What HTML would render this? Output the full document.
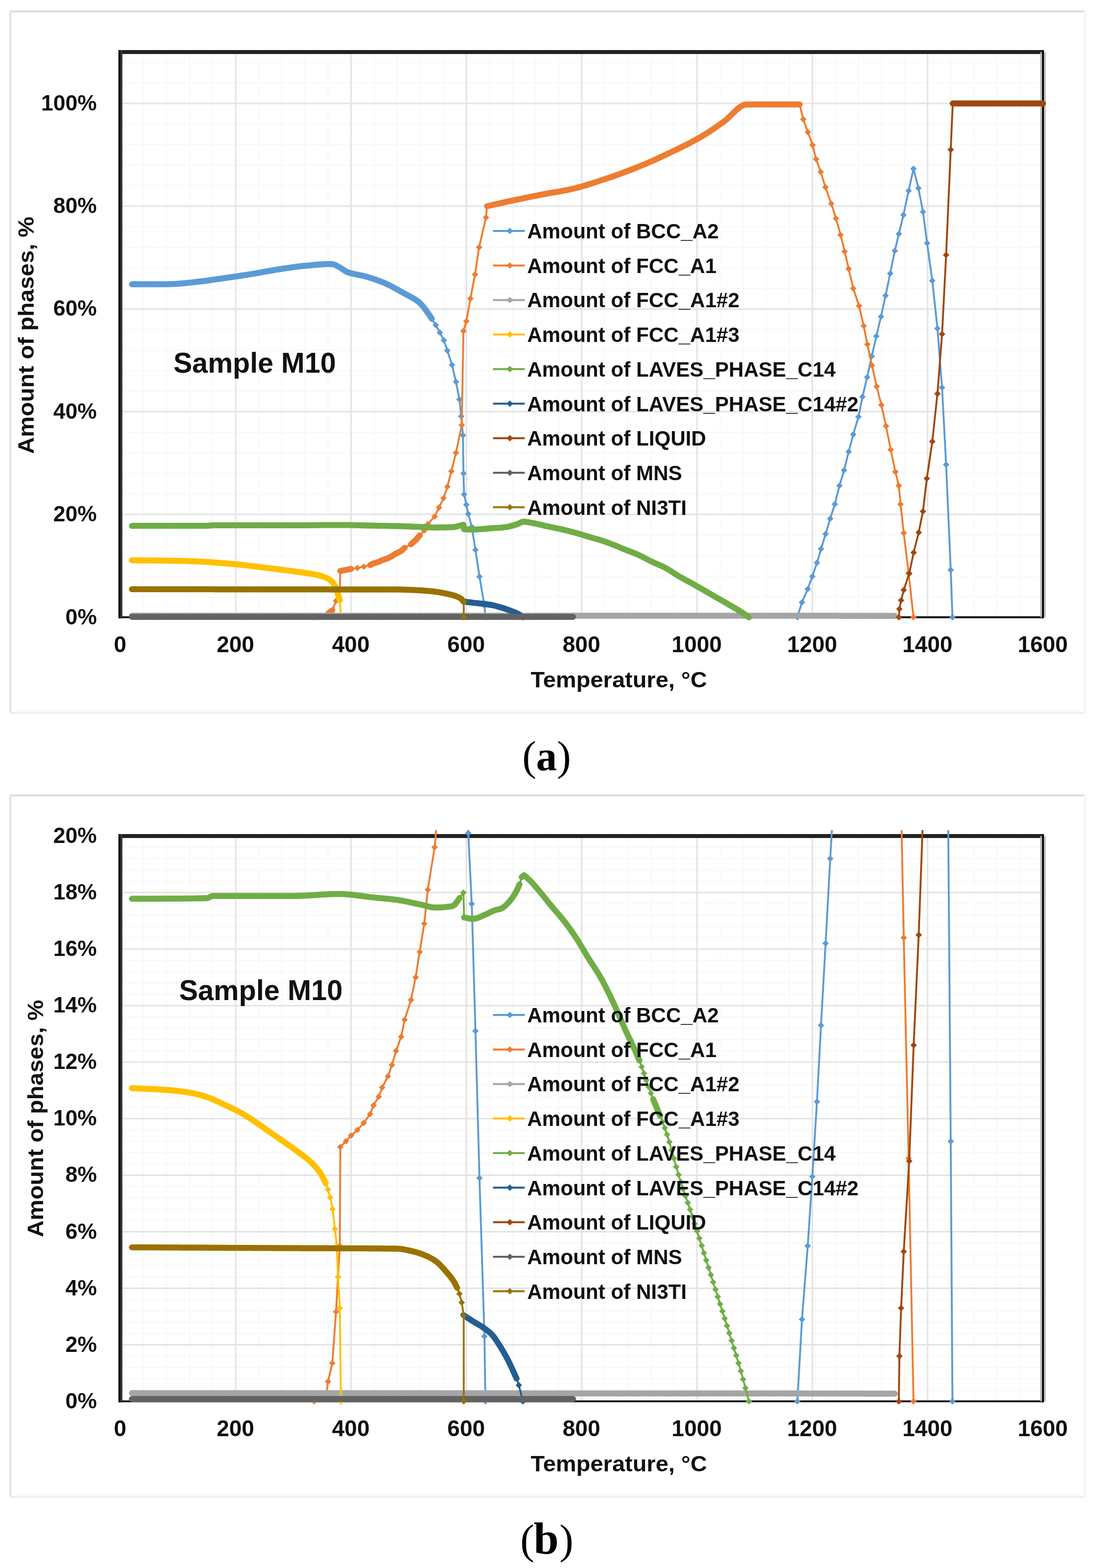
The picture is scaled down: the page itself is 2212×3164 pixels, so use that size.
<!DOCTYPE html>
<html><head><meta charset="utf-8"><title>Phase amounts vs temperature, Sample M10</title>
<style>html,body{margin:0;padding:0;background:#fff;}body{width:2212px;height:3164px;overflow:hidden;}svg{display:block;}</style>
</head><body>
<svg width="2212" height="3164" viewBox="0 0 2212 3164">
<rect width="2212" height="3164" fill="#ffffff"/>
<rect x="21" y="23" width="2169" height="1415" fill="#ffffff"/>
<line x1="19" y1="23" x2="2192" y2="23" stroke="#dcdcdc" stroke-width="4"/>
<line x1="21" y1="21" x2="21" y2="1440" stroke="#e3e3e3" stroke-width="4"/>
<line x1="19" y1="1438" x2="2192" y2="1438" stroke="#efefef" stroke-width="4"/>
<line x1="2190" y1="21" x2="2190" y2="1440" stroke="#f5f5f5" stroke-width="4"/>
<path d="M243 1204H2105M243 1162.6H2105M243 1121.1H2105M243 1079.6H2105M243 996.7H2105M243 955.2H2105M243 913.7H2105M243 872.2H2105M243 789.3H2105M243 747.8H2105M243 706.4H2105M243 664.9H2105M243 581.9H2105M243 540.5H2105M243 499H2105M243 457.5H2105M243 374.6H2105M243 333.1H2105M243 291.6H2105M243 250.2H2105M243 167.2H2105M243 125.7H2105M289.6 105V1245.5M336.1 105V1245.5M382.6 105V1245.5M429.2 105V1245.5M522.3 105V1245.5M568.9 105V1245.5M615.4 105V1245.5M662 105V1245.5M755 105V1245.5M801.6 105V1245.5M848.1 105V1245.5M894.7 105V1245.5M987.8 105V1245.5M1034.3 105V1245.5M1080.9 105V1245.5M1127.5 105V1245.5M1220.5 105V1245.5M1267.1 105V1245.5M1313.7 105V1245.5M1360.2 105V1245.5M1453.3 105V1245.5M1499.8 105V1245.5M1546.4 105V1245.5M1593 105V1245.5M1686 105V1245.5M1732.6 105V1245.5M1779.2 105V1245.5M1825.7 105V1245.5M1918.8 105V1245.5M1965.3 105V1245.5M2011.9 105V1245.5M2058.4 105V1245.5" stroke="#f8f8f8" stroke-width="2" fill="none"/>
<path d="M243 1245.5H2105M243 1038.1H2105M243 830.8H2105M243 623.4H2105M243 416H2105M243 208.7H2105M475.8 105V1245.5M708.5 105V1245.5M941.2 105V1245.5M1174 105V1245.5M1406.8 105V1245.5M1639.5 105V1245.5M1872.2 105V1245.5" stroke="#e3e3e3" stroke-width="3" fill="none"/>
<path d="M239.0 105H2107.0" stroke="#222" stroke-width="8" fill="none"/>
<path d="M239.0 1245.5H2107.0" stroke="#111" stroke-width="3.8" fill="none"/>
<path d="M241 101V1247.5" stroke="#0a0a0a" stroke-width="4" fill="none"/>
<path d="M245 101V1247.5" stroke="#333" stroke-width="4" fill="none"/>
<path d="M2105 101V1247.5" stroke="#0a0a0a" stroke-width="4" fill="none"/>
<path d="M2101 105V1245.5 M2109 105V1245.5" stroke="#b4b4b4" stroke-width="3" fill="none"/>
<clipPath id="clipa"><rect x="223.0" y="93.0" width="1902.0" height="1164.5"/></clipPath>
<g clip-path="url(#clipa)">
<path d="M266.3 573.6 L270.9 573.6 L275.6 573.6 L280.2 573.6 L284.9 573.6 L289.6 573.6 L294.2 573.6 L298.9 573.6 L303.5 573.6 L308.2 573.6 L312.8 573.6 L317.5 573.6 L322.1 573.6 L326.8 573.5 L331.4 573.5 L336.1 573.4 L340.8 573.3 L345.4 573.2 L350.1 573.1 L354.7 572.9 L359.4 572.6 L364 572.2 L368.7 571.8 L373.3 571.4 L378 570.9 L382.6 570.4 L387.3 569.9 L392 569.4 L396.6 568.8 L401.3 568.3 L405.9 567.8 L410.6 567.2 L415.2 566.6 L419.9 566 L424.5 565.3 L429.2 564.6 L433.9 563.9 L438.5 563.3 L443.2 562.6 L447.8 561.9 L452.5 561.2 L457.1 560.5 L461.8 559.9 L466.4 559.2 L471.1 558.5 L475.8 557.9 L480.4 557.2 L485.1 556.5 L489.7 555.8 L494.4 555.1 L499 554.4 L503.7 553.6 L508.3 552.9 L513 552.1 L517.6 551.3 L522.3 550.5 L527 549.7 L531.6 548.8 L536.3 548 L540.9 547.1 L545.6 546.3 L550.2 545.5 L554.9 544.7 L559.5 543.9 L564.2 543.2 L568.9 542.5 L573.5 541.8 L578.2 541.1 L582.8 540.4 L587.5 539.7 L592.1 539 L596.8 538.4 L601.4 537.8 L606.1 537.3 L610.7 536.8 L615.4 536.3 L620.1 535.9 L624.7 535.5 L629.4 535 L634 534.6 L638.7 534.2 L643.3 533.8 L648 533.5 L652.6 533.2 L657.3 532.9 L662 532.8 L666.6 532.7 L671.3 532.9 L675.9 534.4 L680.6 536.8 L685.2 539.3 L689.9 542.1 L694.5 545.4 L699.2 548.3 L703.8 550 L708.5 551.4 L713.2 552.5 L717.8 553.5 L722.5 554.4 L727.1 555.3 L731.8 556.3 L736.4 557.5 L741.1 558.8 L745.7 560.2 L750.4 561.6 L755 563.2 L759.7 564.8 L764.4 566.5 L769 568.3 L773.7 570.1 L778.3 572.1 L783 574.2 L787.6 576.5 L792.3 578.9 L796.9 581.4 L801.6 584 L806.3 586.7 L810.9 589.3 L815.6 591.9 L820.2 594.4 L824.9 596.8 L829.5 599.2 L834.2 601.9 L838.8 604.8 L843.5 608.1 L848.1 612 L852.8 617.2 L857.5 623.1 L862.1 629.5 L866.8 636 L871.4 643.2 L879.6 656.1 L887.7 671.1 L895.9 686.7 L902.8 707.4 L912.2 736.4 L920.3 770.6 L927.3 805.9 L930.8 840.1 L934.3 878.5 L935.4 955.2 L936.6 997.7 L941.2 1018.4 L945 1037.1 L952.1 1063 L959.6 1109.7 L967.7 1163.6 L977.7 1221.7 L979.7 1245.5" stroke="#5B9BD5" stroke-width="3.8" fill="none" stroke-linejoin="round"/>
<path d="M266.3 573.6 L270.9 573.6 L275.6 573.6 L280.2 573.6 L284.9 573.6 L289.6 573.6 L294.2 573.6 L298.9 573.6 L303.5 573.6 L308.2 573.6 L312.8 573.6 L317.5 573.6 L322.1 573.6 L326.8 573.5 L331.4 573.5 L336.1 573.4 L340.8 573.3 L345.4 573.2 L350.1 573.1 L354.7 572.9 L359.4 572.6 L364 572.2 L368.7 571.8 L373.3 571.4 L378 570.9 L382.6 570.4 L387.3 569.9 L392 569.4 L396.6 568.8 L401.3 568.3 L405.9 567.8 L410.6 567.2 L415.2 566.6 L419.9 566 L424.5 565.3 L429.2 564.6 L433.9 563.9 L438.5 563.3 L443.2 562.6 L447.8 561.9 L452.5 561.2 L457.1 560.5 L461.8 559.9 L466.4 559.2 L471.1 558.5 L475.8 557.9 L480.4 557.2 L485.1 556.5 L489.7 555.8 L494.4 555.1 L499 554.4 L503.7 553.6 L508.3 552.9 L513 552.1 L517.6 551.3 L522.3 550.5 L527 549.7 L531.6 548.8 L536.3 548 L540.9 547.1 L545.6 546.3 L550.2 545.5 L554.9 544.7 L559.5 543.9 L564.2 543.2 L568.9 542.5 L573.5 541.8 L578.2 541.1 L582.8 540.4 L587.5 539.7 L592.1 539 L596.8 538.4 L601.4 537.8 L606.1 537.3 L610.7 536.8 L615.4 536.3 L620.1 535.9 L624.7 535.5 L629.4 535 L634 534.6 L638.7 534.2 L643.3 533.8 L648 533.5 L652.6 533.2 L657.3 532.9 L662 532.8 L666.6 532.7 L671.3 532.9 L675.9 534.4 L680.6 536.8 L685.2 539.3 L689.9 542.1 L694.5 545.4 L699.2 548.3 L703.8 550 L708.5 551.4 L713.2 552.5 L717.8 553.5 L722.5 554.4 L727.1 555.3 L731.8 556.3 L736.4 557.5 L741.1 558.8 L745.7 560.2 L750.4 561.6 L755 563.2 L759.7 564.8 L764.4 566.5 L769 568.3 L773.7 570.1 L778.3 572.1 L783 574.2 L787.6 576.5 L792.3 578.9 L796.9 581.4 L801.6 584 L806.3 586.7 L810.9 589.3 L815.6 591.9 L820.2 594.4 L824.9 596.8 L829.5 599.2 L834.2 601.9 L838.8 604.8 L843.5 608.1 L848.1 612 L852.8 617.2 L857.5 623.1 L862.1 629.5 L866.8 636 L871.4 643.2" stroke="#5B9BD5" stroke-width="12" fill="none" stroke-linejoin="round" stroke-linecap="round"/>
<path d="M266.3 567.6l6 6l-6 6l-6 -6zM270.9 567.6l6 6l-6 6l-6 -6zM275.6 567.6l6 6l-6 6l-6 -6zM280.2 567.6l6 6l-6 6l-6 -6zM284.9 567.6l6 6l-6 6l-6 -6zM289.6 567.6l6 6l-6 6l-6 -6zM294.2 567.6l6 6l-6 6l-6 -6zM298.9 567.6l6 6l-6 6l-6 -6zM303.5 567.6l6 6l-6 6l-6 -6zM308.2 567.6l6 6l-6 6l-6 -6zM312.8 567.6l6 6l-6 6l-6 -6zM317.5 567.6l6 6l-6 6l-6 -6zM322.1 567.6l6 6l-6 6l-6 -6zM326.8 567.5l6 6l-6 6l-6 -6zM331.4 567.5l6 6l-6 6l-6 -6zM336.1 567.4l6 6l-6 6l-6 -6zM340.8 567.3l6 6l-6 6l-6 -6zM345.4 567.2l6 6l-6 6l-6 -6zM350.1 567.1l6 6l-6 6l-6 -6zM354.7 566.9l6 6l-6 6l-6 -6zM359.4 566.6l6 6l-6 6l-6 -6zM364 566.2l6 6l-6 6l-6 -6zM368.7 565.8l6 6l-6 6l-6 -6zM373.3 565.4l6 6l-6 6l-6 -6zM378 564.9l6 6l-6 6l-6 -6zM382.6 564.4l6 6l-6 6l-6 -6zM387.3 563.9l6 6l-6 6l-6 -6zM392 563.4l6 6l-6 6l-6 -6zM396.6 562.8l6 6l-6 6l-6 -6zM401.3 562.3l6 6l-6 6l-6 -6zM405.9 561.8l6 6l-6 6l-6 -6zM410.6 561.2l6 6l-6 6l-6 -6zM415.2 560.6l6 6l-6 6l-6 -6zM419.9 560l6 6l-6 6l-6 -6zM424.5 559.3l6 6l-6 6l-6 -6zM429.2 558.6l6 6l-6 6l-6 -6zM433.9 557.9l6 6l-6 6l-6 -6zM438.5 557.3l6 6l-6 6l-6 -6zM443.2 556.6l6 6l-6 6l-6 -6zM447.8 555.9l6 6l-6 6l-6 -6zM452.5 555.2l6 6l-6 6l-6 -6zM457.1 554.5l6 6l-6 6l-6 -6zM461.8 553.9l6 6l-6 6l-6 -6zM466.4 553.2l6 6l-6 6l-6 -6zM471.1 552.5l6 6l-6 6l-6 -6zM475.8 551.9l6 6l-6 6l-6 -6zM480.4 551.2l6 6l-6 6l-6 -6zM485.1 550.5l6 6l-6 6l-6 -6zM489.7 549.8l6 6l-6 6l-6 -6zM494.4 549.1l6 6l-6 6l-6 -6zM499 548.4l6 6l-6 6l-6 -6zM503.7 547.6l6 6l-6 6l-6 -6zM508.3 546.9l6 6l-6 6l-6 -6zM513 546.1l6 6l-6 6l-6 -6zM517.6 545.3l6 6l-6 6l-6 -6zM522.3 544.5l6 6l-6 6l-6 -6zM527 543.7l6 6l-6 6l-6 -6zM531.6 542.8l6 6l-6 6l-6 -6zM536.3 542l6 6l-6 6l-6 -6zM540.9 541.1l6 6l-6 6l-6 -6zM545.6 540.3l6 6l-6 6l-6 -6zM550.2 539.5l6 6l-6 6l-6 -6zM554.9 538.7l6 6l-6 6l-6 -6zM559.5 537.9l6 6l-6 6l-6 -6zM564.2 537.2l6 6l-6 6l-6 -6zM568.9 536.5l6 6l-6 6l-6 -6zM573.5 535.8l6 6l-6 6l-6 -6zM578.2 535.1l6 6l-6 6l-6 -6zM582.8 534.4l6 6l-6 6l-6 -6zM587.5 533.7l6 6l-6 6l-6 -6zM592.1 533l6 6l-6 6l-6 -6zM596.8 532.4l6 6l-6 6l-6 -6zM601.4 531.8l6 6l-6 6l-6 -6zM606.1 531.3l6 6l-6 6l-6 -6zM610.7 530.8l6 6l-6 6l-6 -6zM615.4 530.3l6 6l-6 6l-6 -6zM620.1 529.9l6 6l-6 6l-6 -6zM624.7 529.5l6 6l-6 6l-6 -6zM629.4 529l6 6l-6 6l-6 -6zM634 528.6l6 6l-6 6l-6 -6zM638.7 528.2l6 6l-6 6l-6 -6zM643.3 527.8l6 6l-6 6l-6 -6zM648 527.5l6 6l-6 6l-6 -6zM652.6 527.2l6 6l-6 6l-6 -6zM657.3 526.9l6 6l-6 6l-6 -6zM662 526.8l6 6l-6 6l-6 -6zM666.6 526.7l6 6l-6 6l-6 -6zM671.3 526.9l6 6l-6 6l-6 -6zM675.9 528.4l6 6l-6 6l-6 -6zM680.6 530.8l6 6l-6 6l-6 -6zM685.2 533.3l6 6l-6 6l-6 -6zM689.9 536.1l6 6l-6 6l-6 -6zM694.5 539.4l6 6l-6 6l-6 -6zM699.2 542.3l6 6l-6 6l-6 -6zM703.8 544l6 6l-6 6l-6 -6zM708.5 545.4l6 6l-6 6l-6 -6zM713.2 546.5l6 6l-6 6l-6 -6zM717.8 547.5l6 6l-6 6l-6 -6zM722.5 548.4l6 6l-6 6l-6 -6zM727.1 549.3l6 6l-6 6l-6 -6zM731.8 550.3l6 6l-6 6l-6 -6zM736.4 551.5l6 6l-6 6l-6 -6zM741.1 552.8l6 6l-6 6l-6 -6zM745.7 554.2l6 6l-6 6l-6 -6zM750.4 555.6l6 6l-6 6l-6 -6zM755 557.2l6 6l-6 6l-6 -6zM759.7 558.8l6 6l-6 6l-6 -6zM764.4 560.5l6 6l-6 6l-6 -6zM769 562.3l6 6l-6 6l-6 -6zM773.7 564.1l6 6l-6 6l-6 -6zM778.3 566.1l6 6l-6 6l-6 -6zM783 568.2l6 6l-6 6l-6 -6zM787.6 570.5l6 6l-6 6l-6 -6zM792.3 572.9l6 6l-6 6l-6 -6zM796.9 575.4l6 6l-6 6l-6 -6zM801.6 578l6 6l-6 6l-6 -6zM806.3 580.7l6 6l-6 6l-6 -6zM810.9 583.3l6 6l-6 6l-6 -6zM815.6 585.9l6 6l-6 6l-6 -6zM820.2 588.4l6 6l-6 6l-6 -6zM824.9 590.8l6 6l-6 6l-6 -6zM829.5 593.2l6 6l-6 6l-6 -6zM834.2 595.9l6 6l-6 6l-6 -6zM838.8 598.8l6 6l-6 6l-6 -6zM843.5 602.1l6 6l-6 6l-6 -6zM848.1 606l6 6l-6 6l-6 -6zM852.8 611.2l6 6l-6 6l-6 -6zM857.5 617.1l6 6l-6 6l-6 -6zM862.1 623.5l6 6l-6 6l-6 -6zM866.8 630l6 6l-6 6l-6 -6zM871.4 637.2l6 6l-6 6l-6 -6zM879.6 650.1l6 6l-6 6l-6 -6zM887.7 665.1l6 6l-6 6l-6 -6zM895.9 680.7l6 6l-6 6l-6 -6zM902.8 701.4l6 6l-6 6l-6 -6zM912.2 730.4l6 6l-6 6l-6 -6zM920.3 764.6l6 6l-6 6l-6 -6zM927.3 799.9l6 6l-6 6l-6 -6zM930.8 834.1l6 6l-6 6l-6 -6zM934.3 872.5l6 6l-6 6l-6 -6zM935.4 949.2l6 6l-6 6l-6 -6zM936.6 991.7l6 6l-6 6l-6 -6zM941.2 1012.4l6 6l-6 6l-6 -6zM945 1031.1l6 6l-6 6l-6 -6zM952.1 1057l6 6l-6 6l-6 -6zM959.6 1103.7l6 6l-6 6l-6 -6zM967.7 1157.6l6 6l-6 6l-6 -6zM977.7 1215.7l6 6l-6 6l-6 -6zM979.7 1239.5l6 6l-6 6l-6 -6z" fill="#5B9BD5" stroke="#5B9BD5" stroke-width="1"/>
<path d="M1609.2 1245.5 L1618.6 1215.4 L1630.2 1188.5 L1639.5 1163.1 L1648.8 1135.6 L1657 1107.6 L1666.3 1077.5 L1675.6 1046.4 L1684.9 1017.4 L1694.2 980.1 L1703.5 949 L1712.8 911.6 L1722.1 876.4 L1732.6 841.1 L1740.7 800.7 L1750.1 761.3 L1759.4 718.8 L1768.7 678.4 L1778 639 L1787.3 596.5 L1796.6 551.9 L1805.9 506.2 L1814.1 472 L1823.4 433.7 L1833.8 384.9 L1843.7 340.4 L1853.6 379.8 L1862.9 427.5 L1871.1 490.7 L1881.6 566.4 L1892 662.8 L1901.3 782 L1909.5 937.6 L1918.8 1150.1 L1922.3 1245.5" stroke="#5B9BD5" stroke-width="3.8" fill="none" stroke-linejoin="round"/>
<path d="M1609.2 1239.5l6 6l-6 6l-6 -6zM1618.6 1209.4l6 6l-6 6l-6 -6zM1630.2 1182.5l6 6l-6 6l-6 -6zM1639.5 1157.1l6 6l-6 6l-6 -6zM1648.8 1129.6l6 6l-6 6l-6 -6zM1657 1101.6l6 6l-6 6l-6 -6zM1666.3 1071.5l6 6l-6 6l-6 -6zM1675.6 1040.4l6 6l-6 6l-6 -6zM1684.9 1011.4l6 6l-6 6l-6 -6zM1694.2 974.1l6 6l-6 6l-6 -6zM1703.5 943l6 6l-6 6l-6 -6zM1712.8 905.6l6 6l-6 6l-6 -6zM1722.1 870.4l6 6l-6 6l-6 -6zM1732.6 835.1l6 6l-6 6l-6 -6zM1740.7 794.7l6 6l-6 6l-6 -6zM1750.1 755.3l6 6l-6 6l-6 -6zM1759.4 712.8l6 6l-6 6l-6 -6zM1768.7 672.4l6 6l-6 6l-6 -6zM1778 633l6 6l-6 6l-6 -6zM1787.3 590.5l6 6l-6 6l-6 -6zM1796.6 545.9l6 6l-6 6l-6 -6zM1805.9 500.2l6 6l-6 6l-6 -6zM1814.1 466l6 6l-6 6l-6 -6zM1823.4 427.7l6 6l-6 6l-6 -6zM1833.8 378.9l6 6l-6 6l-6 -6zM1843.7 334.4l6 6l-6 6l-6 -6zM1853.6 373.8l6 6l-6 6l-6 -6zM1862.9 421.5l6 6l-6 6l-6 -6zM1871.1 484.7l6 6l-6 6l-6 -6zM1881.6 560.4l6 6l-6 6l-6 -6zM1892 656.8l6 6l-6 6l-6 -6zM1901.3 776l6 6l-6 6l-6 -6zM1909.5 931.6l6 6l-6 6l-6 -6zM1918.8 1144.1l6 6l-6 6l-6 -6zM1922.3 1239.5l6 6l-6 6l-6 -6z" fill="#5B9BD5" stroke="#5B9BD5" stroke-width="1"/>
<path d="M634 1245.5 L658.5 1243 L662 1238.2 L670.7 1231.5 L678.2 1212.6 L685.8 1188.5 L686.9 1152.2 L698 1150.1 L708.5 1148 L721.3 1146 L734.1 1143.4 L746.9 1140.2 L753.9 1136.9 L764.4 1133.7 L771.3 1130.4 L783 1126.3 L791.1 1122.1 L799.3 1116.9 L809.7 1111.8 L816.7 1105.5 L829.5 1098.3 L838.8 1090 L847 1080.6 L856.3 1070.3 L863.3 1057.8 L877.2 1042.3 L886 1024.1 L895.3 1005 L902.8 982.1 L911 951 L920.3 913.7 L931.9 857.7 L935.4 668 L941.2 648.3 L949.4 602.7 L958.7 553.9 L966.9 499 L980.8 438.9 L983.1 416 L987.8 415 L992.5 414 L997.1 412.9 L1001.8 411.9 L1006.4 410.8 L1011.1 409.8 L1015.7 408.7 L1020.4 407.7 L1025 406.7 L1029.7 405.7 L1034.3 404.7 L1039 403.7 L1043.7 402.7 L1048.3 401.8 L1053 400.8 L1057.6 399.8 L1062.3 398.9 L1066.9 397.9 L1071.6 397 L1076.2 396 L1080.9 395.1 L1085.6 394.2 L1090.2 393.2 L1094.9 392.3 L1099.5 391.5 L1104.2 390.6 L1108.8 389.8 L1113.5 389 L1118.1 388.2 L1122.8 387.4 L1127.5 386.6 L1132.1 385.8 L1136.8 384.9 L1141.4 384 L1146.1 383.1 L1150.7 382.1 L1155.4 381.1 L1160 380 L1164.7 378.8 L1169.3 377.6 L1174 376.3 L1178.7 374.9 L1183.3 373.5 L1188 372.1 L1192.6 370.7 L1197.3 369.2 L1201.9 367.6 L1206.6 366.1 L1211.2 364.6 L1215.9 363 L1220.5 361.5 L1225.2 359.9 L1229.9 358.4 L1234.5 356.8 L1239.2 355.2 L1243.8 353.5 L1248.5 351.9 L1253.1 350.2 L1257.8 348.5 L1262.4 346.7 L1267.1 345 L1271.8 343.2 L1276.4 341.4 L1281.1 339.6 L1285.7 337.7 L1290.4 335.8 L1295 333.9 L1299.7 332 L1304.3 330 L1309 328 L1313.7 325.9 L1318.3 323.9 L1323 321.8 L1327.6 319.7 L1332.3 317.5 L1336.9 315.4 L1341.6 313.2 L1346.2 311 L1350.9 308.8 L1355.5 306.5 L1360.2 304.3 L1364.9 302.1 L1369.5 299.8 L1374.2 297.5 L1378.8 295.2 L1383.5 292.9 L1388.1 290.6 L1392.8 288.2 L1397.4 285.7 L1402.1 283.2 L1406.8 280.7 L1411.4 278 L1416.1 275.4 L1420.7 272.6 L1425.4 269.7 L1430 266.8 L1434.7 263.7 L1439.3 260.5 L1444 257.3 L1448.6 254.1 L1453.3 250.8 L1458 247.5 L1462.6 244.1 L1467.3 240.3 L1471.9 235.9 L1476.6 231.3 L1481.2 226.7 L1485.9 222.2 L1490.5 218.1 L1495.2 214.8 L1499.8 212.3 L1504.5 210.9 L1509.2 210.8 L1513.8 210.8 L1518.5 210.8 L1523.1 210.8 L1527.8 210.8 L1532.4 210.8 L1537.1 210.8 L1541.7 210.8 L1546.4 210.8 L1551.1 210.8 L1555.7 210.8 L1560.4 210.8 L1565 210.8 L1569.7 210.8 L1574.3 210.8 L1579 210.8 L1583.6 210.8 L1588.3 210.8 L1593 210.8 L1597.6 210.8 L1602.3 210.8 L1606.9 210.8 L1613.9 210.8 L1621.2 240.8 L1630.5 266.7 L1640 292.7 L1647.1 321.2 L1656.5 347 L1665.9 377.7 L1677.7 410.9 L1687.2 440.9 L1696.5 474.1 L1704.7 507.3 L1712.8 542.5 L1722.1 581.9 L1733.8 617.2 L1743.1 657.6 L1750.6 694.9 L1759.9 737.5 L1769.4 780 L1778.8 817.3 L1788.2 859.8 L1797.7 907.5 L1807.1 952.1 L1814.1 980.1 L1817.6 1017.4 L1824 1075.5 L1833.8 1156.3 L1843.7 1245.5" stroke="#ED7D31" stroke-width="3.8" fill="none" stroke-linejoin="round"/>
<path d="M658.5 1243 L662 1238.2 L670.7 1231.5M686.9 1152.2 L698 1150.1 L708.5 1148M746.9 1140.2 L753.9 1136.9 L764.4 1133.7 L771.3 1130.4 L783 1126.3 L791.1 1122.1 L799.3 1116.9 L809.7 1111.8 L816.7 1105.5M829.5 1098.3 L838.8 1090 L847 1080.6M983.1 416 L987.8 415 L992.5 414 L997.1 412.9 L1001.8 411.9 L1006.4 410.8 L1011.1 409.8 L1015.7 408.7 L1020.4 407.7 L1025 406.7 L1029.7 405.7 L1034.3 404.7 L1039 403.7 L1043.7 402.7 L1048.3 401.8 L1053 400.8 L1057.6 399.8 L1062.3 398.9 L1066.9 397.9 L1071.6 397 L1076.2 396 L1080.9 395.1 L1085.6 394.2 L1090.2 393.2 L1094.9 392.3 L1099.5 391.5 L1104.2 390.6 L1108.8 389.8 L1113.5 389 L1118.1 388.2 L1122.8 387.4 L1127.5 386.6 L1132.1 385.8 L1136.8 384.9 L1141.4 384 L1146.1 383.1 L1150.7 382.1 L1155.4 381.1 L1160 380 L1164.7 378.8 L1169.3 377.6 L1174 376.3 L1178.7 374.9 L1183.3 373.5 L1188 372.1 L1192.6 370.7 L1197.3 369.2 L1201.9 367.6 L1206.6 366.1 L1211.2 364.6 L1215.9 363 L1220.5 361.5 L1225.2 359.9 L1229.9 358.4 L1234.5 356.8 L1239.2 355.2 L1243.8 353.5 L1248.5 351.9 L1253.1 350.2 L1257.8 348.5 L1262.4 346.7 L1267.1 345 L1271.8 343.2 L1276.4 341.4 L1281.1 339.6 L1285.7 337.7 L1290.4 335.8 L1295 333.9 L1299.7 332 L1304.3 330 L1309 328 L1313.7 325.9 L1318.3 323.9 L1323 321.8 L1327.6 319.7 L1332.3 317.5 L1336.9 315.4 L1341.6 313.2 L1346.2 311 L1350.9 308.8 L1355.5 306.5 L1360.2 304.3 L1364.9 302.1 L1369.5 299.8 L1374.2 297.5 L1378.8 295.2 L1383.5 292.9 L1388.1 290.6 L1392.8 288.2 L1397.4 285.7 L1402.1 283.2 L1406.8 280.7 L1411.4 278 L1416.1 275.4 L1420.7 272.6 L1425.4 269.7 L1430 266.8 L1434.7 263.7 L1439.3 260.5 L1444 257.3 L1448.6 254.1 L1453.3 250.8 L1458 247.5 L1462.6 244.1 L1467.3 240.3 L1471.9 235.9 L1476.6 231.3 L1481.2 226.7 L1485.9 222.2 L1490.5 218.1 L1495.2 214.8 L1499.8 212.3 L1504.5 210.9 L1509.2 210.8 L1513.8 210.8 L1518.5 210.8 L1523.1 210.8 L1527.8 210.8 L1532.4 210.8 L1537.1 210.8 L1541.7 210.8 L1546.4 210.8 L1551.1 210.8 L1555.7 210.8 L1560.4 210.8 L1565 210.8 L1569.7 210.8 L1574.3 210.8 L1579 210.8 L1583.6 210.8 L1588.3 210.8 L1593 210.8 L1597.6 210.8 L1602.3 210.8 L1606.9 210.8 L1613.9 210.8" stroke="#ED7D31" stroke-width="12" fill="none" stroke-linejoin="round" stroke-linecap="round"/>
<path d="M634 1239.5l6 6l-6 6l-6 -6zM658.5 1237l6 6l-6 6l-6 -6zM662 1232.2l6 6l-6 6l-6 -6zM670.7 1225.5l6 6l-6 6l-6 -6zM678.2 1206.6l6 6l-6 6l-6 -6zM685.8 1182.5l6 6l-6 6l-6 -6zM686.9 1146.2l6 6l-6 6l-6 -6zM698 1144.1l6 6l-6 6l-6 -6zM708.5 1142l6 6l-6 6l-6 -6zM721.3 1140l6 6l-6 6l-6 -6zM734.1 1137.4l6 6l-6 6l-6 -6zM746.9 1134.2l6 6l-6 6l-6 -6zM753.9 1130.9l6 6l-6 6l-6 -6zM764.4 1127.7l6 6l-6 6l-6 -6zM771.3 1124.4l6 6l-6 6l-6 -6zM783 1120.3l6 6l-6 6l-6 -6zM791.1 1116.1l6 6l-6 6l-6 -6zM799.3 1110.9l6 6l-6 6l-6 -6zM809.7 1105.8l6 6l-6 6l-6 -6zM816.7 1099.5l6 6l-6 6l-6 -6zM829.5 1092.3l6 6l-6 6l-6 -6zM838.8 1084l6 6l-6 6l-6 -6zM847 1074.6l6 6l-6 6l-6 -6zM856.3 1064.3l6 6l-6 6l-6 -6zM863.3 1051.8l6 6l-6 6l-6 -6zM877.2 1036.3l6 6l-6 6l-6 -6zM886 1018.1l6 6l-6 6l-6 -6zM895.3 999l6 6l-6 6l-6 -6zM902.8 976.1l6 6l-6 6l-6 -6zM911 945l6 6l-6 6l-6 -6zM920.3 907.7l6 6l-6 6l-6 -6zM931.9 851.7l6 6l-6 6l-6 -6zM935.4 662l6 6l-6 6l-6 -6zM941.2 642.3l6 6l-6 6l-6 -6zM949.4 596.7l6 6l-6 6l-6 -6zM958.7 547.9l6 6l-6 6l-6 -6zM966.9 493l6 6l-6 6l-6 -6zM980.8 432.9l6 6l-6 6l-6 -6zM983.1 410l6 6l-6 6l-6 -6zM987.8 409l6 6l-6 6l-6 -6zM992.5 408l6 6l-6 6l-6 -6zM997.1 406.9l6 6l-6 6l-6 -6zM1001.8 405.9l6 6l-6 6l-6 -6zM1006.4 404.8l6 6l-6 6l-6 -6zM1011.1 403.8l6 6l-6 6l-6 -6zM1015.7 402.7l6 6l-6 6l-6 -6zM1020.4 401.7l6 6l-6 6l-6 -6zM1025 400.7l6 6l-6 6l-6 -6zM1029.7 399.7l6 6l-6 6l-6 -6zM1034.3 398.7l6 6l-6 6l-6 -6zM1039 397.7l6 6l-6 6l-6 -6zM1043.7 396.7l6 6l-6 6l-6 -6zM1048.3 395.8l6 6l-6 6l-6 -6zM1053 394.8l6 6l-6 6l-6 -6zM1057.6 393.8l6 6l-6 6l-6 -6zM1062.3 392.9l6 6l-6 6l-6 -6zM1066.9 391.9l6 6l-6 6l-6 -6zM1071.6 391l6 6l-6 6l-6 -6zM1076.2 390l6 6l-6 6l-6 -6zM1080.9 389.1l6 6l-6 6l-6 -6zM1085.6 388.2l6 6l-6 6l-6 -6zM1090.2 387.2l6 6l-6 6l-6 -6zM1094.9 386.3l6 6l-6 6l-6 -6zM1099.5 385.5l6 6l-6 6l-6 -6zM1104.2 384.6l6 6l-6 6l-6 -6zM1108.8 383.8l6 6l-6 6l-6 -6zM1113.5 383l6 6l-6 6l-6 -6zM1118.1 382.2l6 6l-6 6l-6 -6zM1122.8 381.4l6 6l-6 6l-6 -6zM1127.5 380.6l6 6l-6 6l-6 -6zM1132.1 379.8l6 6l-6 6l-6 -6zM1136.8 378.9l6 6l-6 6l-6 -6zM1141.4 378l6 6l-6 6l-6 -6zM1146.1 377.1l6 6l-6 6l-6 -6zM1150.7 376.1l6 6l-6 6l-6 -6zM1155.4 375.1l6 6l-6 6l-6 -6zM1160 374l6 6l-6 6l-6 -6zM1164.7 372.8l6 6l-6 6l-6 -6zM1169.3 371.6l6 6l-6 6l-6 -6zM1174 370.3l6 6l-6 6l-6 -6zM1178.7 368.9l6 6l-6 6l-6 -6zM1183.3 367.5l6 6l-6 6l-6 -6zM1188 366.1l6 6l-6 6l-6 -6zM1192.6 364.7l6 6l-6 6l-6 -6zM1197.3 363.2l6 6l-6 6l-6 -6zM1201.9 361.6l6 6l-6 6l-6 -6zM1206.6 360.1l6 6l-6 6l-6 -6zM1211.2 358.6l6 6l-6 6l-6 -6zM1215.9 357l6 6l-6 6l-6 -6zM1220.5 355.5l6 6l-6 6l-6 -6zM1225.2 353.9l6 6l-6 6l-6 -6zM1229.9 352.4l6 6l-6 6l-6 -6zM1234.5 350.8l6 6l-6 6l-6 -6zM1239.2 349.2l6 6l-6 6l-6 -6zM1243.8 347.5l6 6l-6 6l-6 -6zM1248.5 345.9l6 6l-6 6l-6 -6zM1253.1 344.2l6 6l-6 6l-6 -6zM1257.8 342.5l6 6l-6 6l-6 -6zM1262.4 340.7l6 6l-6 6l-6 -6zM1267.1 339l6 6l-6 6l-6 -6zM1271.8 337.2l6 6l-6 6l-6 -6zM1276.4 335.4l6 6l-6 6l-6 -6zM1281.1 333.6l6 6l-6 6l-6 -6zM1285.7 331.7l6 6l-6 6l-6 -6zM1290.4 329.8l6 6l-6 6l-6 -6zM1295 327.9l6 6l-6 6l-6 -6zM1299.7 326l6 6l-6 6l-6 -6zM1304.3 324l6 6l-6 6l-6 -6zM1309 322l6 6l-6 6l-6 -6zM1313.7 319.9l6 6l-6 6l-6 -6zM1318.3 317.9l6 6l-6 6l-6 -6zM1323 315.8l6 6l-6 6l-6 -6zM1327.6 313.7l6 6l-6 6l-6 -6zM1332.3 311.5l6 6l-6 6l-6 -6zM1336.9 309.4l6 6l-6 6l-6 -6zM1341.6 307.2l6 6l-6 6l-6 -6zM1346.2 305l6 6l-6 6l-6 -6zM1350.9 302.8l6 6l-6 6l-6 -6zM1355.5 300.5l6 6l-6 6l-6 -6zM1360.2 298.3l6 6l-6 6l-6 -6zM1364.9 296.1l6 6l-6 6l-6 -6zM1369.5 293.8l6 6l-6 6l-6 -6zM1374.2 291.5l6 6l-6 6l-6 -6zM1378.8 289.2l6 6l-6 6l-6 -6zM1383.5 286.9l6 6l-6 6l-6 -6zM1388.1 284.6l6 6l-6 6l-6 -6zM1392.8 282.2l6 6l-6 6l-6 -6zM1397.4 279.7l6 6l-6 6l-6 -6zM1402.1 277.2l6 6l-6 6l-6 -6zM1406.8 274.7l6 6l-6 6l-6 -6zM1411.4 272l6 6l-6 6l-6 -6zM1416.1 269.4l6 6l-6 6l-6 -6zM1420.7 266.6l6 6l-6 6l-6 -6zM1425.4 263.7l6 6l-6 6l-6 -6zM1430 260.8l6 6l-6 6l-6 -6zM1434.7 257.7l6 6l-6 6l-6 -6zM1439.3 254.5l6 6l-6 6l-6 -6zM1444 251.3l6 6l-6 6l-6 -6zM1448.6 248.1l6 6l-6 6l-6 -6zM1453.3 244.8l6 6l-6 6l-6 -6zM1458 241.5l6 6l-6 6l-6 -6zM1462.6 238.1l6 6l-6 6l-6 -6zM1467.3 234.3l6 6l-6 6l-6 -6zM1471.9 229.9l6 6l-6 6l-6 -6zM1476.6 225.3l6 6l-6 6l-6 -6zM1481.2 220.7l6 6l-6 6l-6 -6zM1485.9 216.2l6 6l-6 6l-6 -6zM1490.5 212.1l6 6l-6 6l-6 -6zM1495.2 208.8l6 6l-6 6l-6 -6zM1499.8 206.3l6 6l-6 6l-6 -6zM1504.5 204.9l6 6l-6 6l-6 -6zM1509.2 204.8l6 6l-6 6l-6 -6zM1513.8 204.8l6 6l-6 6l-6 -6zM1518.5 204.8l6 6l-6 6l-6 -6zM1523.1 204.8l6 6l-6 6l-6 -6zM1527.8 204.8l6 6l-6 6l-6 -6zM1532.4 204.8l6 6l-6 6l-6 -6zM1537.1 204.8l6 6l-6 6l-6 -6zM1541.7 204.8l6 6l-6 6l-6 -6zM1546.4 204.8l6 6l-6 6l-6 -6zM1551.1 204.8l6 6l-6 6l-6 -6zM1555.7 204.8l6 6l-6 6l-6 -6zM1560.4 204.8l6 6l-6 6l-6 -6zM1565 204.8l6 6l-6 6l-6 -6zM1569.7 204.8l6 6l-6 6l-6 -6zM1574.3 204.8l6 6l-6 6l-6 -6zM1579 204.8l6 6l-6 6l-6 -6zM1583.6 204.8l6 6l-6 6l-6 -6zM1588.3 204.8l6 6l-6 6l-6 -6zM1593 204.8l6 6l-6 6l-6 -6zM1597.6 204.8l6 6l-6 6l-6 -6zM1602.3 204.8l6 6l-6 6l-6 -6zM1606.9 204.8l6 6l-6 6l-6 -6zM1613.9 204.8l6 6l-6 6l-6 -6zM1621.2 234.8l6 6l-6 6l-6 -6zM1630.5 260.7l6 6l-6 6l-6 -6zM1640 286.7l6 6l-6 6l-6 -6zM1647.1 315.2l6 6l-6 6l-6 -6zM1656.5 341l6 6l-6 6l-6 -6zM1665.9 371.7l6 6l-6 6l-6 -6zM1677.7 404.9l6 6l-6 6l-6 -6zM1687.2 434.9l6 6l-6 6l-6 -6zM1696.5 468.1l6 6l-6 6l-6 -6zM1704.7 501.3l6 6l-6 6l-6 -6zM1712.8 536.5l6 6l-6 6l-6 -6zM1722.1 575.9l6 6l-6 6l-6 -6zM1733.8 611.2l6 6l-6 6l-6 -6zM1743.1 651.6l6 6l-6 6l-6 -6zM1750.6 688.9l6 6l-6 6l-6 -6zM1759.9 731.5l6 6l-6 6l-6 -6zM1769.4 774l6 6l-6 6l-6 -6zM1778.8 811.3l6 6l-6 6l-6 -6zM1788.2 853.8l6 6l-6 6l-6 -6zM1797.7 901.5l6 6l-6 6l-6 -6zM1807.1 946.1l6 6l-6 6l-6 -6zM1814.1 974.1l6 6l-6 6l-6 -6zM1817.6 1011.4l6 6l-6 6l-6 -6zM1824 1069.5l6 6l-6 6l-6 -6zM1833.8 1150.3l6 6l-6 6l-6 -6zM1843.7 1239.5l6 6l-6 6l-6 -6z" fill="#ED7D31" stroke="#ED7D31" stroke-width="1"/>
<path d="M266.3 1242.5 L270.9 1242.5 L275.6 1242.5 L280.2 1242.5 L284.9 1242.5 L289.6 1242.5 L294.2 1242.5 L298.9 1242.5 L303.5 1242.5 L308.2 1242.5 L312.8 1242.5 L317.5 1242.5 L322.1 1242.5 L326.8 1242.5 L331.4 1242.5 L336.1 1242.5 L340.8 1242.5 L345.4 1242.5 L350.1 1242.5 L354.7 1242.5 L359.4 1242.5 L364 1242.5 L368.7 1242.5 L373.3 1242.5 L378 1242.5 L382.6 1242.5 L387.3 1242.5 L392 1242.5 L396.6 1242.5 L401.3 1242.5 L405.9 1242.5 L410.6 1242.5 L415.2 1242.5 L419.9 1242.5 L424.5 1242.5 L429.2 1242.5 L433.9 1242.5 L438.5 1242.5 L443.2 1242.5 L447.8 1242.5 L452.5 1242.5 L457.1 1242.5 L461.8 1242.5 L466.4 1242.5 L471.1 1242.5 L475.8 1242.5 L480.4 1242.5 L485.1 1242.5 L489.7 1242.5 L494.4 1242.5 L499 1242.5 L503.7 1242.5 L508.3 1242.5 L513 1242.5 L517.6 1242.5 L522.3 1242.5 L527 1242.5 L531.6 1242.5 L536.3 1242.5 L540.9 1242.5 L545.6 1242.5 L550.2 1242.5 L554.9 1242.5 L559.5 1242.5 L564.2 1242.5 L568.9 1242.5 L573.5 1242.5 L578.2 1242.5 L582.8 1242.5 L587.5 1242.5 L592.1 1242.5 L596.8 1242.5 L601.4 1242.5 L606.1 1242.5 L610.7 1242.5 L615.4 1242.5 L620.1 1242.5 L624.7 1242.5 L629.4 1242.5 L634 1242.5 L638.7 1242.5 L643.3 1242.5 L648 1242.5 L652.6 1242.5 L657.3 1242.5 L662 1242.5 L666.6 1242.5 L671.3 1242.5 L675.9 1242.5 L680.6 1242.5 L685.2 1242.5 L689.9 1242.5 L694.5 1242.5 L699.2 1242.5 L703.8 1242.5 L708.5 1242.5 L713.2 1242.5 L717.8 1242.5 L722.5 1242.5 L727.1 1242.5 L731.8 1242.5 L736.4 1242.5 L741.1 1242.5 L745.7 1242.5 L750.4 1242.5 L755 1242.5 L759.7 1242.5 L764.4 1242.5 L769 1242.5 L773.7 1242.5 L778.3 1242.5 L783 1242.5 L787.6 1242.5 L792.3 1242.5 L796.9 1242.5 L801.6 1242.5 L806.3 1242.5 L810.9 1242.5 L815.6 1242.5 L820.2 1242.5 L824.9 1242.5 L829.5 1242.5 L834.2 1242.5 L838.8 1242.5 L843.5 1242.5 L848.1 1242.5 L852.8 1242.5 L857.5 1242.5 L862.1 1242.5 L866.8 1242.5 L871.4 1242.5 L876.1 1242.5 L880.7 1242.5 L885.4 1242.5 L890 1242.5 L894.7 1242.5 L899.4 1242.5 L904 1242.5 L908.7 1242.5 L913.3 1242.5 L918 1242.5 L922.6 1242.5 L927.3 1242.5 L931.9 1242.5 L936.6 1242.5 L941.2 1242.5 L945.9 1242.5 L950.6 1242.5 L955.2 1242.5 L959.9 1242.6 L964.5 1242.6 L969.2 1242.6 L973.8 1242.6 L978.5 1242.6 L983.1 1242.6 L987.8 1242.6 L992.5 1242.6 L997.1 1242.6 L1001.8 1242.6 L1006.4 1242.6 L1011.1 1242.6 L1015.7 1242.6 L1020.4 1242.6 L1025 1242.6 L1029.7 1242.6 L1034.3 1242.6 L1039 1242.6 L1043.7 1242.6 L1048.3 1242.6 L1053 1242.6 L1057.6 1242.6 L1062.3 1242.6 L1066.9 1242.6 L1071.6 1242.6 L1076.2 1242.6 L1080.9 1242.6 L1085.6 1242.6 L1090.2 1242.6 L1094.9 1242.6 L1099.5 1242.6 L1104.2 1242.6 L1108.8 1242.6 L1113.5 1242.6 L1118.1 1242.6 L1122.8 1242.6 L1127.5 1242.6 L1132.1 1242.6 L1136.8 1242.6 L1141.4 1242.6 L1146.1 1242.6 L1150.7 1242.6 L1155.4 1242.6 L1160 1242.6 L1164.7 1242.6 L1169.3 1242.6 L1174 1242.6 L1178.7 1242.6 L1183.3 1242.6 L1188 1242.6 L1192.6 1242.6 L1197.3 1242.6 L1201.9 1242.6 L1206.6 1242.6 L1211.2 1242.6 L1215.9 1242.6 L1220.5 1242.6 L1225.2 1242.6 L1229.9 1242.6 L1234.5 1242.6 L1239.2 1242.6 L1243.8 1242.6 L1248.5 1242.6 L1253.1 1242.6 L1257.8 1242.6 L1262.4 1242.6 L1267.1 1242.6 L1271.8 1242.6 L1276.4 1242.6 L1281.1 1242.6 L1285.7 1242.6 L1290.4 1242.6 L1295 1242.6 L1299.7 1242.6 L1304.3 1242.6 L1309 1242.6 L1313.7 1242.6 L1318.3 1242.6 L1323 1242.6 L1327.6 1242.6 L1332.3 1242.6 L1336.9 1242.6 L1341.6 1242.6 L1346.2 1242.6 L1350.9 1242.6 L1355.5 1242.6 L1360.2 1242.6 L1364.9 1242.6 L1369.5 1242.6 L1374.2 1242.6 L1378.8 1242.6 L1383.5 1242.6 L1388.1 1242.6 L1392.8 1242.6 L1397.4 1242.6 L1402.1 1242.6 L1406.8 1242.6 L1411.4 1242.6 L1416.1 1242.6 L1420.7 1242.6 L1425.4 1242.6 L1430 1242.6 L1434.7 1242.6 L1439.3 1242.6 L1444 1242.6 L1448.6 1242.6 L1453.3 1242.6 L1458 1242.6 L1462.6 1242.6 L1467.3 1242.6 L1471.9 1242.6 L1476.6 1242.6 L1481.2 1242.6 L1485.9 1242.6 L1490.5 1242.6 L1495.2 1242.6 L1499.8 1242.6 L1504.5 1242.6 L1509.2 1242.6 L1513.8 1242.6 L1518.5 1242.6 L1523.1 1242.6 L1527.8 1242.6 L1532.4 1242.6 L1537.1 1242.6 L1541.7 1242.6 L1546.4 1242.6 L1551.1 1242.6 L1555.7 1242.6 L1560.4 1242.6 L1565 1242.6 L1569.7 1242.6 L1574.3 1242.6 L1579 1242.6 L1583.6 1242.6 L1588.3 1242.6 L1593 1242.6 L1597.6 1242.6 L1602.3 1242.6 L1606.9 1242.6 L1611.6 1242.6 L1616.2 1242.6 L1620.9 1242.6 L1625.5 1242.6 L1630.2 1242.6 L1634.8 1242.6 L1639.5 1242.6 L1644.2 1242.6 L1648.8 1242.6 L1653.5 1242.6 L1658.1 1242.6 L1662.8 1242.6 L1667.4 1242.6 L1672.1 1242.6 L1676.7 1242.6 L1681.4 1242.6 L1686 1242.6 L1690.7 1242.6 L1695.4 1242.7 L1700 1242.7 L1704.7 1242.7 L1709.3 1242.7 L1714 1242.7 L1718.6 1242.7 L1723.3 1242.7 L1727.9 1242.7 L1732.6 1242.7 L1737.3 1242.7 L1741.9 1242.7 L1746.6 1242.7 L1751.2 1242.7 L1755.9 1242.7 L1760.5 1242.7 L1765.2 1242.7 L1769.8 1242.7 L1774.5 1242.7 L1779.2 1242.7 L1783.8 1242.7 L1788.5 1242.7 L1793.1 1242.7 L1797.8 1242.7 L1805.9 1242.7" stroke="#A5A5A5" stroke-width="3.8" fill="none" stroke-linejoin="round"/>
<path d="M266.3 1242.5 L270.9 1242.5 L275.6 1242.5 L280.2 1242.5 L284.9 1242.5 L289.6 1242.5 L294.2 1242.5 L298.9 1242.5 L303.5 1242.5 L308.2 1242.5 L312.8 1242.5 L317.5 1242.5 L322.1 1242.5 L326.8 1242.5 L331.4 1242.5 L336.1 1242.5 L340.8 1242.5 L345.4 1242.5 L350.1 1242.5 L354.7 1242.5 L359.4 1242.5 L364 1242.5 L368.7 1242.5 L373.3 1242.5 L378 1242.5 L382.6 1242.5 L387.3 1242.5 L392 1242.5 L396.6 1242.5 L401.3 1242.5 L405.9 1242.5 L410.6 1242.5 L415.2 1242.5 L419.9 1242.5 L424.5 1242.5 L429.2 1242.5 L433.9 1242.5 L438.5 1242.5 L443.2 1242.5 L447.8 1242.5 L452.5 1242.5 L457.1 1242.5 L461.8 1242.5 L466.4 1242.5 L471.1 1242.5 L475.8 1242.5 L480.4 1242.5 L485.1 1242.5 L489.7 1242.5 L494.4 1242.5 L499 1242.5 L503.7 1242.5 L508.3 1242.5 L513 1242.5 L517.6 1242.5 L522.3 1242.5 L527 1242.5 L531.6 1242.5 L536.3 1242.5 L540.9 1242.5 L545.6 1242.5 L550.2 1242.5 L554.9 1242.5 L559.5 1242.5 L564.2 1242.5 L568.9 1242.5 L573.5 1242.5 L578.2 1242.5 L582.8 1242.5 L587.5 1242.5 L592.1 1242.5 L596.8 1242.5 L601.4 1242.5 L606.1 1242.5 L610.7 1242.5 L615.4 1242.5 L620.1 1242.5 L624.7 1242.5 L629.4 1242.5 L634 1242.5 L638.7 1242.5 L643.3 1242.5 L648 1242.5 L652.6 1242.5 L657.3 1242.5 L662 1242.5 L666.6 1242.5 L671.3 1242.5 L675.9 1242.5 L680.6 1242.5 L685.2 1242.5 L689.9 1242.5 L694.5 1242.5 L699.2 1242.5 L703.8 1242.5 L708.5 1242.5 L713.2 1242.5 L717.8 1242.5 L722.5 1242.5 L727.1 1242.5 L731.8 1242.5 L736.4 1242.5 L741.1 1242.5 L745.7 1242.5 L750.4 1242.5 L755 1242.5 L759.7 1242.5 L764.4 1242.5 L769 1242.5 L773.7 1242.5 L778.3 1242.5 L783 1242.5 L787.6 1242.5 L792.3 1242.5 L796.9 1242.5 L801.6 1242.5 L806.3 1242.5 L810.9 1242.5 L815.6 1242.5 L820.2 1242.5 L824.9 1242.5 L829.5 1242.5 L834.2 1242.5 L838.8 1242.5 L843.5 1242.5 L848.1 1242.5 L852.8 1242.5 L857.5 1242.5 L862.1 1242.5 L866.8 1242.5 L871.4 1242.5 L876.1 1242.5 L880.7 1242.5 L885.4 1242.5 L890 1242.5 L894.7 1242.5 L899.4 1242.5 L904 1242.5 L908.7 1242.5 L913.3 1242.5 L918 1242.5 L922.6 1242.5 L927.3 1242.5 L931.9 1242.5 L936.6 1242.5 L941.2 1242.5 L945.9 1242.5 L950.6 1242.5 L955.2 1242.5 L959.9 1242.6 L964.5 1242.6 L969.2 1242.6 L973.8 1242.6 L978.5 1242.6 L983.1 1242.6 L987.8 1242.6 L992.5 1242.6 L997.1 1242.6 L1001.8 1242.6 L1006.4 1242.6 L1011.1 1242.6 L1015.7 1242.6 L1020.4 1242.6 L1025 1242.6 L1029.7 1242.6 L1034.3 1242.6 L1039 1242.6 L1043.7 1242.6 L1048.3 1242.6 L1053 1242.6 L1057.6 1242.6 L1062.3 1242.6 L1066.9 1242.6 L1071.6 1242.6 L1076.2 1242.6 L1080.9 1242.6 L1085.6 1242.6 L1090.2 1242.6 L1094.9 1242.6 L1099.5 1242.6 L1104.2 1242.6 L1108.8 1242.6 L1113.5 1242.6 L1118.1 1242.6 L1122.8 1242.6 L1127.5 1242.6 L1132.1 1242.6 L1136.8 1242.6 L1141.4 1242.6 L1146.1 1242.6 L1150.7 1242.6 L1155.4 1242.6 L1160 1242.6 L1164.7 1242.6 L1169.3 1242.6 L1174 1242.6 L1178.7 1242.6 L1183.3 1242.6 L1188 1242.6 L1192.6 1242.6 L1197.3 1242.6 L1201.9 1242.6 L1206.6 1242.6 L1211.2 1242.6 L1215.9 1242.6 L1220.5 1242.6 L1225.2 1242.6 L1229.9 1242.6 L1234.5 1242.6 L1239.2 1242.6 L1243.8 1242.6 L1248.5 1242.6 L1253.1 1242.6 L1257.8 1242.6 L1262.4 1242.6 L1267.1 1242.6 L1271.8 1242.6 L1276.4 1242.6 L1281.1 1242.6 L1285.7 1242.6 L1290.4 1242.6 L1295 1242.6 L1299.7 1242.6 L1304.3 1242.6 L1309 1242.6 L1313.7 1242.6 L1318.3 1242.6 L1323 1242.6 L1327.6 1242.6 L1332.3 1242.6 L1336.9 1242.6 L1341.6 1242.6 L1346.2 1242.6 L1350.9 1242.6 L1355.5 1242.6 L1360.2 1242.6 L1364.9 1242.6 L1369.5 1242.6 L1374.2 1242.6 L1378.8 1242.6 L1383.5 1242.6 L1388.1 1242.6 L1392.8 1242.6 L1397.4 1242.6 L1402.1 1242.6 L1406.8 1242.6 L1411.4 1242.6 L1416.1 1242.6 L1420.7 1242.6 L1425.4 1242.6 L1430 1242.6 L1434.7 1242.6 L1439.3 1242.6 L1444 1242.6 L1448.6 1242.6 L1453.3 1242.6 L1458 1242.6 L1462.6 1242.6 L1467.3 1242.6 L1471.9 1242.6 L1476.6 1242.6 L1481.2 1242.6 L1485.9 1242.6 L1490.5 1242.6 L1495.2 1242.6 L1499.8 1242.6 L1504.5 1242.6 L1509.2 1242.6 L1513.8 1242.6 L1518.5 1242.6 L1523.1 1242.6 L1527.8 1242.6 L1532.4 1242.6 L1537.1 1242.6 L1541.7 1242.6 L1546.4 1242.6 L1551.1 1242.6 L1555.7 1242.6 L1560.4 1242.6 L1565 1242.6 L1569.7 1242.6 L1574.3 1242.6 L1579 1242.6 L1583.6 1242.6 L1588.3 1242.6 L1593 1242.6 L1597.6 1242.6 L1602.3 1242.6 L1606.9 1242.6 L1611.6 1242.6 L1616.2 1242.6 L1620.9 1242.6 L1625.5 1242.6 L1630.2 1242.6 L1634.8 1242.6 L1639.5 1242.6 L1644.2 1242.6 L1648.8 1242.6 L1653.5 1242.6 L1658.1 1242.6 L1662.8 1242.6 L1667.4 1242.6 L1672.1 1242.6 L1676.7 1242.6 L1681.4 1242.6 L1686 1242.6 L1690.7 1242.6 L1695.4 1242.7 L1700 1242.7 L1704.7 1242.7 L1709.3 1242.7 L1714 1242.7 L1718.6 1242.7 L1723.3 1242.7 L1727.9 1242.7 L1732.6 1242.7 L1737.3 1242.7 L1741.9 1242.7 L1746.6 1242.7 L1751.2 1242.7 L1755.9 1242.7 L1760.5 1242.7 L1765.2 1242.7 L1769.8 1242.7 L1774.5 1242.7 L1779.2 1242.7 L1783.8 1242.7 L1788.5 1242.7 L1793.1 1242.7 L1797.8 1242.7 L1805.9 1242.7" stroke="#A5A5A5" stroke-width="12" fill="none" stroke-linejoin="round" stroke-linecap="round"/>
<path d="M266.3 1236.5l6 6l-6 6l-6 -6zM270.9 1236.5l6 6l-6 6l-6 -6zM275.6 1236.5l6 6l-6 6l-6 -6zM280.2 1236.5l6 6l-6 6l-6 -6zM284.9 1236.5l6 6l-6 6l-6 -6zM289.6 1236.5l6 6l-6 6l-6 -6zM294.2 1236.5l6 6l-6 6l-6 -6zM298.9 1236.5l6 6l-6 6l-6 -6zM303.5 1236.5l6 6l-6 6l-6 -6zM308.2 1236.5l6 6l-6 6l-6 -6zM312.8 1236.5l6 6l-6 6l-6 -6zM317.5 1236.5l6 6l-6 6l-6 -6zM322.1 1236.5l6 6l-6 6l-6 -6zM326.8 1236.5l6 6l-6 6l-6 -6zM331.4 1236.5l6 6l-6 6l-6 -6zM336.1 1236.5l6 6l-6 6l-6 -6zM340.8 1236.5l6 6l-6 6l-6 -6zM345.4 1236.5l6 6l-6 6l-6 -6zM350.1 1236.5l6 6l-6 6l-6 -6zM354.7 1236.5l6 6l-6 6l-6 -6zM359.4 1236.5l6 6l-6 6l-6 -6zM364 1236.5l6 6l-6 6l-6 -6zM368.7 1236.5l6 6l-6 6l-6 -6zM373.3 1236.5l6 6l-6 6l-6 -6zM378 1236.5l6 6l-6 6l-6 -6zM382.6 1236.5l6 6l-6 6l-6 -6zM387.3 1236.5l6 6l-6 6l-6 -6zM392 1236.5l6 6l-6 6l-6 -6zM396.6 1236.5l6 6l-6 6l-6 -6zM401.3 1236.5l6 6l-6 6l-6 -6zM405.9 1236.5l6 6l-6 6l-6 -6zM410.6 1236.5l6 6l-6 6l-6 -6zM415.2 1236.5l6 6l-6 6l-6 -6zM419.9 1236.5l6 6l-6 6l-6 -6zM424.5 1236.5l6 6l-6 6l-6 -6zM429.2 1236.5l6 6l-6 6l-6 -6zM433.9 1236.5l6 6l-6 6l-6 -6zM438.5 1236.5l6 6l-6 6l-6 -6zM443.2 1236.5l6 6l-6 6l-6 -6zM447.8 1236.5l6 6l-6 6l-6 -6zM452.5 1236.5l6 6l-6 6l-6 -6zM457.1 1236.5l6 6l-6 6l-6 -6zM461.8 1236.5l6 6l-6 6l-6 -6zM466.4 1236.5l6 6l-6 6l-6 -6zM471.1 1236.5l6 6l-6 6l-6 -6zM475.8 1236.5l6 6l-6 6l-6 -6zM480.4 1236.5l6 6l-6 6l-6 -6zM485.1 1236.5l6 6l-6 6l-6 -6zM489.7 1236.5l6 6l-6 6l-6 -6zM494.4 1236.5l6 6l-6 6l-6 -6zM499 1236.5l6 6l-6 6l-6 -6zM503.7 1236.5l6 6l-6 6l-6 -6zM508.3 1236.5l6 6l-6 6l-6 -6zM513 1236.5l6 6l-6 6l-6 -6zM517.6 1236.5l6 6l-6 6l-6 -6zM522.3 1236.5l6 6l-6 6l-6 -6zM527 1236.5l6 6l-6 6l-6 -6zM531.6 1236.5l6 6l-6 6l-6 -6zM536.3 1236.5l6 6l-6 6l-6 -6zM540.9 1236.5l6 6l-6 6l-6 -6zM545.6 1236.5l6 6l-6 6l-6 -6zM550.2 1236.5l6 6l-6 6l-6 -6zM554.9 1236.5l6 6l-6 6l-6 -6zM559.5 1236.5l6 6l-6 6l-6 -6zM564.2 1236.5l6 6l-6 6l-6 -6zM568.9 1236.5l6 6l-6 6l-6 -6zM573.5 1236.5l6 6l-6 6l-6 -6zM578.2 1236.5l6 6l-6 6l-6 -6zM582.8 1236.5l6 6l-6 6l-6 -6zM587.5 1236.5l6 6l-6 6l-6 -6zM592.1 1236.5l6 6l-6 6l-6 -6zM596.8 1236.5l6 6l-6 6l-6 -6zM601.4 1236.5l6 6l-6 6l-6 -6zM606.1 1236.5l6 6l-6 6l-6 -6zM610.7 1236.5l6 6l-6 6l-6 -6zM615.4 1236.5l6 6l-6 6l-6 -6zM620.1 1236.5l6 6l-6 6l-6 -6zM624.7 1236.5l6 6l-6 6l-6 -6zM629.4 1236.5l6 6l-6 6l-6 -6zM634 1236.5l6 6l-6 6l-6 -6zM638.7 1236.5l6 6l-6 6l-6 -6zM643.3 1236.5l6 6l-6 6l-6 -6zM648 1236.5l6 6l-6 6l-6 -6zM652.6 1236.5l6 6l-6 6l-6 -6zM657.3 1236.5l6 6l-6 6l-6 -6zM662 1236.5l6 6l-6 6l-6 -6zM666.6 1236.5l6 6l-6 6l-6 -6zM671.3 1236.5l6 6l-6 6l-6 -6zM675.9 1236.5l6 6l-6 6l-6 -6zM680.6 1236.5l6 6l-6 6l-6 -6zM685.2 1236.5l6 6l-6 6l-6 -6zM689.9 1236.5l6 6l-6 6l-6 -6zM694.5 1236.5l6 6l-6 6l-6 -6zM699.2 1236.5l6 6l-6 6l-6 -6zM703.8 1236.5l6 6l-6 6l-6 -6zM708.5 1236.5l6 6l-6 6l-6 -6zM713.2 1236.5l6 6l-6 6l-6 -6zM717.8 1236.5l6 6l-6 6l-6 -6zM722.5 1236.5l6 6l-6 6l-6 -6zM727.1 1236.5l6 6l-6 6l-6 -6zM731.8 1236.5l6 6l-6 6l-6 -6zM736.4 1236.5l6 6l-6 6l-6 -6zM741.1 1236.5l6 6l-6 6l-6 -6zM745.7 1236.5l6 6l-6 6l-6 -6zM750.4 1236.5l6 6l-6 6l-6 -6zM755 1236.5l6 6l-6 6l-6 -6zM759.7 1236.5l6 6l-6 6l-6 -6zM764.4 1236.5l6 6l-6 6l-6 -6zM769 1236.5l6 6l-6 6l-6 -6zM773.7 1236.5l6 6l-6 6l-6 -6zM778.3 1236.5l6 6l-6 6l-6 -6zM783 1236.5l6 6l-6 6l-6 -6zM787.6 1236.5l6 6l-6 6l-6 -6zM792.3 1236.5l6 6l-6 6l-6 -6zM796.9 1236.5l6 6l-6 6l-6 -6zM801.6 1236.5l6 6l-6 6l-6 -6zM806.3 1236.5l6 6l-6 6l-6 -6zM810.9 1236.5l6 6l-6 6l-6 -6zM815.6 1236.5l6 6l-6 6l-6 -6zM820.2 1236.5l6 6l-6 6l-6 -6zM824.9 1236.5l6 6l-6 6l-6 -6zM829.5 1236.5l6 6l-6 6l-6 -6zM834.2 1236.5l6 6l-6 6l-6 -6zM838.8 1236.5l6 6l-6 6l-6 -6zM843.5 1236.5l6 6l-6 6l-6 -6zM848.1 1236.5l6 6l-6 6l-6 -6zM852.8 1236.5l6 6l-6 6l-6 -6zM857.5 1236.5l6 6l-6 6l-6 -6zM862.1 1236.5l6 6l-6 6l-6 -6zM866.8 1236.5l6 6l-6 6l-6 -6zM871.4 1236.5l6 6l-6 6l-6 -6zM876.1 1236.5l6 6l-6 6l-6 -6zM880.7 1236.5l6 6l-6 6l-6 -6zM885.4 1236.5l6 6l-6 6l-6 -6zM890 1236.5l6 6l-6 6l-6 -6zM894.7 1236.5l6 6l-6 6l-6 -6zM899.4 1236.5l6 6l-6 6l-6 -6zM904 1236.5l6 6l-6 6l-6 -6zM908.7 1236.5l6 6l-6 6l-6 -6zM913.3 1236.5l6 6l-6 6l-6 -6zM918 1236.5l6 6l-6 6l-6 -6zM922.6 1236.5l6 6l-6 6l-6 -6zM927.3 1236.5l6 6l-6 6l-6 -6zM931.9 1236.5l6 6l-6 6l-6 -6zM936.6 1236.5l6 6l-6 6l-6 -6zM941.2 1236.5l6 6l-6 6l-6 -6zM945.9 1236.5l6 6l-6 6l-6 -6zM950.6 1236.5l6 6l-6 6l-6 -6zM955.2 1236.5l6 6l-6 6l-6 -6zM959.9 1236.6l6 6l-6 6l-6 -6zM964.5 1236.6l6 6l-6 6l-6 -6zM969.2 1236.6l6 6l-6 6l-6 -6zM973.8 1236.6l6 6l-6 6l-6 -6zM978.5 1236.6l6 6l-6 6l-6 -6zM983.1 1236.6l6 6l-6 6l-6 -6zM987.8 1236.6l6 6l-6 6l-6 -6zM992.5 1236.6l6 6l-6 6l-6 -6zM997.1 1236.6l6 6l-6 6l-6 -6zM1001.8 1236.6l6 6l-6 6l-6 -6zM1006.4 1236.6l6 6l-6 6l-6 -6zM1011.1 1236.6l6 6l-6 6l-6 -6zM1015.7 1236.6l6 6l-6 6l-6 -6zM1020.4 1236.6l6 6l-6 6l-6 -6zM1025 1236.6l6 6l-6 6l-6 -6zM1029.7 1236.6l6 6l-6 6l-6 -6zM1034.3 1236.6l6 6l-6 6l-6 -6zM1039 1236.6l6 6l-6 6l-6 -6zM1043.7 1236.6l6 6l-6 6l-6 -6zM1048.3 1236.6l6 6l-6 6l-6 -6zM1053 1236.6l6 6l-6 6l-6 -6zM1057.6 1236.6l6 6l-6 6l-6 -6zM1062.3 1236.6l6 6l-6 6l-6 -6zM1066.9 1236.6l6 6l-6 6l-6 -6zM1071.6 1236.6l6 6l-6 6l-6 -6zM1076.2 1236.6l6 6l-6 6l-6 -6zM1080.9 1236.6l6 6l-6 6l-6 -6zM1085.6 1236.6l6 6l-6 6l-6 -6zM1090.2 1236.6l6 6l-6 6l-6 -6zM1094.9 1236.6l6 6l-6 6l-6 -6zM1099.5 1236.6l6 6l-6 6l-6 -6zM1104.2 1236.6l6 6l-6 6l-6 -6zM1108.8 1236.6l6 6l-6 6l-6 -6zM1113.5 1236.6l6 6l-6 6l-6 -6zM1118.1 1236.6l6 6l-6 6l-6 -6zM1122.8 1236.6l6 6l-6 6l-6 -6zM1127.5 1236.6l6 6l-6 6l-6 -6zM1132.1 1236.6l6 6l-6 6l-6 -6zM1136.8 1236.6l6 6l-6 6l-6 -6zM1141.4 1236.6l6 6l-6 6l-6 -6zM1146.1 1236.6l6 6l-6 6l-6 -6zM1150.7 1236.6l6 6l-6 6l-6 -6zM1155.4 1236.6l6 6l-6 6l-6 -6zM1160 1236.6l6 6l-6 6l-6 -6zM1164.7 1236.6l6 6l-6 6l-6 -6zM1169.3 1236.6l6 6l-6 6l-6 -6zM1174 1236.6l6 6l-6 6l-6 -6zM1178.7 1236.6l6 6l-6 6l-6 -6zM1183.3 1236.6l6 6l-6 6l-6 -6zM1188 1236.6l6 6l-6 6l-6 -6zM1192.6 1236.6l6 6l-6 6l-6 -6zM1197.3 1236.6l6 6l-6 6l-6 -6zM1201.9 1236.6l6 6l-6 6l-6 -6zM1206.6 1236.6l6 6l-6 6l-6 -6zM1211.2 1236.6l6 6l-6 6l-6 -6zM1215.9 1236.6l6 6l-6 6l-6 -6zM1220.5 1236.6l6 6l-6 6l-6 -6zM1225.2 1236.6l6 6l-6 6l-6 -6zM1229.9 1236.6l6 6l-6 6l-6 -6zM1234.5 1236.6l6 6l-6 6l-6 -6zM1239.2 1236.6l6 6l-6 6l-6 -6zM1243.8 1236.6l6 6l-6 6l-6 -6zM1248.5 1236.6l6 6l-6 6l-6 -6zM1253.1 1236.6l6 6l-6 6l-6 -6zM1257.8 1236.6l6 6l-6 6l-6 -6zM1262.4 1236.6l6 6l-6 6l-6 -6zM1267.1 1236.6l6 6l-6 6l-6 -6zM1271.8 1236.6l6 6l-6 6l-6 -6zM1276.4 1236.6l6 6l-6 6l-6 -6zM1281.1 1236.6l6 6l-6 6l-6 -6zM1285.7 1236.6l6 6l-6 6l-6 -6zM1290.4 1236.6l6 6l-6 6l-6 -6zM1295 1236.6l6 6l-6 6l-6 -6zM1299.7 1236.6l6 6l-6 6l-6 -6zM1304.3 1236.6l6 6l-6 6l-6 -6zM1309 1236.6l6 6l-6 6l-6 -6zM1313.7 1236.6l6 6l-6 6l-6 -6zM1318.3 1236.6l6 6l-6 6l-6 -6zM1323 1236.6l6 6l-6 6l-6 -6zM1327.6 1236.6l6 6l-6 6l-6 -6zM1332.3 1236.6l6 6l-6 6l-6 -6zM1336.9 1236.6l6 6l-6 6l-6 -6zM1341.6 1236.6l6 6l-6 6l-6 -6zM1346.2 1236.6l6 6l-6 6l-6 -6zM1350.9 1236.6l6 6l-6 6l-6 -6zM1355.5 1236.6l6 6l-6 6l-6 -6zM1360.2 1236.6l6 6l-6 6l-6 -6zM1364.9 1236.6l6 6l-6 6l-6 -6zM1369.5 1236.6l6 6l-6 6l-6 -6zM1374.2 1236.6l6 6l-6 6l-6 -6zM1378.8 1236.6l6 6l-6 6l-6 -6zM1383.5 1236.6l6 6l-6 6l-6 -6zM1388.1 1236.6l6 6l-6 6l-6 -6zM1392.8 1236.6l6 6l-6 6l-6 -6zM1397.4 1236.6l6 6l-6 6l-6 -6zM1402.1 1236.6l6 6l-6 6l-6 -6zM1406.8 1236.6l6 6l-6 6l-6 -6zM1411.4 1236.6l6 6l-6 6l-6 -6zM1416.1 1236.6l6 6l-6 6l-6 -6zM1420.7 1236.6l6 6l-6 6l-6 -6zM1425.4 1236.6l6 6l-6 6l-6 -6zM1430 1236.6l6 6l-6 6l-6 -6zM1434.7 1236.6l6 6l-6 6l-6 -6zM1439.3 1236.6l6 6l-6 6l-6 -6zM1444 1236.6l6 6l-6 6l-6 -6zM1448.6 1236.6l6 6l-6 6l-6 -6zM1453.3 1236.6l6 6l-6 6l-6 -6zM1458 1236.6l6 6l-6 6l-6 -6zM1462.6 1236.6l6 6l-6 6l-6 -6zM1467.3 1236.6l6 6l-6 6l-6 -6zM1471.9 1236.6l6 6l-6 6l-6 -6zM1476.6 1236.6l6 6l-6 6l-6 -6zM1481.2 1236.6l6 6l-6 6l-6 -6zM1485.9 1236.6l6 6l-6 6l-6 -6zM1490.5 1236.6l6 6l-6 6l-6 -6zM1495.2 1236.6l6 6l-6 6l-6 -6zM1499.8 1236.6l6 6l-6 6l-6 -6zM1504.5 1236.6l6 6l-6 6l-6 -6zM1509.2 1236.6l6 6l-6 6l-6 -6zM1513.8 1236.6l6 6l-6 6l-6 -6zM1518.5 1236.6l6 6l-6 6l-6 -6zM1523.1 1236.6l6 6l-6 6l-6 -6zM1527.8 1236.6l6 6l-6 6l-6 -6zM1532.4 1236.6l6 6l-6 6l-6 -6zM1537.1 1236.6l6 6l-6 6l-6 -6zM1541.7 1236.6l6 6l-6 6l-6 -6zM1546.4 1236.6l6 6l-6 6l-6 -6zM1551.1 1236.6l6 6l-6 6l-6 -6zM1555.7 1236.6l6 6l-6 6l-6 -6zM1560.4 1236.6l6 6l-6 6l-6 -6zM1565 1236.6l6 6l-6 6l-6 -6zM1569.7 1236.6l6 6l-6 6l-6 -6zM1574.3 1236.6l6 6l-6 6l-6 -6zM1579 1236.6l6 6l-6 6l-6 -6zM1583.6 1236.6l6 6l-6 6l-6 -6zM1588.3 1236.6l6 6l-6 6l-6 -6zM1593 1236.6l6 6l-6 6l-6 -6zM1597.6 1236.6l6 6l-6 6l-6 -6zM1602.3 1236.6l6 6l-6 6l-6 -6zM1606.9 1236.6l6 6l-6 6l-6 -6zM1611.6 1236.6l6 6l-6 6l-6 -6zM1616.2 1236.6l6 6l-6 6l-6 -6zM1620.9 1236.6l6 6l-6 6l-6 -6zM1625.5 1236.6l6 6l-6 6l-6 -6zM1630.2 1236.6l6 6l-6 6l-6 -6zM1634.8 1236.6l6 6l-6 6l-6 -6zM1639.5 1236.6l6 6l-6 6l-6 -6zM1644.2 1236.6l6 6l-6 6l-6 -6zM1648.8 1236.6l6 6l-6 6l-6 -6zM1653.5 1236.6l6 6l-6 6l-6 -6zM1658.1 1236.6l6 6l-6 6l-6 -6zM1662.8 1236.6l6 6l-6 6l-6 -6zM1667.4 1236.6l6 6l-6 6l-6 -6zM1672.1 1236.6l6 6l-6 6l-6 -6zM1676.7 1236.6l6 6l-6 6l-6 -6zM1681.4 1236.6l6 6l-6 6l-6 -6zM1686 1236.6l6 6l-6 6l-6 -6zM1690.7 1236.6l6 6l-6 6l-6 -6zM1695.4 1236.7l6 6l-6 6l-6 -6zM1700 1236.7l6 6l-6 6l-6 -6zM1704.7 1236.7l6 6l-6 6l-6 -6zM1709.3 1236.7l6 6l-6 6l-6 -6zM1714 1236.7l6 6l-6 6l-6 -6zM1718.6 1236.7l6 6l-6 6l-6 -6zM1723.3 1236.7l6 6l-6 6l-6 -6zM1727.9 1236.7l6 6l-6 6l-6 -6zM1732.6 1236.7l6 6l-6 6l-6 -6zM1737.3 1236.7l6 6l-6 6l-6 -6zM1741.9 1236.7l6 6l-6 6l-6 -6zM1746.6 1236.7l6 6l-6 6l-6 -6zM1751.2 1236.7l6 6l-6 6l-6 -6zM1755.9 1236.7l6 6l-6 6l-6 -6zM1760.5 1236.7l6 6l-6 6l-6 -6zM1765.2 1236.7l6 6l-6 6l-6 -6zM1769.8 1236.7l6 6l-6 6l-6 -6zM1774.5 1236.7l6 6l-6 6l-6 -6zM1779.2 1236.7l6 6l-6 6l-6 -6zM1783.8 1236.7l6 6l-6 6l-6 -6zM1788.5 1236.7l6 6l-6 6l-6 -6zM1793.1 1236.7l6 6l-6 6l-6 -6zM1797.8 1236.7l6 6l-6 6l-6 -6zM1805.9 1236.7l6 6l-6 6l-6 -6z" fill="#A5A5A5" stroke="#A5A5A5" stroke-width="1"/>
<path d="M266.3 1130.6 L270.9 1130.7 L275.6 1130.7 L280.2 1130.7 L284.9 1130.8 L289.6 1130.8 L294.2 1130.8 L298.9 1130.9 L303.5 1130.9 L308.2 1131 L312.8 1131 L317.5 1131 L322.1 1131.1 L326.8 1131.2 L331.4 1131.2 L336.1 1131.3 L340.8 1131.3 L345.4 1131.4 L350.1 1131.5 L354.7 1131.6 L359.4 1131.7 L364 1131.8 L368.7 1131.9 L373.3 1132 L378 1132.1 L382.6 1132.3 L387.3 1132.4 L392 1132.6 L396.6 1132.8 L401.3 1133 L405.9 1133.2 L410.6 1133.5 L415.2 1133.7 L419.9 1134 L424.5 1134.3 L429.2 1134.7 L433.9 1135.1 L438.5 1135.5 L443.2 1135.8 L447.8 1136.2 L452.5 1136.6 L457.1 1137 L461.8 1137.4 L466.4 1137.8 L471.1 1138.2 L475.8 1138.7 L480.4 1139.1 L485.1 1139.5 L489.7 1140 L494.4 1140.5 L499 1141 L503.7 1141.6 L508.3 1142.1 L513 1142.7 L517.6 1143.3 L522.3 1143.9 L527 1144.5 L531.6 1145.1 L536.3 1145.7 L540.9 1146.3 L545.6 1146.9 L550.2 1147.4 L554.9 1148 L559.5 1148.6 L564.2 1149.2 L568.9 1149.8 L573.5 1150.3 L578.2 1150.9 L582.8 1151.5 L587.5 1152.1 L592.1 1152.8 L596.8 1153.4 L601.4 1154 L606.1 1154.6 L610.7 1155.2 L615.4 1155.9 L620.1 1156.6 L624.7 1157.3 L629.4 1158.1 L634 1158.9 L638.7 1159.9 L643.3 1160.9 L648 1162.2 L652.6 1163.7 L657.3 1165.6 L662 1167.8 L666.6 1170.7 L671.3 1175 L675.9 1182.3 L679.8 1188.5 L682.3 1199.9 L685.8 1211.3 L688.1 1245.5" stroke="#FFC000" stroke-width="3.8" fill="none" stroke-linejoin="round"/>
<path d="M266.3 1130.6 L270.9 1130.7 L275.6 1130.7 L280.2 1130.7 L284.9 1130.8 L289.6 1130.8 L294.2 1130.8 L298.9 1130.9 L303.5 1130.9 L308.2 1131 L312.8 1131 L317.5 1131 L322.1 1131.1 L326.8 1131.2 L331.4 1131.2 L336.1 1131.3 L340.8 1131.3 L345.4 1131.4 L350.1 1131.5 L354.7 1131.6 L359.4 1131.7 L364 1131.8 L368.7 1131.9 L373.3 1132 L378 1132.1 L382.6 1132.3 L387.3 1132.4 L392 1132.6 L396.6 1132.8 L401.3 1133 L405.9 1133.2 L410.6 1133.5 L415.2 1133.7 L419.9 1134 L424.5 1134.3 L429.2 1134.7 L433.9 1135.1 L438.5 1135.5 L443.2 1135.8 L447.8 1136.2 L452.5 1136.6 L457.1 1137 L461.8 1137.4 L466.4 1137.8 L471.1 1138.2 L475.8 1138.7 L480.4 1139.1 L485.1 1139.5 L489.7 1140 L494.4 1140.5 L499 1141 L503.7 1141.6 L508.3 1142.1 L513 1142.7 L517.6 1143.3 L522.3 1143.9 L527 1144.5 L531.6 1145.1 L536.3 1145.7 L540.9 1146.3 L545.6 1146.9 L550.2 1147.4 L554.9 1148 L559.5 1148.6 L564.2 1149.2 L568.9 1149.8 L573.5 1150.3 L578.2 1150.9 L582.8 1151.5 L587.5 1152.1 L592.1 1152.8 L596.8 1153.4 L601.4 1154 L606.1 1154.6 L610.7 1155.2 L615.4 1155.9 L620.1 1156.6 L624.7 1157.3 L629.4 1158.1 L634 1158.9 L638.7 1159.9 L643.3 1160.9 L648 1162.2 L652.6 1163.7 L657.3 1165.6 L662 1167.8 L666.6 1170.7 L671.3 1175 L675.9 1182.3 L679.8 1188.5 L682.3 1199.9 L685.8 1211.3" stroke="#FFC000" stroke-width="12" fill="none" stroke-linejoin="round" stroke-linecap="round"/>
<path d="M266.3 1124.6l6 6l-6 6l-6 -6zM270.9 1124.7l6 6l-6 6l-6 -6zM275.6 1124.7l6 6l-6 6l-6 -6zM280.2 1124.7l6 6l-6 6l-6 -6zM284.9 1124.8l6 6l-6 6l-6 -6zM289.6 1124.8l6 6l-6 6l-6 -6zM294.2 1124.8l6 6l-6 6l-6 -6zM298.9 1124.9l6 6l-6 6l-6 -6zM303.5 1124.9l6 6l-6 6l-6 -6zM308.2 1125l6 6l-6 6l-6 -6zM312.8 1125l6 6l-6 6l-6 -6zM317.5 1125l6 6l-6 6l-6 -6zM322.1 1125.1l6 6l-6 6l-6 -6zM326.8 1125.2l6 6l-6 6l-6 -6zM331.4 1125.2l6 6l-6 6l-6 -6zM336.1 1125.3l6 6l-6 6l-6 -6zM340.8 1125.3l6 6l-6 6l-6 -6zM345.4 1125.4l6 6l-6 6l-6 -6zM350.1 1125.5l6 6l-6 6l-6 -6zM354.7 1125.6l6 6l-6 6l-6 -6zM359.4 1125.7l6 6l-6 6l-6 -6zM364 1125.8l6 6l-6 6l-6 -6zM368.7 1125.9l6 6l-6 6l-6 -6zM373.3 1126l6 6l-6 6l-6 -6zM378 1126.1l6 6l-6 6l-6 -6zM382.6 1126.3l6 6l-6 6l-6 -6zM387.3 1126.4l6 6l-6 6l-6 -6zM392 1126.6l6 6l-6 6l-6 -6zM396.6 1126.8l6 6l-6 6l-6 -6zM401.3 1127l6 6l-6 6l-6 -6zM405.9 1127.2l6 6l-6 6l-6 -6zM410.6 1127.5l6 6l-6 6l-6 -6zM415.2 1127.7l6 6l-6 6l-6 -6zM419.9 1128l6 6l-6 6l-6 -6zM424.5 1128.3l6 6l-6 6l-6 -6zM429.2 1128.7l6 6l-6 6l-6 -6zM433.9 1129.1l6 6l-6 6l-6 -6zM438.5 1129.5l6 6l-6 6l-6 -6zM443.2 1129.8l6 6l-6 6l-6 -6zM447.8 1130.2l6 6l-6 6l-6 -6zM452.5 1130.6l6 6l-6 6l-6 -6zM457.1 1131l6 6l-6 6l-6 -6zM461.8 1131.4l6 6l-6 6l-6 -6zM466.4 1131.8l6 6l-6 6l-6 -6zM471.1 1132.2l6 6l-6 6l-6 -6zM475.8 1132.7l6 6l-6 6l-6 -6zM480.4 1133.1l6 6l-6 6l-6 -6zM485.1 1133.5l6 6l-6 6l-6 -6zM489.7 1134l6 6l-6 6l-6 -6zM494.4 1134.5l6 6l-6 6l-6 -6zM499 1135l6 6l-6 6l-6 -6zM503.7 1135.6l6 6l-6 6l-6 -6zM508.3 1136.1l6 6l-6 6l-6 -6zM513 1136.7l6 6l-6 6l-6 -6zM517.6 1137.3l6 6l-6 6l-6 -6zM522.3 1137.9l6 6l-6 6l-6 -6zM527 1138.5l6 6l-6 6l-6 -6zM531.6 1139.1l6 6l-6 6l-6 -6zM536.3 1139.7l6 6l-6 6l-6 -6zM540.9 1140.3l6 6l-6 6l-6 -6zM545.6 1140.9l6 6l-6 6l-6 -6zM550.2 1141.4l6 6l-6 6l-6 -6zM554.9 1142l6 6l-6 6l-6 -6zM559.5 1142.6l6 6l-6 6l-6 -6zM564.2 1143.2l6 6l-6 6l-6 -6zM568.9 1143.8l6 6l-6 6l-6 -6zM573.5 1144.3l6 6l-6 6l-6 -6zM578.2 1144.9l6 6l-6 6l-6 -6zM582.8 1145.5l6 6l-6 6l-6 -6zM587.5 1146.1l6 6l-6 6l-6 -6zM592.1 1146.8l6 6l-6 6l-6 -6zM596.8 1147.4l6 6l-6 6l-6 -6zM601.4 1148l6 6l-6 6l-6 -6zM606.1 1148.6l6 6l-6 6l-6 -6zM610.7 1149.2l6 6l-6 6l-6 -6zM615.4 1149.9l6 6l-6 6l-6 -6zM620.1 1150.6l6 6l-6 6l-6 -6zM624.7 1151.3l6 6l-6 6l-6 -6zM629.4 1152.1l6 6l-6 6l-6 -6zM634 1152.9l6 6l-6 6l-6 -6zM638.7 1153.9l6 6l-6 6l-6 -6zM643.3 1154.9l6 6l-6 6l-6 -6zM648 1156.2l6 6l-6 6l-6 -6zM652.6 1157.7l6 6l-6 6l-6 -6zM657.3 1159.6l6 6l-6 6l-6 -6zM662 1161.8l6 6l-6 6l-6 -6zM666.6 1164.7l6 6l-6 6l-6 -6zM671.3 1169l6 6l-6 6l-6 -6zM675.9 1176.3l6 6l-6 6l-6 -6zM679.8 1182.5l6 6l-6 6l-6 -6zM682.3 1193.9l6 6l-6 6l-6 -6zM685.8 1205.3l6 6l-6 6l-6 -6zM688.1 1239.5l6 6l-6 6l-6 -6z" fill="#FFC000" stroke="#FFC000" stroke-width="1"/>
<path d="M266.3 1061.2 L270.9 1061.1 L275.6 1061.1 L280.2 1061.1 L284.9 1061.1 L289.6 1061.1 L294.2 1061.1 L298.9 1061.1 L303.5 1061.1 L308.2 1061.1 L312.8 1061.1 L317.5 1061.1 L322.1 1061.1 L326.8 1061.1 L331.4 1061.1 L336.1 1061.1 L340.8 1061.1 L345.4 1061.1 L350.1 1061.1 L354.7 1061.1 L359.4 1061.1 L364 1061.1 L368.7 1061.1 L373.3 1061.1 L378 1061.1 L382.6 1061 L387.3 1061 L392 1061 L396.6 1061 L401.3 1061 L405.9 1061 L410.6 1061 L415.2 1061 L419.9 1060.9 L424.5 1060.4 L429.2 1060.1 L433.9 1060.1 L438.5 1060.1 L443.2 1060.1 L447.8 1060.1 L452.5 1060.1 L457.1 1060.1 L461.8 1060.1 L466.4 1060.1 L471.1 1060.1 L475.8 1060.1 L480.4 1060.1 L485.1 1060.1 L489.7 1060.1 L494.4 1060.1 L499 1060.1 L503.7 1060.1 L508.3 1060.1 L513 1060.1 L517.6 1060.1 L522.3 1060.1 L527 1060.1 L531.6 1060.1 L536.3 1060.1 L540.9 1060.1 L545.6 1060.1 L550.2 1060.1 L554.9 1060.1 L559.5 1060.1 L564.2 1060.1 L568.9 1060.1 L573.5 1060.1 L578.2 1060.1 L582.8 1060.1 L587.5 1060.1 L592.1 1060.1 L596.8 1060.1 L601.4 1060.1 L606.1 1060.1 L610.7 1060 L615.4 1060 L620.1 1060 L624.7 1059.9 L629.4 1059.9 L634 1059.8 L638.7 1059.8 L643.3 1059.7 L648 1059.6 L652.6 1059.6 L657.3 1059.5 L662 1059.5 L666.6 1059.5 L671.3 1059.4 L675.9 1059.4 L680.6 1059.4 L685.2 1059.4 L689.9 1059.4 L694.5 1059.4 L699.2 1059.5 L703.8 1059.6 L708.5 1059.6 L713.2 1059.7 L717.8 1059.8 L722.5 1060 L727.1 1060.1 L731.8 1060.2 L736.4 1060.3 L741.1 1060.4 L745.7 1060.5 L750.4 1060.6 L755 1060.7 L759.7 1060.8 L764.4 1060.9 L769 1060.9 L773.7 1061 L778.3 1061.1 L783 1061.2 L787.6 1061.3 L792.3 1061.4 L796.9 1061.5 L801.6 1061.6 L806.3 1061.7 L810.9 1061.8 L815.6 1062 L820.2 1062.2 L824.9 1062.3 L829.5 1062.5 L834.2 1062.7 L838.8 1062.9 L843.5 1063.1 L848.1 1063.3 L852.8 1063.4 L857.5 1063.6 L862.1 1063.9 L866.8 1064.1 L871.4 1064.3 L876.1 1064.4 L880.7 1064.4 L885.4 1064.3 L890 1064.3 L894.7 1064.3 L899.4 1064.2 L904 1064.1 L908.7 1064 L913.3 1063.8 L918 1063.3 L922.6 1062.2 L927.3 1060.9 L935.4 1058.9 L936.6 1068 L941.2 1068.2 L945.9 1068.3 L950.6 1068.5 L955.2 1068.5 L959.9 1068.4 L964.5 1068.1 L969.2 1067.8 L973.8 1067.4 L978.5 1067.1 L983.1 1066.7 L987.8 1066.3 L992.5 1065.8 L997.1 1065.4 L1001.8 1065.2 L1006.4 1065 L1011.1 1064.8 L1015.7 1064.3 L1020.4 1063.6 L1025 1062.8 L1029.7 1061.8 L1034.3 1060.7 L1039 1059.4 L1043.7 1057.8 L1048.3 1055.9 L1053 1053.2 L1057.6 1052.5 L1062.3 1053.2 L1066.9 1054 L1071.6 1054.8 L1076.2 1055.7 L1080.9 1056.7 L1085.6 1057.7 L1090.2 1058.7 L1094.9 1059.7 L1099.5 1060.8 L1104.2 1061.9 L1108.8 1062.9 L1113.5 1063.9 L1118.1 1064.9 L1122.8 1065.9 L1127.5 1066.9 L1132.1 1067.9 L1136.8 1068.9 L1141.4 1070 L1146.1 1071.1 L1150.7 1072.3 L1155.4 1073.5 L1160 1074.7 L1164.7 1076 L1169.3 1077.4 L1174 1078.8 L1178.7 1080.2 L1183.3 1081.7 L1188 1083.1 L1192.6 1084.4 L1197.3 1085.7 L1201.9 1087 L1206.6 1088.3 L1211.2 1089.7 L1215.9 1091.2 L1220.5 1092.8 L1225.2 1094.5 L1229.9 1096.2 L1234.5 1098 L1239.2 1099.8 L1243.8 1101.6 L1248.5 1103.6 L1253.1 1105.5 L1257.8 1107.5 L1262.4 1109.4 L1267.1 1111.2 L1271.8 1112.9 L1276.4 1114.7 L1281.1 1116.5 L1285.7 1118.4 L1290.4 1120.5 L1295 1122.8 L1299.7 1125.2 L1304.3 1127.7 L1309 1130.1 L1313.7 1132.5 L1318.3 1134.7 L1323 1136.8 L1327.6 1138.8 L1332.3 1140.8 L1336.9 1142.9 L1341.6 1145.2 L1346.2 1147.6 L1350.9 1150.4 L1355.5 1153.3 L1360.2 1156.4 L1364.9 1159.5 L1369.5 1162.4 L1374.2 1165.1 L1378.8 1167.6 L1383.5 1170.2 L1388.1 1172.6 L1392.8 1175.1 L1397.4 1177.7 L1402.1 1180.4 L1406.8 1183 L1411.4 1185.7 L1416.1 1188.4 L1420.7 1191.1 L1425.4 1193.7 L1430 1196.4 L1434.7 1199.1 L1439.3 1201.8 L1444 1204.5 L1448.6 1207.1 L1453.3 1209.8 L1458 1212.4 L1462.6 1215.1 L1467.3 1217.8 L1471.9 1220.5 L1476.6 1223.2 L1481.2 1225.9 L1485.9 1228.7 L1490.5 1231.5 L1495.2 1234.4 L1499.8 1237.4 L1504.5 1240.6 L1511.5 1245.5" stroke="#70AD47" stroke-width="3.8" fill="none" stroke-linejoin="round"/>
<path d="M266.3 1061.2 L270.9 1061.1 L275.6 1061.1 L280.2 1061.1 L284.9 1061.1 L289.6 1061.1 L294.2 1061.1 L298.9 1061.1 L303.5 1061.1 L308.2 1061.1 L312.8 1061.1 L317.5 1061.1 L322.1 1061.1 L326.8 1061.1 L331.4 1061.1 L336.1 1061.1 L340.8 1061.1 L345.4 1061.1 L350.1 1061.1 L354.7 1061.1 L359.4 1061.1 L364 1061.1 L368.7 1061.1 L373.3 1061.1 L378 1061.1 L382.6 1061 L387.3 1061 L392 1061 L396.6 1061 L401.3 1061 L405.9 1061 L410.6 1061 L415.2 1061 L419.9 1060.9 L424.5 1060.4 L429.2 1060.1 L433.9 1060.1 L438.5 1060.1 L443.2 1060.1 L447.8 1060.1 L452.5 1060.1 L457.1 1060.1 L461.8 1060.1 L466.4 1060.1 L471.1 1060.1 L475.8 1060.1 L480.4 1060.1 L485.1 1060.1 L489.7 1060.1 L494.4 1060.1 L499 1060.1 L503.7 1060.1 L508.3 1060.1 L513 1060.1 L517.6 1060.1 L522.3 1060.1 L527 1060.1 L531.6 1060.1 L536.3 1060.1 L540.9 1060.1 L545.6 1060.1 L550.2 1060.1 L554.9 1060.1 L559.5 1060.1 L564.2 1060.1 L568.9 1060.1 L573.5 1060.1 L578.2 1060.1 L582.8 1060.1 L587.5 1060.1 L592.1 1060.1 L596.8 1060.1 L601.4 1060.1 L606.1 1060.1 L610.7 1060 L615.4 1060 L620.1 1060 L624.7 1059.9 L629.4 1059.9 L634 1059.8 L638.7 1059.8 L643.3 1059.7 L648 1059.6 L652.6 1059.6 L657.3 1059.5 L662 1059.5 L666.6 1059.5 L671.3 1059.4 L675.9 1059.4 L680.6 1059.4 L685.2 1059.4 L689.9 1059.4 L694.5 1059.4 L699.2 1059.5 L703.8 1059.6 L708.5 1059.6 L713.2 1059.7 L717.8 1059.8 L722.5 1060 L727.1 1060.1 L731.8 1060.2 L736.4 1060.3 L741.1 1060.4 L745.7 1060.5 L750.4 1060.6 L755 1060.7 L759.7 1060.8 L764.4 1060.9 L769 1060.9 L773.7 1061 L778.3 1061.1 L783 1061.2 L787.6 1061.3 L792.3 1061.4 L796.9 1061.5 L801.6 1061.6 L806.3 1061.7 L810.9 1061.8 L815.6 1062 L820.2 1062.2 L824.9 1062.3 L829.5 1062.5 L834.2 1062.7 L838.8 1062.9 L843.5 1063.1 L848.1 1063.3 L852.8 1063.4 L857.5 1063.6 L862.1 1063.9 L866.8 1064.1 L871.4 1064.3 L876.1 1064.4 L880.7 1064.4 L885.4 1064.3 L890 1064.3 L894.7 1064.3 L899.4 1064.2 L904 1064.1 L908.7 1064 L913.3 1063.8 L918 1063.3 L922.6 1062.2 L927.3 1060.9 L935.4 1058.9 L936.6 1068 L941.2 1068.2 L945.9 1068.3 L950.6 1068.5 L955.2 1068.5 L959.9 1068.4 L964.5 1068.1 L969.2 1067.8 L973.8 1067.4 L978.5 1067.1 L983.1 1066.7 L987.8 1066.3 L992.5 1065.8 L997.1 1065.4 L1001.8 1065.2 L1006.4 1065 L1011.1 1064.8 L1015.7 1064.3 L1020.4 1063.6 L1025 1062.8 L1029.7 1061.8 L1034.3 1060.7 L1039 1059.4 L1043.7 1057.8 L1048.3 1055.9 L1053 1053.2 L1057.6 1052.5 L1062.3 1053.2 L1066.9 1054 L1071.6 1054.8 L1076.2 1055.7 L1080.9 1056.7 L1085.6 1057.7 L1090.2 1058.7 L1094.9 1059.7 L1099.5 1060.8 L1104.2 1061.9 L1108.8 1062.9 L1113.5 1063.9 L1118.1 1064.9 L1122.8 1065.9 L1127.5 1066.9 L1132.1 1067.9 L1136.8 1068.9 L1141.4 1070 L1146.1 1071.1 L1150.7 1072.3 L1155.4 1073.5 L1160 1074.7 L1164.7 1076 L1169.3 1077.4 L1174 1078.8 L1178.7 1080.2 L1183.3 1081.7 L1188 1083.1 L1192.6 1084.4 L1197.3 1085.7 L1201.9 1087 L1206.6 1088.3 L1211.2 1089.7 L1215.9 1091.2 L1220.5 1092.8 L1225.2 1094.5 L1229.9 1096.2 L1234.5 1098 L1239.2 1099.8 L1243.8 1101.6 L1248.5 1103.6 L1253.1 1105.5 L1257.8 1107.5 L1262.4 1109.4 L1267.1 1111.2 L1271.8 1112.9 L1276.4 1114.7 L1281.1 1116.5 L1285.7 1118.4 L1290.4 1120.5 L1295 1122.8 L1299.7 1125.2 L1304.3 1127.7 L1309 1130.1 L1313.7 1132.5 L1318.3 1134.7 L1323 1136.8 L1327.6 1138.8 L1332.3 1140.8 L1336.9 1142.9 L1341.6 1145.2 L1346.2 1147.6 L1350.9 1150.4 L1355.5 1153.3 L1360.2 1156.4 L1364.9 1159.5 L1369.5 1162.4 L1374.2 1165.1 L1378.8 1167.6 L1383.5 1170.2 L1388.1 1172.6 L1392.8 1175.1 L1397.4 1177.7 L1402.1 1180.4 L1406.8 1183 L1411.4 1185.7 L1416.1 1188.4 L1420.7 1191.1 L1425.4 1193.7 L1430 1196.4 L1434.7 1199.1 L1439.3 1201.8 L1444 1204.5 L1448.6 1207.1 L1453.3 1209.8 L1458 1212.4 L1462.6 1215.1 L1467.3 1217.8 L1471.9 1220.5 L1476.6 1223.2 L1481.2 1225.9 L1485.9 1228.7 L1490.5 1231.5 L1495.2 1234.4 L1499.8 1237.4 L1504.5 1240.6 L1511.5 1245.5" stroke="#70AD47" stroke-width="12" fill="none" stroke-linejoin="round" stroke-linecap="round"/>
<path d="M266.3 1055.2l6 6l-6 6l-6 -6zM270.9 1055.1l6 6l-6 6l-6 -6zM275.6 1055.1l6 6l-6 6l-6 -6zM280.2 1055.1l6 6l-6 6l-6 -6zM284.9 1055.1l6 6l-6 6l-6 -6zM289.6 1055.1l6 6l-6 6l-6 -6zM294.2 1055.1l6 6l-6 6l-6 -6zM298.9 1055.1l6 6l-6 6l-6 -6zM303.5 1055.1l6 6l-6 6l-6 -6zM308.2 1055.1l6 6l-6 6l-6 -6zM312.8 1055.1l6 6l-6 6l-6 -6zM317.5 1055.1l6 6l-6 6l-6 -6zM322.1 1055.1l6 6l-6 6l-6 -6zM326.8 1055.1l6 6l-6 6l-6 -6zM331.4 1055.1l6 6l-6 6l-6 -6zM336.1 1055.1l6 6l-6 6l-6 -6zM340.8 1055.1l6 6l-6 6l-6 -6zM345.4 1055.1l6 6l-6 6l-6 -6zM350.1 1055.1l6 6l-6 6l-6 -6zM354.7 1055.1l6 6l-6 6l-6 -6zM359.4 1055.1l6 6l-6 6l-6 -6zM364 1055.1l6 6l-6 6l-6 -6zM368.7 1055.1l6 6l-6 6l-6 -6zM373.3 1055.1l6 6l-6 6l-6 -6zM378 1055.1l6 6l-6 6l-6 -6zM382.6 1055l6 6l-6 6l-6 -6zM387.3 1055l6 6l-6 6l-6 -6zM392 1055l6 6l-6 6l-6 -6zM396.6 1055l6 6l-6 6l-6 -6zM401.3 1055l6 6l-6 6l-6 -6zM405.9 1055l6 6l-6 6l-6 -6zM410.6 1055l6 6l-6 6l-6 -6zM415.2 1055l6 6l-6 6l-6 -6zM419.9 1054.9l6 6l-6 6l-6 -6zM424.5 1054.4l6 6l-6 6l-6 -6zM429.2 1054.1l6 6l-6 6l-6 -6zM433.9 1054.1l6 6l-6 6l-6 -6zM438.5 1054.1l6 6l-6 6l-6 -6zM443.2 1054.1l6 6l-6 6l-6 -6zM447.8 1054.1l6 6l-6 6l-6 -6zM452.5 1054.1l6 6l-6 6l-6 -6zM457.1 1054.1l6 6l-6 6l-6 -6zM461.8 1054.1l6 6l-6 6l-6 -6zM466.4 1054.1l6 6l-6 6l-6 -6zM471.1 1054.1l6 6l-6 6l-6 -6zM475.8 1054.1l6 6l-6 6l-6 -6zM480.4 1054.1l6 6l-6 6l-6 -6zM485.1 1054.1l6 6l-6 6l-6 -6zM489.7 1054.1l6 6l-6 6l-6 -6zM494.4 1054.1l6 6l-6 6l-6 -6zM499 1054.1l6 6l-6 6l-6 -6zM503.7 1054.1l6 6l-6 6l-6 -6zM508.3 1054.1l6 6l-6 6l-6 -6zM513 1054.1l6 6l-6 6l-6 -6zM517.6 1054.1l6 6l-6 6l-6 -6zM522.3 1054.1l6 6l-6 6l-6 -6zM527 1054.1l6 6l-6 6l-6 -6zM531.6 1054.1l6 6l-6 6l-6 -6zM536.3 1054.1l6 6l-6 6l-6 -6zM540.9 1054.1l6 6l-6 6l-6 -6zM545.6 1054.1l6 6l-6 6l-6 -6zM550.2 1054.1l6 6l-6 6l-6 -6zM554.9 1054.1l6 6l-6 6l-6 -6zM559.5 1054.1l6 6l-6 6l-6 -6zM564.2 1054.1l6 6l-6 6l-6 -6zM568.9 1054.1l6 6l-6 6l-6 -6zM573.5 1054.1l6 6l-6 6l-6 -6zM578.2 1054.1l6 6l-6 6l-6 -6zM582.8 1054.1l6 6l-6 6l-6 -6zM587.5 1054.1l6 6l-6 6l-6 -6zM592.1 1054.1l6 6l-6 6l-6 -6zM596.8 1054.1l6 6l-6 6l-6 -6zM601.4 1054.1l6 6l-6 6l-6 -6zM606.1 1054.1l6 6l-6 6l-6 -6zM610.7 1054l6 6l-6 6l-6 -6zM615.4 1054l6 6l-6 6l-6 -6zM620.1 1054l6 6l-6 6l-6 -6zM624.7 1053.9l6 6l-6 6l-6 -6zM629.4 1053.9l6 6l-6 6l-6 -6zM634 1053.8l6 6l-6 6l-6 -6zM638.7 1053.8l6 6l-6 6l-6 -6zM643.3 1053.7l6 6l-6 6l-6 -6zM648 1053.6l6 6l-6 6l-6 -6zM652.6 1053.6l6 6l-6 6l-6 -6zM657.3 1053.5l6 6l-6 6l-6 -6zM662 1053.5l6 6l-6 6l-6 -6zM666.6 1053.5l6 6l-6 6l-6 -6zM671.3 1053.4l6 6l-6 6l-6 -6zM675.9 1053.4l6 6l-6 6l-6 -6zM680.6 1053.4l6 6l-6 6l-6 -6zM685.2 1053.4l6 6l-6 6l-6 -6zM689.9 1053.4l6 6l-6 6l-6 -6zM694.5 1053.4l6 6l-6 6l-6 -6zM699.2 1053.5l6 6l-6 6l-6 -6zM703.8 1053.6l6 6l-6 6l-6 -6zM708.5 1053.6l6 6l-6 6l-6 -6zM713.2 1053.7l6 6l-6 6l-6 -6zM717.8 1053.8l6 6l-6 6l-6 -6zM722.5 1054l6 6l-6 6l-6 -6zM727.1 1054.1l6 6l-6 6l-6 -6zM731.8 1054.2l6 6l-6 6l-6 -6zM736.4 1054.3l6 6l-6 6l-6 -6zM741.1 1054.4l6 6l-6 6l-6 -6zM745.7 1054.5l6 6l-6 6l-6 -6zM750.4 1054.6l6 6l-6 6l-6 -6zM755 1054.7l6 6l-6 6l-6 -6zM759.7 1054.8l6 6l-6 6l-6 -6zM764.4 1054.9l6 6l-6 6l-6 -6zM769 1054.9l6 6l-6 6l-6 -6zM773.7 1055l6 6l-6 6l-6 -6zM778.3 1055.1l6 6l-6 6l-6 -6zM783 1055.2l6 6l-6 6l-6 -6zM787.6 1055.3l6 6l-6 6l-6 -6zM792.3 1055.4l6 6l-6 6l-6 -6zM796.9 1055.5l6 6l-6 6l-6 -6zM801.6 1055.6l6 6l-6 6l-6 -6zM806.3 1055.7l6 6l-6 6l-6 -6zM810.9 1055.8l6 6l-6 6l-6 -6zM815.6 1056l6 6l-6 6l-6 -6zM820.2 1056.2l6 6l-6 6l-6 -6zM824.9 1056.3l6 6l-6 6l-6 -6zM829.5 1056.5l6 6l-6 6l-6 -6zM834.2 1056.7l6 6l-6 6l-6 -6zM838.8 1056.9l6 6l-6 6l-6 -6zM843.5 1057.1l6 6l-6 6l-6 -6zM848.1 1057.3l6 6l-6 6l-6 -6zM852.8 1057.4l6 6l-6 6l-6 -6zM857.5 1057.6l6 6l-6 6l-6 -6zM862.1 1057.9l6 6l-6 6l-6 -6zM866.8 1058.1l6 6l-6 6l-6 -6zM871.4 1058.3l6 6l-6 6l-6 -6zM876.1 1058.4l6 6l-6 6l-6 -6zM880.7 1058.4l6 6l-6 6l-6 -6zM885.4 1058.3l6 6l-6 6l-6 -6zM890 1058.3l6 6l-6 6l-6 -6zM894.7 1058.3l6 6l-6 6l-6 -6zM899.4 1058.2l6 6l-6 6l-6 -6zM904 1058.1l6 6l-6 6l-6 -6zM908.7 1058l6 6l-6 6l-6 -6zM913.3 1057.8l6 6l-6 6l-6 -6zM918 1057.3l6 6l-6 6l-6 -6zM922.6 1056.2l6 6l-6 6l-6 -6zM927.3 1054.9l6 6l-6 6l-6 -6zM935.4 1052.9l6 6l-6 6l-6 -6zM936.6 1062l6 6l-6 6l-6 -6zM941.2 1062.2l6 6l-6 6l-6 -6zM945.9 1062.3l6 6l-6 6l-6 -6zM950.6 1062.5l6 6l-6 6l-6 -6zM955.2 1062.5l6 6l-6 6l-6 -6zM959.9 1062.4l6 6l-6 6l-6 -6zM964.5 1062.1l6 6l-6 6l-6 -6zM969.2 1061.8l6 6l-6 6l-6 -6zM973.8 1061.4l6 6l-6 6l-6 -6zM978.5 1061.1l6 6l-6 6l-6 -6zM983.1 1060.7l6 6l-6 6l-6 -6zM987.8 1060.3l6 6l-6 6l-6 -6zM992.5 1059.8l6 6l-6 6l-6 -6zM997.1 1059.4l6 6l-6 6l-6 -6zM1001.8 1059.2l6 6l-6 6l-6 -6zM1006.4 1059l6 6l-6 6l-6 -6zM1011.1 1058.8l6 6l-6 6l-6 -6zM1015.7 1058.3l6 6l-6 6l-6 -6zM1020.4 1057.6l6 6l-6 6l-6 -6zM1025 1056.8l6 6l-6 6l-6 -6zM1029.7 1055.8l6 6l-6 6l-6 -6zM1034.3 1054.7l6 6l-6 6l-6 -6zM1039 1053.4l6 6l-6 6l-6 -6zM1043.7 1051.8l6 6l-6 6l-6 -6zM1048.3 1049.9l6 6l-6 6l-6 -6zM1053 1047.2l6 6l-6 6l-6 -6zM1057.6 1046.5l6 6l-6 6l-6 -6zM1062.3 1047.2l6 6l-6 6l-6 -6zM1066.9 1048l6 6l-6 6l-6 -6zM1071.6 1048.8l6 6l-6 6l-6 -6zM1076.2 1049.7l6 6l-6 6l-6 -6zM1080.9 1050.7l6 6l-6 6l-6 -6zM1085.6 1051.7l6 6l-6 6l-6 -6zM1090.2 1052.7l6 6l-6 6l-6 -6zM1094.9 1053.7l6 6l-6 6l-6 -6zM1099.5 1054.8l6 6l-6 6l-6 -6zM1104.2 1055.9l6 6l-6 6l-6 -6zM1108.8 1056.9l6 6l-6 6l-6 -6zM1113.5 1057.9l6 6l-6 6l-6 -6zM1118.1 1058.9l6 6l-6 6l-6 -6zM1122.8 1059.9l6 6l-6 6l-6 -6zM1127.5 1060.9l6 6l-6 6l-6 -6zM1132.1 1061.9l6 6l-6 6l-6 -6zM1136.8 1062.9l6 6l-6 6l-6 -6zM1141.4 1064l6 6l-6 6l-6 -6zM1146.1 1065.1l6 6l-6 6l-6 -6zM1150.7 1066.3l6 6l-6 6l-6 -6zM1155.4 1067.5l6 6l-6 6l-6 -6zM1160 1068.7l6 6l-6 6l-6 -6zM1164.7 1070l6 6l-6 6l-6 -6zM1169.3 1071.4l6 6l-6 6l-6 -6zM1174 1072.8l6 6l-6 6l-6 -6zM1178.7 1074.2l6 6l-6 6l-6 -6zM1183.3 1075.7l6 6l-6 6l-6 -6zM1188 1077.1l6 6l-6 6l-6 -6zM1192.6 1078.4l6 6l-6 6l-6 -6zM1197.3 1079.7l6 6l-6 6l-6 -6zM1201.9 1081l6 6l-6 6l-6 -6zM1206.6 1082.3l6 6l-6 6l-6 -6zM1211.2 1083.7l6 6l-6 6l-6 -6zM1215.9 1085.2l6 6l-6 6l-6 -6zM1220.5 1086.8l6 6l-6 6l-6 -6zM1225.2 1088.5l6 6l-6 6l-6 -6zM1229.9 1090.2l6 6l-6 6l-6 -6zM1234.5 1092l6 6l-6 6l-6 -6zM1239.2 1093.8l6 6l-6 6l-6 -6zM1243.8 1095.6l6 6l-6 6l-6 -6zM1248.5 1097.6l6 6l-6 6l-6 -6zM1253.1 1099.5l6 6l-6 6l-6 -6zM1257.8 1101.5l6 6l-6 6l-6 -6zM1262.4 1103.4l6 6l-6 6l-6 -6zM1267.1 1105.2l6 6l-6 6l-6 -6zM1271.8 1106.9l6 6l-6 6l-6 -6zM1276.4 1108.7l6 6l-6 6l-6 -6zM1281.1 1110.5l6 6l-6 6l-6 -6zM1285.7 1112.4l6 6l-6 6l-6 -6zM1290.4 1114.5l6 6l-6 6l-6 -6zM1295 1116.8l6 6l-6 6l-6 -6zM1299.7 1119.2l6 6l-6 6l-6 -6zM1304.3 1121.7l6 6l-6 6l-6 -6zM1309 1124.1l6 6l-6 6l-6 -6zM1313.7 1126.5l6 6l-6 6l-6 -6zM1318.3 1128.7l6 6l-6 6l-6 -6zM1323 1130.8l6 6l-6 6l-6 -6zM1327.6 1132.8l6 6l-6 6l-6 -6zM1332.3 1134.8l6 6l-6 6l-6 -6zM1336.9 1136.9l6 6l-6 6l-6 -6zM1341.6 1139.2l6 6l-6 6l-6 -6zM1346.2 1141.6l6 6l-6 6l-6 -6zM1350.9 1144.4l6 6l-6 6l-6 -6zM1355.5 1147.3l6 6l-6 6l-6 -6zM1360.2 1150.4l6 6l-6 6l-6 -6zM1364.9 1153.5l6 6l-6 6l-6 -6zM1369.5 1156.4l6 6l-6 6l-6 -6zM1374.2 1159.1l6 6l-6 6l-6 -6zM1378.8 1161.6l6 6l-6 6l-6 -6zM1383.5 1164.2l6 6l-6 6l-6 -6zM1388.1 1166.6l6 6l-6 6l-6 -6zM1392.8 1169.1l6 6l-6 6l-6 -6zM1397.4 1171.7l6 6l-6 6l-6 -6zM1402.1 1174.4l6 6l-6 6l-6 -6zM1406.8 1177l6 6l-6 6l-6 -6zM1411.4 1179.7l6 6l-6 6l-6 -6zM1416.1 1182.4l6 6l-6 6l-6 -6zM1420.7 1185.1l6 6l-6 6l-6 -6zM1425.4 1187.7l6 6l-6 6l-6 -6zM1430 1190.4l6 6l-6 6l-6 -6zM1434.7 1193.1l6 6l-6 6l-6 -6zM1439.3 1195.8l6 6l-6 6l-6 -6zM1444 1198.5l6 6l-6 6l-6 -6zM1448.6 1201.1l6 6l-6 6l-6 -6zM1453.3 1203.8l6 6l-6 6l-6 -6zM1458 1206.4l6 6l-6 6l-6 -6zM1462.6 1209.1l6 6l-6 6l-6 -6zM1467.3 1211.8l6 6l-6 6l-6 -6zM1471.9 1214.5l6 6l-6 6l-6 -6zM1476.6 1217.2l6 6l-6 6l-6 -6zM1481.2 1219.9l6 6l-6 6l-6 -6zM1485.9 1222.7l6 6l-6 6l-6 -6zM1490.5 1225.5l6 6l-6 6l-6 -6zM1495.2 1228.4l6 6l-6 6l-6 -6zM1499.8 1231.4l6 6l-6 6l-6 -6zM1504.5 1234.6l6 6l-6 6l-6 -6zM1511.5 1239.5l6 6l-6 6l-6 -6z" fill="#70AD47" stroke="#70AD47" stroke-width="1"/>
<path d="M935.4 1213.9 L940.1 1214.4 L944.7 1215 L949.4 1215.5 L954.1 1216.1 L958.7 1216.6 L963.4 1217.1 L968 1217.6 L972.7 1218.1 L977.3 1218.7 L982 1219.3 L986.6 1220 L991.3 1220.7 L995.9 1221.6 L1000.6 1222.8 L1005.3 1224.1 L1009.9 1225.5 L1014.6 1226.8 L1019.2 1228.3 L1023.9 1229.9 L1028.5 1231.6 L1033.2 1233.4 L1037.8 1235.2 L1042.5 1237.1 L1047.2 1239.6 L1055.3 1245.5" stroke="#255E91" stroke-width="3.8" fill="none" stroke-linejoin="round"/>
<path d="M935.4 1213.9 L940.1 1214.4 L944.7 1215 L949.4 1215.5 L954.1 1216.1 L958.7 1216.6 L963.4 1217.1 L968 1217.6 L972.7 1218.1 L977.3 1218.7 L982 1219.3 L986.6 1220 L991.3 1220.7 L995.9 1221.6 L1000.6 1222.8 L1005.3 1224.1 L1009.9 1225.5 L1014.6 1226.8 L1019.2 1228.3 L1023.9 1229.9 L1028.5 1231.6 L1033.2 1233.4 L1037.8 1235.2 L1042.5 1237.1 L1047.2 1239.6 L1055.3 1245.5" stroke="#255E91" stroke-width="12" fill="none" stroke-linejoin="round" stroke-linecap="round"/>
<path d="M935.4 1207.9l6 6l-6 6l-6 -6zM940.1 1208.4l6 6l-6 6l-6 -6zM944.7 1209l6 6l-6 6l-6 -6zM949.4 1209.5l6 6l-6 6l-6 -6zM954.1 1210.1l6 6l-6 6l-6 -6zM958.7 1210.6l6 6l-6 6l-6 -6zM963.4 1211.1l6 6l-6 6l-6 -6zM968 1211.6l6 6l-6 6l-6 -6zM972.7 1212.1l6 6l-6 6l-6 -6zM977.3 1212.7l6 6l-6 6l-6 -6zM982 1213.3l6 6l-6 6l-6 -6zM986.6 1214l6 6l-6 6l-6 -6zM991.3 1214.7l6 6l-6 6l-6 -6zM995.9 1215.6l6 6l-6 6l-6 -6zM1000.6 1216.8l6 6l-6 6l-6 -6zM1005.3 1218.1l6 6l-6 6l-6 -6zM1009.9 1219.5l6 6l-6 6l-6 -6zM1014.6 1220.8l6 6l-6 6l-6 -6zM1019.2 1222.3l6 6l-6 6l-6 -6zM1023.9 1223.9l6 6l-6 6l-6 -6zM1028.5 1225.6l6 6l-6 6l-6 -6zM1033.2 1227.4l6 6l-6 6l-6 -6zM1037.8 1229.2l6 6l-6 6l-6 -6zM1042.5 1231.1l6 6l-6 6l-6 -6zM1047.2 1233.6l6 6l-6 6l-6 -6zM1055.3 1239.5l6 6l-6 6l-6 -6z" fill="#255E91" stroke="#255E91" stroke-width="1"/>
<path d="M1814.1 1245.5 L1815.2 1228.9 L1818.7 1211.3 L1824 1190.5 L1835 1157.4 L1844 1114.9 L1854.2 1074.4 L1862.7 1031.9 L1870.6 965.6 L1881.6 890.9 L1892 794.5 L1901.3 674.2 L1909.5 514.5 L1918.8 302 L1922.9 208.7 L1927.5 208.7 L1932.2 208.7 L1936.8 208.7 L1941.5 208.7 L1946.1 208.7 L1950.8 208.7 L1955.5 208.7 L1960.1 208.7 L1964.8 208.7 L1969.4 208.7 L1974.1 208.7 L1978.7 208.7 L1983.4 208.7 L1988 208.7 L1992.7 208.7 L1997.4 208.7 L2002 208.7 L2006.7 208.7 L2011.3 208.7 L2016 208.7 L2020.6 208.7 L2025.3 208.7 L2029.9 208.7 L2034.6 208.7 L2039.2 208.7 L2043.9 208.7 L2048.6 208.7 L2053.2 208.7 L2057.9 208.7 L2062.5 208.7 L2067.2 208.7 L2071.8 208.7 L2076.5 208.7 L2081.1 208.7 L2085.8 208.7 L2090.5 208.7 L2095.1 208.7 L2099.8 208.7 L2105 208.7" stroke="#9E480E" stroke-width="3.8" fill="none" stroke-linejoin="round"/>
<path d="M1922.9 208.7 L1927.5 208.7 L1932.2 208.7 L1936.8 208.7 L1941.5 208.7 L1946.1 208.7 L1950.8 208.7 L1955.5 208.7 L1960.1 208.7 L1964.8 208.7 L1969.4 208.7 L1974.1 208.7 L1978.7 208.7 L1983.4 208.7 L1988 208.7 L1992.7 208.7 L1997.4 208.7 L2002 208.7 L2006.7 208.7 L2011.3 208.7 L2016 208.7 L2020.6 208.7 L2025.3 208.7 L2029.9 208.7 L2034.6 208.7 L2039.2 208.7 L2043.9 208.7 L2048.6 208.7 L2053.2 208.7 L2057.9 208.7 L2062.5 208.7 L2067.2 208.7 L2071.8 208.7 L2076.5 208.7 L2081.1 208.7 L2085.8 208.7 L2090.5 208.7 L2095.1 208.7 L2099.8 208.7 L2105 208.7" stroke="#9E480E" stroke-width="12" fill="none" stroke-linejoin="round" stroke-linecap="round"/>
<path d="M1814.1 1239.5l6 6l-6 6l-6 -6zM1815.2 1222.9l6 6l-6 6l-6 -6zM1818.7 1205.3l6 6l-6 6l-6 -6zM1824 1184.5l6 6l-6 6l-6 -6zM1835 1151.4l6 6l-6 6l-6 -6zM1844 1108.9l6 6l-6 6l-6 -6zM1854.2 1068.4l6 6l-6 6l-6 -6zM1862.7 1025.9l6 6l-6 6l-6 -6zM1870.6 959.6l6 6l-6 6l-6 -6zM1881.6 884.9l6 6l-6 6l-6 -6zM1892 788.5l6 6l-6 6l-6 -6zM1901.3 668.2l6 6l-6 6l-6 -6zM1909.5 508.5l6 6l-6 6l-6 -6zM1918.8 296l6 6l-6 6l-6 -6zM1922.9 202.7l6 6l-6 6l-6 -6zM1927.5 202.7l6 6l-6 6l-6 -6zM1932.2 202.7l6 6l-6 6l-6 -6zM1936.8 202.7l6 6l-6 6l-6 -6zM1941.5 202.7l6 6l-6 6l-6 -6zM1946.1 202.7l6 6l-6 6l-6 -6zM1950.8 202.7l6 6l-6 6l-6 -6zM1955.5 202.7l6 6l-6 6l-6 -6zM1960.1 202.7l6 6l-6 6l-6 -6zM1964.8 202.7l6 6l-6 6l-6 -6zM1969.4 202.7l6 6l-6 6l-6 -6zM1974.1 202.7l6 6l-6 6l-6 -6zM1978.7 202.7l6 6l-6 6l-6 -6zM1983.4 202.7l6 6l-6 6l-6 -6zM1988 202.7l6 6l-6 6l-6 -6zM1992.7 202.7l6 6l-6 6l-6 -6zM1997.4 202.7l6 6l-6 6l-6 -6zM2002 202.7l6 6l-6 6l-6 -6zM2006.7 202.7l6 6l-6 6l-6 -6zM2011.3 202.7l6 6l-6 6l-6 -6zM2016 202.7l6 6l-6 6l-6 -6zM2020.6 202.7l6 6l-6 6l-6 -6zM2025.3 202.7l6 6l-6 6l-6 -6zM2029.9 202.7l6 6l-6 6l-6 -6zM2034.6 202.7l6 6l-6 6l-6 -6zM2039.2 202.7l6 6l-6 6l-6 -6zM2043.9 202.7l6 6l-6 6l-6 -6zM2048.6 202.7l6 6l-6 6l-6 -6zM2053.2 202.7l6 6l-6 6l-6 -6zM2057.9 202.7l6 6l-6 6l-6 -6zM2062.5 202.7l6 6l-6 6l-6 -6zM2067.2 202.7l6 6l-6 6l-6 -6zM2071.8 202.7l6 6l-6 6l-6 -6zM2076.5 202.7l6 6l-6 6l-6 -6zM2081.1 202.7l6 6l-6 6l-6 -6zM2085.8 202.7l6 6l-6 6l-6 -6zM2090.5 202.7l6 6l-6 6l-6 -6zM2095.1 202.7l6 6l-6 6l-6 -6zM2099.8 202.7l6 6l-6 6l-6 -6zM2105 202.7l6 6l-6 6l-6 -6z" fill="#9E480E" stroke="#9E480E" stroke-width="1"/>
<path d="M266.3 1244.7 L270.9 1244.7 L275.6 1244.7 L280.2 1244.7 L284.9 1244.7 L289.6 1244.7 L294.2 1244.7 L298.9 1244.7 L303.5 1244.7 L308.2 1244.7 L312.8 1244.7 L317.5 1244.7 L322.1 1244.7 L326.8 1244.7 L331.4 1244.7 L336.1 1244.7 L340.8 1244.7 L345.4 1244.7 L350.1 1244.7 L354.7 1244.7 L359.4 1244.7 L364 1244.7 L368.7 1244.7 L373.3 1244.7 L378 1244.7 L382.6 1244.7 L387.3 1244.7 L392 1244.7 L396.6 1244.7 L401.3 1244.7 L405.9 1244.7 L410.6 1244.7 L415.2 1244.7 L419.9 1244.7 L424.5 1244.7 L429.2 1244.7 L433.9 1244.7 L438.5 1244.7 L443.2 1244.7 L447.8 1244.7 L452.5 1244.7 L457.1 1244.7 L461.8 1244.7 L466.4 1244.7 L471.1 1244.7 L475.8 1244.7 L480.4 1244.7 L485.1 1244.7 L489.7 1244.7 L494.4 1244.7 L499 1244.7 L503.7 1244.7 L508.3 1244.7 L513 1244.7 L517.6 1244.7 L522.3 1244.7 L527 1244.7 L531.6 1244.7 L536.3 1244.7 L540.9 1244.7 L545.6 1244.7 L550.2 1244.7 L554.9 1244.7 L559.5 1244.7 L564.2 1244.7 L568.9 1244.7 L573.5 1244.7 L578.2 1244.7 L582.8 1244.7 L587.5 1244.7 L592.1 1244.7 L596.8 1244.7 L601.4 1244.7 L606.1 1244.7 L610.7 1244.7 L615.4 1244.7 L620.1 1244.7 L624.7 1244.7 L629.4 1244.7 L634 1244.7 L638.7 1244.7 L643.3 1244.7 L648 1244.7 L652.6 1244.7 L657.3 1244.7 L662 1244.7 L666.6 1244.7 L671.3 1244.7 L675.9 1244.7 L680.6 1244.7 L685.2 1244.7 L689.9 1244.7 L694.5 1244.7 L699.2 1244.7 L703.8 1244.7 L708.5 1244.7 L713.2 1244.7 L717.8 1244.7 L722.5 1244.7 L727.1 1244.7 L731.8 1244.7 L736.4 1244.7 L741.1 1244.7 L745.7 1244.7 L750.4 1244.7 L755 1244.7 L759.7 1244.7 L764.4 1244.7 L769 1244.7 L773.7 1244.7 L778.3 1244.7 L783 1244.7 L787.6 1244.7 L792.3 1244.7 L796.9 1244.7 L801.6 1244.7 L806.3 1244.7 L810.9 1244.7 L815.6 1244.7 L820.2 1244.7 L824.9 1244.7 L829.5 1244.7 L834.2 1244.7 L838.8 1244.7 L843.5 1244.7 L848.1 1244.7 L852.8 1244.7 L857.5 1244.7 L862.1 1244.7 L866.8 1244.7 L871.4 1244.7 L876.1 1244.7 L880.7 1244.7 L885.4 1244.7 L890 1244.7 L894.7 1244.7 L899.4 1244.7 L904 1244.7 L908.7 1244.7 L913.3 1244.7 L918 1244.7 L922.6 1244.7 L927.3 1244.7 L931.9 1244.7 L936.6 1244.7 L941.2 1244.7 L945.9 1244.7 L950.6 1244.7 L955.2 1244.7 L959.9 1244.7 L964.5 1244.7 L969.2 1244.7 L973.8 1244.7 L978.5 1244.7 L983.1 1244.7 L987.8 1244.7 L992.5 1244.7 L997.1 1244.7 L1001.8 1244.7 L1006.4 1244.7 L1011.1 1244.7 L1015.7 1244.7 L1020.4 1244.7 L1025 1244.7 L1029.7 1244.7 L1034.3 1244.7 L1039 1244.7 L1043.7 1244.7 L1048.3 1244.7 L1053 1244.7 L1057.6 1244.7 L1062.3 1244.7 L1066.9 1244.7 L1071.6 1244.7 L1076.2 1244.7 L1080.9 1244.7 L1085.6 1244.7 L1090.2 1244.7 L1094.9 1244.7 L1099.5 1244.7 L1104.2 1244.7 L1108.8 1244.7 L1113.5 1244.7 L1118.1 1244.7 L1122.8 1244.7 L1127.5 1244.7 L1132.1 1244.7 L1136.8 1244.7 L1141.4 1244.7 L1146.1 1244.7 L1150.7 1244.7 L1156.5 1244.7" stroke="#636363" stroke-width="3.8" fill="none" stroke-linejoin="round"/>
<path d="M266.3 1244.7 L270.9 1244.7 L275.6 1244.7 L280.2 1244.7 L284.9 1244.7 L289.6 1244.7 L294.2 1244.7 L298.9 1244.7 L303.5 1244.7 L308.2 1244.7 L312.8 1244.7 L317.5 1244.7 L322.1 1244.7 L326.8 1244.7 L331.4 1244.7 L336.1 1244.7 L340.8 1244.7 L345.4 1244.7 L350.1 1244.7 L354.7 1244.7 L359.4 1244.7 L364 1244.7 L368.7 1244.7 L373.3 1244.7 L378 1244.7 L382.6 1244.7 L387.3 1244.7 L392 1244.7 L396.6 1244.7 L401.3 1244.7 L405.9 1244.7 L410.6 1244.7 L415.2 1244.7 L419.9 1244.7 L424.5 1244.7 L429.2 1244.7 L433.9 1244.7 L438.5 1244.7 L443.2 1244.7 L447.8 1244.7 L452.5 1244.7 L457.1 1244.7 L461.8 1244.7 L466.4 1244.7 L471.1 1244.7 L475.8 1244.7 L480.4 1244.7 L485.1 1244.7 L489.7 1244.7 L494.4 1244.7 L499 1244.7 L503.7 1244.7 L508.3 1244.7 L513 1244.7 L517.6 1244.7 L522.3 1244.7 L527 1244.7 L531.6 1244.7 L536.3 1244.7 L540.9 1244.7 L545.6 1244.7 L550.2 1244.7 L554.9 1244.7 L559.5 1244.7 L564.2 1244.7 L568.9 1244.7 L573.5 1244.7 L578.2 1244.7 L582.8 1244.7 L587.5 1244.7 L592.1 1244.7 L596.8 1244.7 L601.4 1244.7 L606.1 1244.7 L610.7 1244.7 L615.4 1244.7 L620.1 1244.7 L624.7 1244.7 L629.4 1244.7 L634 1244.7 L638.7 1244.7 L643.3 1244.7 L648 1244.7 L652.6 1244.7 L657.3 1244.7 L662 1244.7 L666.6 1244.7 L671.3 1244.7 L675.9 1244.7 L680.6 1244.7 L685.2 1244.7 L689.9 1244.7 L694.5 1244.7 L699.2 1244.7 L703.8 1244.7 L708.5 1244.7 L713.2 1244.7 L717.8 1244.7 L722.5 1244.7 L727.1 1244.7 L731.8 1244.7 L736.4 1244.7 L741.1 1244.7 L745.7 1244.7 L750.4 1244.7 L755 1244.7 L759.7 1244.7 L764.4 1244.7 L769 1244.7 L773.7 1244.7 L778.3 1244.7 L783 1244.7 L787.6 1244.7 L792.3 1244.7 L796.9 1244.7 L801.6 1244.7 L806.3 1244.7 L810.9 1244.7 L815.6 1244.7 L820.2 1244.7 L824.9 1244.7 L829.5 1244.7 L834.2 1244.7 L838.8 1244.7 L843.5 1244.7 L848.1 1244.7 L852.8 1244.7 L857.5 1244.7 L862.1 1244.7 L866.8 1244.7 L871.4 1244.7 L876.1 1244.7 L880.7 1244.7 L885.4 1244.7 L890 1244.7 L894.7 1244.7 L899.4 1244.7 L904 1244.7 L908.7 1244.7 L913.3 1244.7 L918 1244.7 L922.6 1244.7 L927.3 1244.7 L931.9 1244.7 L936.6 1244.7 L941.2 1244.7 L945.9 1244.7 L950.6 1244.7 L955.2 1244.7 L959.9 1244.7 L964.5 1244.7 L969.2 1244.7 L973.8 1244.7 L978.5 1244.7 L983.1 1244.7 L987.8 1244.7 L992.5 1244.7 L997.1 1244.7 L1001.8 1244.7 L1006.4 1244.7 L1011.1 1244.7 L1015.7 1244.7 L1020.4 1244.7 L1025 1244.7 L1029.7 1244.7 L1034.3 1244.7 L1039 1244.7 L1043.7 1244.7 L1048.3 1244.7 L1053 1244.7 L1057.6 1244.7 L1062.3 1244.7 L1066.9 1244.7 L1071.6 1244.7 L1076.2 1244.7 L1080.9 1244.7 L1085.6 1244.7 L1090.2 1244.7 L1094.9 1244.7 L1099.5 1244.7 L1104.2 1244.7 L1108.8 1244.7 L1113.5 1244.7 L1118.1 1244.7 L1122.8 1244.7 L1127.5 1244.7 L1132.1 1244.7 L1136.8 1244.7 L1141.4 1244.7 L1146.1 1244.7 L1150.7 1244.7 L1156.5 1244.7" stroke="#636363" stroke-width="12" fill="none" stroke-linejoin="round" stroke-linecap="round"/>
<path d="M266.3 1238.7l6 6l-6 6l-6 -6zM270.9 1238.7l6 6l-6 6l-6 -6zM275.6 1238.7l6 6l-6 6l-6 -6zM280.2 1238.7l6 6l-6 6l-6 -6zM284.9 1238.7l6 6l-6 6l-6 -6zM289.6 1238.7l6 6l-6 6l-6 -6zM294.2 1238.7l6 6l-6 6l-6 -6zM298.9 1238.7l6 6l-6 6l-6 -6zM303.5 1238.7l6 6l-6 6l-6 -6zM308.2 1238.7l6 6l-6 6l-6 -6zM312.8 1238.7l6 6l-6 6l-6 -6zM317.5 1238.7l6 6l-6 6l-6 -6zM322.1 1238.7l6 6l-6 6l-6 -6zM326.8 1238.7l6 6l-6 6l-6 -6zM331.4 1238.7l6 6l-6 6l-6 -6zM336.1 1238.7l6 6l-6 6l-6 -6zM340.8 1238.7l6 6l-6 6l-6 -6zM345.4 1238.7l6 6l-6 6l-6 -6zM350.1 1238.7l6 6l-6 6l-6 -6zM354.7 1238.7l6 6l-6 6l-6 -6zM359.4 1238.7l6 6l-6 6l-6 -6zM364 1238.7l6 6l-6 6l-6 -6zM368.7 1238.7l6 6l-6 6l-6 -6zM373.3 1238.7l6 6l-6 6l-6 -6zM378 1238.7l6 6l-6 6l-6 -6zM382.6 1238.7l6 6l-6 6l-6 -6zM387.3 1238.7l6 6l-6 6l-6 -6zM392 1238.7l6 6l-6 6l-6 -6zM396.6 1238.7l6 6l-6 6l-6 -6zM401.3 1238.7l6 6l-6 6l-6 -6zM405.9 1238.7l6 6l-6 6l-6 -6zM410.6 1238.7l6 6l-6 6l-6 -6zM415.2 1238.7l6 6l-6 6l-6 -6zM419.9 1238.7l6 6l-6 6l-6 -6zM424.5 1238.7l6 6l-6 6l-6 -6zM429.2 1238.7l6 6l-6 6l-6 -6zM433.9 1238.7l6 6l-6 6l-6 -6zM438.5 1238.7l6 6l-6 6l-6 -6zM443.2 1238.7l6 6l-6 6l-6 -6zM447.8 1238.7l6 6l-6 6l-6 -6zM452.5 1238.7l6 6l-6 6l-6 -6zM457.1 1238.7l6 6l-6 6l-6 -6zM461.8 1238.7l6 6l-6 6l-6 -6zM466.4 1238.7l6 6l-6 6l-6 -6zM471.1 1238.7l6 6l-6 6l-6 -6zM475.8 1238.7l6 6l-6 6l-6 -6zM480.4 1238.7l6 6l-6 6l-6 -6zM485.1 1238.7l6 6l-6 6l-6 -6zM489.7 1238.7l6 6l-6 6l-6 -6zM494.4 1238.7l6 6l-6 6l-6 -6zM499 1238.7l6 6l-6 6l-6 -6zM503.7 1238.7l6 6l-6 6l-6 -6zM508.3 1238.7l6 6l-6 6l-6 -6zM513 1238.7l6 6l-6 6l-6 -6zM517.6 1238.7l6 6l-6 6l-6 -6zM522.3 1238.7l6 6l-6 6l-6 -6zM527 1238.7l6 6l-6 6l-6 -6zM531.6 1238.7l6 6l-6 6l-6 -6zM536.3 1238.7l6 6l-6 6l-6 -6zM540.9 1238.7l6 6l-6 6l-6 -6zM545.6 1238.7l6 6l-6 6l-6 -6zM550.2 1238.7l6 6l-6 6l-6 -6zM554.9 1238.7l6 6l-6 6l-6 -6zM559.5 1238.7l6 6l-6 6l-6 -6zM564.2 1238.7l6 6l-6 6l-6 -6zM568.9 1238.7l6 6l-6 6l-6 -6zM573.5 1238.7l6 6l-6 6l-6 -6zM578.2 1238.7l6 6l-6 6l-6 -6zM582.8 1238.7l6 6l-6 6l-6 -6zM587.5 1238.7l6 6l-6 6l-6 -6zM592.1 1238.7l6 6l-6 6l-6 -6zM596.8 1238.7l6 6l-6 6l-6 -6zM601.4 1238.7l6 6l-6 6l-6 -6zM606.1 1238.7l6 6l-6 6l-6 -6zM610.7 1238.7l6 6l-6 6l-6 -6zM615.4 1238.7l6 6l-6 6l-6 -6zM620.1 1238.7l6 6l-6 6l-6 -6zM624.7 1238.7l6 6l-6 6l-6 -6zM629.4 1238.7l6 6l-6 6l-6 -6zM634 1238.7l6 6l-6 6l-6 -6zM638.7 1238.7l6 6l-6 6l-6 -6zM643.3 1238.7l6 6l-6 6l-6 -6zM648 1238.7l6 6l-6 6l-6 -6zM652.6 1238.7l6 6l-6 6l-6 -6zM657.3 1238.7l6 6l-6 6l-6 -6zM662 1238.7l6 6l-6 6l-6 -6zM666.6 1238.7l6 6l-6 6l-6 -6zM671.3 1238.7l6 6l-6 6l-6 -6zM675.9 1238.7l6 6l-6 6l-6 -6zM680.6 1238.7l6 6l-6 6l-6 -6zM685.2 1238.7l6 6l-6 6l-6 -6zM689.9 1238.7l6 6l-6 6l-6 -6zM694.5 1238.7l6 6l-6 6l-6 -6zM699.2 1238.7l6 6l-6 6l-6 -6zM703.8 1238.7l6 6l-6 6l-6 -6zM708.5 1238.7l6 6l-6 6l-6 -6zM713.2 1238.7l6 6l-6 6l-6 -6zM717.8 1238.7l6 6l-6 6l-6 -6zM722.5 1238.7l6 6l-6 6l-6 -6zM727.1 1238.7l6 6l-6 6l-6 -6zM731.8 1238.7l6 6l-6 6l-6 -6zM736.4 1238.7l6 6l-6 6l-6 -6zM741.1 1238.7l6 6l-6 6l-6 -6zM745.7 1238.7l6 6l-6 6l-6 -6zM750.4 1238.7l6 6l-6 6l-6 -6zM755 1238.7l6 6l-6 6l-6 -6zM759.7 1238.7l6 6l-6 6l-6 -6zM764.4 1238.7l6 6l-6 6l-6 -6zM769 1238.7l6 6l-6 6l-6 -6zM773.7 1238.7l6 6l-6 6l-6 -6zM778.3 1238.7l6 6l-6 6l-6 -6zM783 1238.7l6 6l-6 6l-6 -6zM787.6 1238.7l6 6l-6 6l-6 -6zM792.3 1238.7l6 6l-6 6l-6 -6zM796.9 1238.7l6 6l-6 6l-6 -6zM801.6 1238.7l6 6l-6 6l-6 -6zM806.3 1238.7l6 6l-6 6l-6 -6zM810.9 1238.7l6 6l-6 6l-6 -6zM815.6 1238.7l6 6l-6 6l-6 -6zM820.2 1238.7l6 6l-6 6l-6 -6zM824.9 1238.7l6 6l-6 6l-6 -6zM829.5 1238.7l6 6l-6 6l-6 -6zM834.2 1238.7l6 6l-6 6l-6 -6zM838.8 1238.7l6 6l-6 6l-6 -6zM843.5 1238.7l6 6l-6 6l-6 -6zM848.1 1238.7l6 6l-6 6l-6 -6zM852.8 1238.7l6 6l-6 6l-6 -6zM857.5 1238.7l6 6l-6 6l-6 -6zM862.1 1238.7l6 6l-6 6l-6 -6zM866.8 1238.7l6 6l-6 6l-6 -6zM871.4 1238.7l6 6l-6 6l-6 -6zM876.1 1238.7l6 6l-6 6l-6 -6zM880.7 1238.7l6 6l-6 6l-6 -6zM885.4 1238.7l6 6l-6 6l-6 -6zM890 1238.7l6 6l-6 6l-6 -6zM894.7 1238.7l6 6l-6 6l-6 -6zM899.4 1238.7l6 6l-6 6l-6 -6zM904 1238.7l6 6l-6 6l-6 -6zM908.7 1238.7l6 6l-6 6l-6 -6zM913.3 1238.7l6 6l-6 6l-6 -6zM918 1238.7l6 6l-6 6l-6 -6zM922.6 1238.7l6 6l-6 6l-6 -6zM927.3 1238.7l6 6l-6 6l-6 -6zM931.9 1238.7l6 6l-6 6l-6 -6zM936.6 1238.7l6 6l-6 6l-6 -6zM941.2 1238.7l6 6l-6 6l-6 -6zM945.9 1238.7l6 6l-6 6l-6 -6zM950.6 1238.7l6 6l-6 6l-6 -6zM955.2 1238.7l6 6l-6 6l-6 -6zM959.9 1238.7l6 6l-6 6l-6 -6zM964.5 1238.7l6 6l-6 6l-6 -6zM969.2 1238.7l6 6l-6 6l-6 -6zM973.8 1238.7l6 6l-6 6l-6 -6zM978.5 1238.7l6 6l-6 6l-6 -6zM983.1 1238.7l6 6l-6 6l-6 -6zM987.8 1238.7l6 6l-6 6l-6 -6zM992.5 1238.7l6 6l-6 6l-6 -6zM997.1 1238.7l6 6l-6 6l-6 -6zM1001.8 1238.7l6 6l-6 6l-6 -6zM1006.4 1238.7l6 6l-6 6l-6 -6zM1011.1 1238.7l6 6l-6 6l-6 -6zM1015.7 1238.7l6 6l-6 6l-6 -6zM1020.4 1238.7l6 6l-6 6l-6 -6zM1025 1238.7l6 6l-6 6l-6 -6zM1029.7 1238.7l6 6l-6 6l-6 -6zM1034.3 1238.7l6 6l-6 6l-6 -6zM1039 1238.7l6 6l-6 6l-6 -6zM1043.7 1238.7l6 6l-6 6l-6 -6zM1048.3 1238.7l6 6l-6 6l-6 -6zM1053 1238.7l6 6l-6 6l-6 -6zM1057.6 1238.7l6 6l-6 6l-6 -6zM1062.3 1238.7l6 6l-6 6l-6 -6zM1066.9 1238.7l6 6l-6 6l-6 -6zM1071.6 1238.7l6 6l-6 6l-6 -6zM1076.2 1238.7l6 6l-6 6l-6 -6zM1080.9 1238.7l6 6l-6 6l-6 -6zM1085.6 1238.7l6 6l-6 6l-6 -6zM1090.2 1238.7l6 6l-6 6l-6 -6zM1094.9 1238.7l6 6l-6 6l-6 -6zM1099.5 1238.7l6 6l-6 6l-6 -6zM1104.2 1238.7l6 6l-6 6l-6 -6zM1108.8 1238.7l6 6l-6 6l-6 -6zM1113.5 1238.7l6 6l-6 6l-6 -6zM1118.1 1238.7l6 6l-6 6l-6 -6zM1122.8 1238.7l6 6l-6 6l-6 -6zM1127.5 1238.7l6 6l-6 6l-6 -6zM1132.1 1238.7l6 6l-6 6l-6 -6zM1136.8 1238.7l6 6l-6 6l-6 -6zM1141.4 1238.7l6 6l-6 6l-6 -6zM1146.1 1238.7l6 6l-6 6l-6 -6zM1150.7 1238.7l6 6l-6 6l-6 -6zM1156.5 1238.7l6 6l-6 6l-6 -6z" fill="#636363" stroke="#636363" stroke-width="1"/>
<path d="M266.3 1189 L270.9 1189 L275.6 1189 L280.2 1189 L284.9 1189 L289.6 1189 L294.2 1189 L298.9 1189 L303.5 1189 L308.2 1189 L312.8 1189 L317.5 1189 L322.1 1189 L326.8 1189.1 L331.4 1189.1 L336.1 1189.1 L340.8 1189.1 L345.4 1189.1 L350.1 1189.1 L354.7 1189.1 L359.4 1189.1 L364 1189.1 L368.7 1189.1 L373.3 1189.1 L378 1189.1 L382.6 1189.1 L387.3 1189.1 L392 1189.1 L396.6 1189.1 L401.3 1189.1 L405.9 1189.1 L410.6 1189.1 L415.2 1189.1 L419.9 1189.1 L424.5 1189.1 L429.2 1189.1 L433.9 1189.2 L438.5 1189.2 L443.2 1189.2 L447.8 1189.2 L452.5 1189.2 L457.1 1189.2 L461.8 1189.2 L466.4 1189.2 L471.1 1189.2 L475.8 1189.2 L480.4 1189.2 L485.1 1189.2 L489.7 1189.2 L494.4 1189.2 L499 1189.2 L503.7 1189.2 L508.3 1189.2 L513 1189.2 L517.6 1189.2 L522.3 1189.2 L527 1189.2 L531.6 1189.2 L536.3 1189.3 L540.9 1189.3 L545.6 1189.3 L550.2 1189.3 L554.9 1189.3 L559.5 1189.3 L564.2 1189.3 L568.9 1189.3 L573.5 1189.3 L578.2 1189.3 L582.8 1189.3 L587.5 1189.3 L592.1 1189.3 L596.8 1189.3 L601.4 1189.3 L606.1 1189.3 L610.7 1189.3 L615.4 1189.3 L620.1 1189.3 L624.7 1189.3 L629.4 1189.3 L634 1189.3 L638.7 1189.3 L643.3 1189.3 L648 1189.3 L652.6 1189.3 L657.3 1189.3 L662 1189.3 L666.6 1189.4 L671.3 1189.4 L675.9 1189.4 L680.6 1189.4 L685.2 1189.4 L689.9 1189.4 L694.5 1189.4 L699.2 1189.4 L703.8 1189.4 L708.5 1189.4 L713.2 1189.4 L717.8 1189.4 L722.5 1189.4 L727.1 1189.4 L731.8 1189.4 L736.4 1189.4 L741.1 1189.4 L745.7 1189.4 L750.4 1189.4 L755 1189.4 L759.7 1189.4 L764.4 1189.4 L769 1189.4 L773.7 1189.5 L778.3 1189.5 L783 1189.5 L787.6 1189.5 L792.3 1189.5 L796.9 1189.5 L801.6 1189.5 L806.3 1189.6 L810.9 1189.7 L815.6 1189.8 L820.2 1190 L824.9 1190.2 L829.5 1190.3 L834.2 1190.5 L838.8 1190.8 L843.5 1191 L848.1 1191.3 L852.8 1191.6 L857.5 1191.9 L862.1 1192.3 L866.8 1192.7 L871.4 1193.1 L876.1 1193.7 L880.7 1194.2 L885.4 1195 L890 1195.8 L894.7 1196.7 L899.4 1197.7 L904 1198.7 L908.7 1199.7 L913.3 1200.8 L918 1202.2 L922.6 1203.9 L927.3 1206.1 L931.9 1209.3 L935.9 1214.1 L936 1245.5" stroke="#997300" stroke-width="3.8" fill="none" stroke-linejoin="round"/>
<path d="M266.3 1189 L270.9 1189 L275.6 1189 L280.2 1189 L284.9 1189 L289.6 1189 L294.2 1189 L298.9 1189 L303.5 1189 L308.2 1189 L312.8 1189 L317.5 1189 L322.1 1189 L326.8 1189.1 L331.4 1189.1 L336.1 1189.1 L340.8 1189.1 L345.4 1189.1 L350.1 1189.1 L354.7 1189.1 L359.4 1189.1 L364 1189.1 L368.7 1189.1 L373.3 1189.1 L378 1189.1 L382.6 1189.1 L387.3 1189.1 L392 1189.1 L396.6 1189.1 L401.3 1189.1 L405.9 1189.1 L410.6 1189.1 L415.2 1189.1 L419.9 1189.1 L424.5 1189.1 L429.2 1189.1 L433.9 1189.2 L438.5 1189.2 L443.2 1189.2 L447.8 1189.2 L452.5 1189.2 L457.1 1189.2 L461.8 1189.2 L466.4 1189.2 L471.1 1189.2 L475.8 1189.2 L480.4 1189.2 L485.1 1189.2 L489.7 1189.2 L494.4 1189.2 L499 1189.2 L503.7 1189.2 L508.3 1189.2 L513 1189.2 L517.6 1189.2 L522.3 1189.2 L527 1189.2 L531.6 1189.2 L536.3 1189.3 L540.9 1189.3 L545.6 1189.3 L550.2 1189.3 L554.9 1189.3 L559.5 1189.3 L564.2 1189.3 L568.9 1189.3 L573.5 1189.3 L578.2 1189.3 L582.8 1189.3 L587.5 1189.3 L592.1 1189.3 L596.8 1189.3 L601.4 1189.3 L606.1 1189.3 L610.7 1189.3 L615.4 1189.3 L620.1 1189.3 L624.7 1189.3 L629.4 1189.3 L634 1189.3 L638.7 1189.3 L643.3 1189.3 L648 1189.3 L652.6 1189.3 L657.3 1189.3 L662 1189.3 L666.6 1189.4 L671.3 1189.4 L675.9 1189.4 L680.6 1189.4 L685.2 1189.4 L689.9 1189.4 L694.5 1189.4 L699.2 1189.4 L703.8 1189.4 L708.5 1189.4 L713.2 1189.4 L717.8 1189.4 L722.5 1189.4 L727.1 1189.4 L731.8 1189.4 L736.4 1189.4 L741.1 1189.4 L745.7 1189.4 L750.4 1189.4 L755 1189.4 L759.7 1189.4 L764.4 1189.4 L769 1189.4 L773.7 1189.5 L778.3 1189.5 L783 1189.5 L787.6 1189.5 L792.3 1189.5 L796.9 1189.5 L801.6 1189.5 L806.3 1189.6 L810.9 1189.7 L815.6 1189.8 L820.2 1190 L824.9 1190.2 L829.5 1190.3 L834.2 1190.5 L838.8 1190.8 L843.5 1191 L848.1 1191.3 L852.8 1191.6 L857.5 1191.9 L862.1 1192.3 L866.8 1192.7 L871.4 1193.1 L876.1 1193.7 L880.7 1194.2 L885.4 1195 L890 1195.8 L894.7 1196.7 L899.4 1197.7 L904 1198.7 L908.7 1199.7 L913.3 1200.8 L918 1202.2 L922.6 1203.9 L927.3 1206.1 L931.9 1209.3 L935.9 1214.1" stroke="#997300" stroke-width="12" fill="none" stroke-linejoin="round" stroke-linecap="round"/>
<path d="M266.3 1183l6 6l-6 6l-6 -6zM270.9 1183l6 6l-6 6l-6 -6zM275.6 1183l6 6l-6 6l-6 -6zM280.2 1183l6 6l-6 6l-6 -6zM284.9 1183l6 6l-6 6l-6 -6zM289.6 1183l6 6l-6 6l-6 -6zM294.2 1183l6 6l-6 6l-6 -6zM298.9 1183l6 6l-6 6l-6 -6zM303.5 1183l6 6l-6 6l-6 -6zM308.2 1183l6 6l-6 6l-6 -6zM312.8 1183l6 6l-6 6l-6 -6zM317.5 1183l6 6l-6 6l-6 -6zM322.1 1183l6 6l-6 6l-6 -6zM326.8 1183.1l6 6l-6 6l-6 -6zM331.4 1183.1l6 6l-6 6l-6 -6zM336.1 1183.1l6 6l-6 6l-6 -6zM340.8 1183.1l6 6l-6 6l-6 -6zM345.4 1183.1l6 6l-6 6l-6 -6zM350.1 1183.1l6 6l-6 6l-6 -6zM354.7 1183.1l6 6l-6 6l-6 -6zM359.4 1183.1l6 6l-6 6l-6 -6zM364 1183.1l6 6l-6 6l-6 -6zM368.7 1183.1l6 6l-6 6l-6 -6zM373.3 1183.1l6 6l-6 6l-6 -6zM378 1183.1l6 6l-6 6l-6 -6zM382.6 1183.1l6 6l-6 6l-6 -6zM387.3 1183.1l6 6l-6 6l-6 -6zM392 1183.1l6 6l-6 6l-6 -6zM396.6 1183.1l6 6l-6 6l-6 -6zM401.3 1183.1l6 6l-6 6l-6 -6zM405.9 1183.1l6 6l-6 6l-6 -6zM410.6 1183.1l6 6l-6 6l-6 -6zM415.2 1183.1l6 6l-6 6l-6 -6zM419.9 1183.1l6 6l-6 6l-6 -6zM424.5 1183.1l6 6l-6 6l-6 -6zM429.2 1183.1l6 6l-6 6l-6 -6zM433.9 1183.2l6 6l-6 6l-6 -6zM438.5 1183.2l6 6l-6 6l-6 -6zM443.2 1183.2l6 6l-6 6l-6 -6zM447.8 1183.2l6 6l-6 6l-6 -6zM452.5 1183.2l6 6l-6 6l-6 -6zM457.1 1183.2l6 6l-6 6l-6 -6zM461.8 1183.2l6 6l-6 6l-6 -6zM466.4 1183.2l6 6l-6 6l-6 -6zM471.1 1183.2l6 6l-6 6l-6 -6zM475.8 1183.2l6 6l-6 6l-6 -6zM480.4 1183.2l6 6l-6 6l-6 -6zM485.1 1183.2l6 6l-6 6l-6 -6zM489.7 1183.2l6 6l-6 6l-6 -6zM494.4 1183.2l6 6l-6 6l-6 -6zM499 1183.2l6 6l-6 6l-6 -6zM503.7 1183.2l6 6l-6 6l-6 -6zM508.3 1183.2l6 6l-6 6l-6 -6zM513 1183.2l6 6l-6 6l-6 -6zM517.6 1183.2l6 6l-6 6l-6 -6zM522.3 1183.2l6 6l-6 6l-6 -6zM527 1183.2l6 6l-6 6l-6 -6zM531.6 1183.2l6 6l-6 6l-6 -6zM536.3 1183.3l6 6l-6 6l-6 -6zM540.9 1183.3l6 6l-6 6l-6 -6zM545.6 1183.3l6 6l-6 6l-6 -6zM550.2 1183.3l6 6l-6 6l-6 -6zM554.9 1183.3l6 6l-6 6l-6 -6zM559.5 1183.3l6 6l-6 6l-6 -6zM564.2 1183.3l6 6l-6 6l-6 -6zM568.9 1183.3l6 6l-6 6l-6 -6zM573.5 1183.3l6 6l-6 6l-6 -6zM578.2 1183.3l6 6l-6 6l-6 -6zM582.8 1183.3l6 6l-6 6l-6 -6zM587.5 1183.3l6 6l-6 6l-6 -6zM592.1 1183.3l6 6l-6 6l-6 -6zM596.8 1183.3l6 6l-6 6l-6 -6zM601.4 1183.3l6 6l-6 6l-6 -6zM606.1 1183.3l6 6l-6 6l-6 -6zM610.7 1183.3l6 6l-6 6l-6 -6zM615.4 1183.3l6 6l-6 6l-6 -6zM620.1 1183.3l6 6l-6 6l-6 -6zM624.7 1183.3l6 6l-6 6l-6 -6zM629.4 1183.3l6 6l-6 6l-6 -6zM634 1183.3l6 6l-6 6l-6 -6zM638.7 1183.3l6 6l-6 6l-6 -6zM643.3 1183.3l6 6l-6 6l-6 -6zM648 1183.3l6 6l-6 6l-6 -6zM652.6 1183.3l6 6l-6 6l-6 -6zM657.3 1183.3l6 6l-6 6l-6 -6zM662 1183.3l6 6l-6 6l-6 -6zM666.6 1183.4l6 6l-6 6l-6 -6zM671.3 1183.4l6 6l-6 6l-6 -6zM675.9 1183.4l6 6l-6 6l-6 -6zM680.6 1183.4l6 6l-6 6l-6 -6zM685.2 1183.4l6 6l-6 6l-6 -6zM689.9 1183.4l6 6l-6 6l-6 -6zM694.5 1183.4l6 6l-6 6l-6 -6zM699.2 1183.4l6 6l-6 6l-6 -6zM703.8 1183.4l6 6l-6 6l-6 -6zM708.5 1183.4l6 6l-6 6l-6 -6zM713.2 1183.4l6 6l-6 6l-6 -6zM717.8 1183.4l6 6l-6 6l-6 -6zM722.5 1183.4l6 6l-6 6l-6 -6zM727.1 1183.4l6 6l-6 6l-6 -6zM731.8 1183.4l6 6l-6 6l-6 -6zM736.4 1183.4l6 6l-6 6l-6 -6zM741.1 1183.4l6 6l-6 6l-6 -6zM745.7 1183.4l6 6l-6 6l-6 -6zM750.4 1183.4l6 6l-6 6l-6 -6zM755 1183.4l6 6l-6 6l-6 -6zM759.7 1183.4l6 6l-6 6l-6 -6zM764.4 1183.4l6 6l-6 6l-6 -6zM769 1183.4l6 6l-6 6l-6 -6zM773.7 1183.5l6 6l-6 6l-6 -6zM778.3 1183.5l6 6l-6 6l-6 -6zM783 1183.5l6 6l-6 6l-6 -6zM787.6 1183.5l6 6l-6 6l-6 -6zM792.3 1183.5l6 6l-6 6l-6 -6zM796.9 1183.5l6 6l-6 6l-6 -6zM801.6 1183.5l6 6l-6 6l-6 -6zM806.3 1183.6l6 6l-6 6l-6 -6zM810.9 1183.7l6 6l-6 6l-6 -6zM815.6 1183.8l6 6l-6 6l-6 -6zM820.2 1184l6 6l-6 6l-6 -6zM824.9 1184.2l6 6l-6 6l-6 -6zM829.5 1184.3l6 6l-6 6l-6 -6zM834.2 1184.5l6 6l-6 6l-6 -6zM838.8 1184.8l6 6l-6 6l-6 -6zM843.5 1185l6 6l-6 6l-6 -6zM848.1 1185.3l6 6l-6 6l-6 -6zM852.8 1185.6l6 6l-6 6l-6 -6zM857.5 1185.9l6 6l-6 6l-6 -6zM862.1 1186.3l6 6l-6 6l-6 -6zM866.8 1186.7l6 6l-6 6l-6 -6zM871.4 1187.1l6 6l-6 6l-6 -6zM876.1 1187.7l6 6l-6 6l-6 -6zM880.7 1188.2l6 6l-6 6l-6 -6zM885.4 1189l6 6l-6 6l-6 -6zM890 1189.8l6 6l-6 6l-6 -6zM894.7 1190.7l6 6l-6 6l-6 -6zM899.4 1191.7l6 6l-6 6l-6 -6zM904 1192.7l6 6l-6 6l-6 -6zM908.7 1193.7l6 6l-6 6l-6 -6zM913.3 1194.8l6 6l-6 6l-6 -6zM918 1196.2l6 6l-6 6l-6 -6zM922.6 1197.9l6 6l-6 6l-6 -6zM927.3 1200.1l6 6l-6 6l-6 -6zM931.9 1203.3l6 6l-6 6l-6 -6zM935.9 1208.1l6 6l-6 6l-6 -6zM936 1239.5l6 6l-6 6l-6 -6z" fill="#997300" stroke="#997300" stroke-width="1"/>
</g>
<text x="195.5" y="1259.5" text-anchor="end" font-size="44" font-family="'Liberation Sans', Arial, sans-serif" font-weight="bold" fill="#111">0%</text>
<text x="195.5" y="1052.1" text-anchor="end" font-size="44" font-family="'Liberation Sans', Arial, sans-serif" font-weight="bold" fill="#111">20%</text>
<text x="195.5" y="844.8" text-anchor="end" font-size="44" font-family="'Liberation Sans', Arial, sans-serif" font-weight="bold" fill="#111">40%</text>
<text x="195.5" y="637.4" text-anchor="end" font-size="44" font-family="'Liberation Sans', Arial, sans-serif" font-weight="bold" fill="#111">60%</text>
<text x="195.5" y="430" text-anchor="end" font-size="44" font-family="'Liberation Sans', Arial, sans-serif" font-weight="bold" fill="#111">80%</text>
<text x="195.5" y="222.7" text-anchor="end" font-size="44" font-family="'Liberation Sans', Arial, sans-serif" font-weight="bold" fill="#111">100%</text>
<text x="242.5" y="1316" text-anchor="middle" font-size="45.5" font-family="'Liberation Sans', Arial, sans-serif" font-weight="bold" fill="#111">0</text>
<text x="475.2" y="1316" text-anchor="middle" font-size="45.5" font-family="'Liberation Sans', Arial, sans-serif" font-weight="bold" fill="#111">200</text>
<text x="708" y="1316" text-anchor="middle" font-size="45.5" font-family="'Liberation Sans', Arial, sans-serif" font-weight="bold" fill="#111">400</text>
<text x="940.8" y="1316" text-anchor="middle" font-size="45.5" font-family="'Liberation Sans', Arial, sans-serif" font-weight="bold" fill="#111">600</text>
<text x="1173.5" y="1316" text-anchor="middle" font-size="45.5" font-family="'Liberation Sans', Arial, sans-serif" font-weight="bold" fill="#111">800</text>
<text x="1406.2" y="1316" text-anchor="middle" font-size="45.5" font-family="'Liberation Sans', Arial, sans-serif" font-weight="bold" fill="#111">1000</text>
<text x="1639" y="1316" text-anchor="middle" font-size="45.5" font-family="'Liberation Sans', Arial, sans-serif" font-weight="bold" fill="#111">1200</text>
<text x="1871.8" y="1316" text-anchor="middle" font-size="45.5" font-family="'Liberation Sans', Arial, sans-serif" font-weight="bold" fill="#111">1400</text>
<text x="2104.5" y="1316" text-anchor="middle" font-size="45.5" font-family="'Liberation Sans', Arial, sans-serif" font-weight="bold" fill="#111">1600</text>
<text x="1071" y="1386.5" font-size="44" font-family="'Liberation Sans', Arial, sans-serif" font-weight="bold" fill="#111" textLength="356" lengthAdjust="spacingAndGlyphs">Temperature, °C</text>
<text x="0" y="0" transform="translate(67.5 676.5) rotate(-90)" text-anchor="middle" font-size="45" font-family="'Liberation Sans', Arial, sans-serif" font-weight="bold" fill="#111" textLength="479" lengthAdjust="spacingAndGlyphs">Amount of phases, %</text>
<text x="350" y="751.5" font-size="56.5" font-family="'Liberation Sans', Arial, sans-serif" font-weight="bold" fill="#111" textLength="328" lengthAdjust="spacingAndGlyphs">Sample M10</text>
<path d="M995 466H1059" stroke="#5B9BD5" stroke-width="4"/>
<path d="M1029 459.5l6.5 6.5l-6.5 6.5l-6.5 -6.5z" fill="#5B9BD5"/>
<text x="1064" y="481" font-size="41.7" font-family="'Liberation Sans', Arial, sans-serif" font-weight="bold" fill="#111">Amount of BCC_A2</text>
<path d="M995 535.7H1059" stroke="#ED7D31" stroke-width="4"/>
<path d="M1029 529.2l6.5 6.5l-6.5 6.5l-6.5 -6.5z" fill="#ED7D31"/>
<text x="1064" y="550.7" font-size="41.7" font-family="'Liberation Sans', Arial, sans-serif" font-weight="bold" fill="#111">Amount of FCC_A1</text>
<path d="M995 605.4H1059" stroke="#A5A5A5" stroke-width="4"/>
<path d="M1029 598.9l6.5 6.5l-6.5 6.5l-6.5 -6.5z" fill="#A5A5A5"/>
<text x="1064" y="620.4" font-size="41.7" font-family="'Liberation Sans', Arial, sans-serif" font-weight="bold" fill="#111">Amount of FCC_A1#2</text>
<path d="M995 675.1H1059" stroke="#FFC000" stroke-width="4"/>
<path d="M1029 668.6l6.5 6.5l-6.5 6.5l-6.5 -6.5z" fill="#FFC000"/>
<text x="1064" y="690.1" font-size="41.7" font-family="'Liberation Sans', Arial, sans-serif" font-weight="bold" fill="#111">Amount of FCC_A1#3</text>
<path d="M995 744.8H1059" stroke="#70AD47" stroke-width="4"/>
<path d="M1029 738.3l6.5 6.5l-6.5 6.5l-6.5 -6.5z" fill="#70AD47"/>
<text x="1064" y="759.8" font-size="41.7" font-family="'Liberation Sans', Arial, sans-serif" font-weight="bold" fill="#111">Amount of LAVES_PHASE_C14</text>
<path d="M995 814.5H1059" stroke="#255E91" stroke-width="4"/>
<path d="M1029 808l6.5 6.5l-6.5 6.5l-6.5 -6.5z" fill="#255E91"/>
<text x="1064" y="829.5" font-size="41.7" font-family="'Liberation Sans', Arial, sans-serif" font-weight="bold" fill="#111">Amount of LAVES_PHASE_C14#2</text>
<path d="M995 884.2H1059" stroke="#9E480E" stroke-width="4"/>
<path d="M1029 877.7l6.5 6.5l-6.5 6.5l-6.5 -6.5z" fill="#9E480E"/>
<text x="1064" y="899.2" font-size="41.7" font-family="'Liberation Sans', Arial, sans-serif" font-weight="bold" fill="#111">Amount of LIQUID</text>
<path d="M995 953.9H1059" stroke="#636363" stroke-width="4"/>
<path d="M1029 947.4l6.5 6.5l-6.5 6.5l-6.5 -6.5z" fill="#636363"/>
<text x="1064" y="968.9" font-size="41.7" font-family="'Liberation Sans', Arial, sans-serif" font-weight="bold" fill="#111">Amount of MNS</text>
<path d="M995 1023.6H1059" stroke="#997300" stroke-width="4"/>
<path d="M1029 1017.1l6.5 6.5l-6.5 6.5l-6.5 -6.5z" fill="#997300"/>
<text x="1064" y="1038.6" font-size="41.7" font-family="'Liberation Sans', Arial, sans-serif" font-weight="bold" fill="#111">Amount of NI3TI</text>
<rect x="21" y="1605" width="2169" height="1415" fill="#ffffff"/>
<line x1="19" y1="1605" x2="2192" y2="1605" stroke="#dcdcdc" stroke-width="4"/>
<line x1="21" y1="1603" x2="21" y2="3022" stroke="#e3e3e3" stroke-width="4"/>
<line x1="19" y1="3020" x2="2192" y2="3020" stroke="#efefef" stroke-width="4"/>
<line x1="2190" y1="1603" x2="2190" y2="3022" stroke="#f5f5f5" stroke-width="4"/>
<path d="M243 2804.9H2105M243 2782.1H2105M243 2759.3H2105M243 2736.4H2105M243 2690.8H2105M243 2668H2105M243 2645.2H2105M243 2622.4H2105M243 2576.7H2105M243 2553.9H2105M243 2531.1H2105M243 2508.3H2105M243 2462.7H2105M243 2439.9H2105M243 2417H2105M243 2394.2H2105M243 2348.6H2105M243 2325.8H2105M243 2303H2105M243 2280.2H2105M243 2234.5H2105M243 2211.7H2105M243 2188.9H2105M243 2166.1H2105M243 2120.5H2105M243 2097.7H2105M243 2074.8H2105M243 2052H2105M243 2006.4H2105M243 1983.6H2105M243 1960.8H2105M243 1938H2105M243 1892.3H2105M243 1869.5H2105M243 1846.7H2105M243 1823.9H2105M243 1778.3H2105M243 1755.4H2105M243 1732.6H2105M243 1709.8H2105M289.6 1687V2827.7M336.1 1687V2827.7M382.6 1687V2827.7M429.2 1687V2827.7M522.3 1687V2827.7M568.9 1687V2827.7M615.4 1687V2827.7M662 1687V2827.7M755 1687V2827.7M801.6 1687V2827.7M848.1 1687V2827.7M894.7 1687V2827.7M987.8 1687V2827.7M1034.3 1687V2827.7M1080.9 1687V2827.7M1127.5 1687V2827.7M1220.5 1687V2827.7M1267.1 1687V2827.7M1313.7 1687V2827.7M1360.2 1687V2827.7M1453.3 1687V2827.7M1499.8 1687V2827.7M1546.4 1687V2827.7M1593 1687V2827.7M1686 1687V2827.7M1732.6 1687V2827.7M1779.2 1687V2827.7M1825.7 1687V2827.7M1918.8 1687V2827.7M1965.3 1687V2827.7M2011.9 1687V2827.7M2058.4 1687V2827.7" stroke="#f8f8f8" stroke-width="2" fill="none"/>
<path d="M243 2827.7H2105M243 2713.6H2105M243 2599.6H2105M243 2485.5H2105M243 2371.4H2105M243 2257.3H2105M243 2143.3H2105M243 2029.2H2105M243 1915.1H2105M243 1801.1H2105M475.8 1687V2827.7M708.5 1687V2827.7M941.2 1687V2827.7M1174 1687V2827.7M1406.8 1687V2827.7M1639.5 1687V2827.7M1872.2 1687V2827.7" stroke="#e3e3e3" stroke-width="3" fill="none"/>
<path d="M239.0 1687H2107.0" stroke="#222" stroke-width="8" fill="none"/>
<path d="M239.0 2827.7H2107.0" stroke="#111" stroke-width="3.8" fill="none"/>
<path d="M241 1683V2829.7" stroke="#0a0a0a" stroke-width="4" fill="none"/>
<path d="M245 1683V2829.7" stroke="#333" stroke-width="4" fill="none"/>
<path d="M2105 1683V2829.7" stroke="#0a0a0a" stroke-width="4" fill="none"/>
<path d="M2101 1687V2827.7 M2109 1687V2827.7" stroke="#b4b4b4" stroke-width="3" fill="none"/>
<clipPath id="clipb"><rect x="223.0" y="1675.0" width="1902.0" height="1164.6999999999998"/></clipPath>
<g clip-path="url(#clipb)">
<path d="M266.3 -868.2 L270.9 -868.2 L275.6 -868.2 L280.2 -868.2 L284.9 -868.2 L289.6 -868.2 L294.2 -868.2 L298.9 -868.2 L303.5 -868.2 L308.2 -868.2 L312.8 -868.2 L317.5 -868.2 L322.1 -868.4 L326.8 -868.7 L331.4 -869.1 L336.1 -869.6 L340.8 -870.1 L345.4 -870.7 L350.1 -871.4 L354.7 -872.5 L359.4 -874 L364 -875.9 L368.7 -878.1 L373.3 -880.5 L378 -883.1 L382.6 -885.9 L387.3 -888.8 L392 -891.7 L396.6 -894.6 L401.3 -897.4 L405.9 -900.3 L410.6 -903.5 L415.2 -906.9 L419.9 -910.4 L424.5 -914 L429.2 -917.7 L433.9 -921.5 L438.5 -925.3 L443.2 -929.1 L447.8 -932.9 L452.5 -936.6 L457.1 -940.3 L461.8 -943.9 L466.4 -947.6 L471.1 -951.3 L475.8 -955 L480.4 -958.8 L485.1 -962.5 L489.7 -966.4 L494.4 -970.2 L499 -974.2 L503.7 -978.2 L508.3 -982.2 L513 -986.5 L517.6 -990.8 L522.3 -995.4 L527 -1000 L531.6 -1004.7 L536.3 -1009.4 L540.9 -1014 L545.6 -1018.6 L550.2 -1023.1 L554.9 -1027.4 L559.5 -1031.6 L564.2 -1035.5 L568.9 -1039.5 L573.5 -1043.4 L578.2 -1047.3 L582.8 -1051.2 L587.5 -1054.9 L592.1 -1058.5 L596.8 -1062 L601.4 -1065.2 L606.1 -1068.3 L610.7 -1071 L615.4 -1073.5 L620.1 -1075.9 L624.7 -1078.3 L629.4 -1080.7 L634 -1083 L638.7 -1085.2 L643.3 -1087.3 L648 -1089.2 L652.6 -1090.7 L657.3 -1092 L662 -1092.9 L666.6 -1093.4 L671.3 -1092.3 L675.9 -1084.1 L680.6 -1071.1 L685.2 -1056.9 L689.9 -1041.9 L694.5 -1023.5 L699.2 -1007.8 L703.8 -998.3 L708.5 -990.8 L713.2 -984.4 L717.8 -978.9 L722.5 -973.9 L727.1 -968.8 L731.8 -963.4 L736.4 -957.2 L741.1 -950 L745.7 -942.3 L750.4 -934.2 L755 -925.7 L759.7 -916.8 L764.4 -907.5 L769 -897.8 L773.7 -887.6 L778.3 -876.8 L783 -865.2 L787.6 -852.6 L792.3 -839.3 L796.9 -825.4 L801.6 -811.1 L806.3 -796.6 L810.9 -782 L815.6 -767.7 L820.2 -754 L824.9 -740.8 L829.5 -727.3 L834.2 -712.9 L838.8 -696.9 L843.5 -678.7 L848.1 -657 L852.8 -628.8 L857.5 -595.9 L862.1 -560.7 L866.8 -524.9 L871.4 -485.7 L879.6 -414.7 L887.7 -332 L895.9 -246.5 L902.8 -132.4 L912.2 27.3 L920.3 215.5 L927.3 409.4 L930.8 597.6 L934.3 808.7 L935.4 1230.7 L936.6 1464.6 L941.2 1578.6 L945 1681.3 L952.1 1823.9 L959.6 2080.5 L967.7 2377.1 L977.7 2696.5 L979.7 2827.7" stroke="#5B9BD5" stroke-width="3.8" fill="none" stroke-linejoin="round"/>
<path d="M266.3 -868.2 L270.9 -868.2 L275.6 -868.2 L280.2 -868.2 L284.9 -868.2 L289.6 -868.2 L294.2 -868.2 L298.9 -868.2 L303.5 -868.2 L308.2 -868.2 L312.8 -868.2 L317.5 -868.2 L322.1 -868.4 L326.8 -868.7 L331.4 -869.1 L336.1 -869.6 L340.8 -870.1 L345.4 -870.7 L350.1 -871.4 L354.7 -872.5 L359.4 -874 L364 -875.9 L368.7 -878.1 L373.3 -880.5 L378 -883.1 L382.6 -885.9 L387.3 -888.8 L392 -891.7 L396.6 -894.6 L401.3 -897.4 L405.9 -900.3 L410.6 -903.5 L415.2 -906.9 L419.9 -910.4 L424.5 -914 L429.2 -917.7 L433.9 -921.5 L438.5 -925.3 L443.2 -929.1 L447.8 -932.9 L452.5 -936.6 L457.1 -940.3 L461.8 -943.9 L466.4 -947.6 L471.1 -951.3 L475.8 -955 L480.4 -958.8 L485.1 -962.5 L489.7 -966.4 L494.4 -970.2 L499 -974.2 L503.7 -978.2 L508.3 -982.2 L513 -986.5 L517.6 -990.8 L522.3 -995.4 L527 -1000 L531.6 -1004.7 L536.3 -1009.4 L540.9 -1014 L545.6 -1018.6 L550.2 -1023.1 L554.9 -1027.4 L559.5 -1031.6 L564.2 -1035.5 L568.9 -1039.5 L573.5 -1043.4 L578.2 -1047.3 L582.8 -1051.2 L587.5 -1054.9 L592.1 -1058.5 L596.8 -1062 L601.4 -1065.2 L606.1 -1068.3 L610.7 -1071 L615.4 -1073.5 L620.1 -1075.9 L624.7 -1078.3 L629.4 -1080.7 L634 -1083 L638.7 -1085.2 L643.3 -1087.3 L648 -1089.2 L652.6 -1090.7 L657.3 -1092 L662 -1092.9 L666.6 -1093.4 L671.3 -1092.3 L675.9 -1084.1M699.2 -1007.8 L703.8 -998.3 L708.5 -990.8 L713.2 -984.4 L717.8 -978.9 L722.5 -973.9 L727.1 -968.8 L731.8 -963.4 L736.4 -957.2 L741.1 -950 L745.7 -942.3 L750.4 -934.2 L755 -925.7 L759.7 -916.8 L764.4 -907.5 L769 -897.8 L773.7 -887.6 L778.3 -876.8" stroke="#5B9BD5" stroke-width="12" fill="none" stroke-linejoin="round" stroke-linecap="round"/>
<path d="M945 1675.3l6 6l-6 6l-6 -6zM952.1 1817.9l6 6l-6 6l-6 -6zM959.6 2074.5l6 6l-6 6l-6 -6zM967.7 2371.1l6 6l-6 6l-6 -6zM977.7 2690.5l6 6l-6 6l-6 -6zM979.7 2821.7l6 6l-6 6l-6 -6z" fill="#5B9BD5" stroke="#5B9BD5" stroke-width="1"/>
<path d="M1609.2 2827.7 L1618.6 2662.3 L1630.2 2514 L1639.5 2374.3 L1648.8 2223.1 L1657 2069.1 L1666.3 1903.7 L1675.6 1732.6 L1684.9 1572.9 L1694.2 1367.6 L1703.5 1196.5 L1712.8 991.2 L1722.1 797.3 L1732.6 603.3 L1740.7 380.9 L1750.1 164.2 L1759.4 -69.7 L1768.7 -292.1 L1778 -508.8 L1787.3 -742.7 L1796.6 -987.9 L1805.9 -1238.9 L1814.1 -1427.1 L1823.4 -1638.1 L1833.8 -1906.2 L1843.7 -2151.5 L1853.6 -1934.7 L1862.9 -1672.4 L1871.1 -1324.4 L1881.6 -908.1 L1892 -377.7 L1901.3 278.2 L1909.5 1133.8 L1918.8 2303 L1922.3 2827.7" stroke="#5B9BD5" stroke-width="3.8" fill="none" stroke-linejoin="round"/>
<path d="M1609.2 2821.7l6 6l-6 6l-6 -6zM1618.6 2656.3l6 6l-6 6l-6 -6zM1630.2 2508l6 6l-6 6l-6 -6zM1639.5 2368.3l6 6l-6 6l-6 -6zM1648.8 2217.1l6 6l-6 6l-6 -6zM1657 2063.1l6 6l-6 6l-6 -6zM1666.3 1897.7l6 6l-6 6l-6 -6zM1675.6 1726.6l6 6l-6 6l-6 -6zM1918.8 2297l6 6l-6 6l-6 -6zM1922.3 2821.7l6 6l-6 6l-6 -6z" fill="#5B9BD5" stroke="#5B9BD5" stroke-width="1"/>
<path d="M634 2827.7 L658.5 2814 L662 2787.8 L670.7 2750.7 L678.2 2646.9 L685.8 2514 L686.9 2314.4 L698 2303 L708.5 2291.6 L721.3 2280.2 L734.1 2265.9 L746.9 2248.2 L753.9 2230.5 L764.4 2212.9 L771.3 2194.6 L783 2171.8 L791.1 2149 L799.3 2120.5 L809.7 2091.9 L816.7 2057.7 L829.5 2017.8 L838.8 1972.2 L847 1920.8 L856.3 1863.8 L863.3 1795.4 L877.2 1709.8 L886 1610 L895.3 1504.5 L902.8 1379 L911 1207.9 L920.3 1002.6 L931.9 694.6 L935.4 -349.1 L941.2 -457.5 L949.4 -708.5 L958.7 -976.5 L966.9 -1278.8 L980.8 -1609.6 L983.1 -1735.1 L987.8 -1740.8 L992.5 -1746.6 L997.1 -1752.3 L1001.8 -1758.1 L1006.4 -1763.9 L1011.1 -1769.6 L1015.7 -1775.3 L1020.4 -1780.9 L1025 -1786.4 L1029.7 -1791.9 L1034.3 -1797.4 L1039 -1802.8 L1043.7 -1808.3 L1048.3 -1813.6 L1053 -1819 L1057.6 -1824.3 L1062.3 -1829.6 L1066.9 -1834.9 L1071.6 -1840.1 L1076.2 -1845.3 L1080.9 -1850.4 L1085.6 -1855.5 L1090.2 -1860.6 L1094.9 -1865.5 L1099.5 -1870.3 L1104.2 -1874.9 L1108.8 -1879.4 L1113.5 -1883.8 L1118.1 -1888.2 L1122.8 -1892.6 L1127.5 -1897.1 L1132.1 -1901.7 L1136.8 -1906.5 L1141.4 -1911.4 L1146.1 -1916.5 L1150.7 -1921.9 L1155.4 -1927.5 L1160 -1933.6 L1164.7 -1940 L1169.3 -1946.8 L1174 -1953.9 L1178.7 -1961.3 L1183.3 -1968.9 L1188 -1976.8 L1192.6 -1984.8 L1197.3 -1993 L1201.9 -2001.3 L1206.6 -2009.8 L1211.2 -2018.3 L1215.9 -2026.8 L1220.5 -2035.3 L1225.2 -2043.8 L1229.9 -2052.4 L1234.5 -2061.2 L1239.2 -2070.1 L1243.8 -2079.1 L1248.5 -2088.2 L1253.1 -2097.5 L1257.8 -2106.9 L1262.4 -2116.4 L1267.1 -2126 L1271.8 -2135.8 L1276.4 -2145.8 L1281.1 -2155.8 L1285.7 -2166 L1290.4 -2176.3 L1295 -2186.9 L1299.7 -2197.6 L1304.3 -2208.5 L1309 -2219.5 L1313.7 -2230.8 L1318.3 -2242.1 L1323 -2253.6 L1327.6 -2265.3 L1332.3 -2277.1 L1336.9 -2288.9 L1341.6 -2300.9 L1346.2 -2313 L1350.9 -2325.2 L1355.5 -2337.4 L1360.2 -2349.7 L1364.9 -2362 L1369.5 -2374.4 L1374.2 -2387 L1378.8 -2399.6 L1383.5 -2412.4 L1388.1 -2425.4 L1392.8 -2438.6 L1397.4 -2452.1 L1402.1 -2465.8 L1406.8 -2479.9 L1411.4 -2494.2 L1416.1 -2509 L1420.7 -2524.1 L1425.4 -2539.9 L1430 -2556.3 L1434.7 -2573.2 L1439.3 -2590.5 L1444 -2608.2 L1448.6 -2626.2 L1453.3 -2644.3 L1458 -2662.5 L1462.6 -2680.9 L1467.3 -2702 L1471.9 -2725.9 L1476.6 -2751.3 L1481.2 -2776.9 L1485.9 -2801.5 L1490.5 -2823.7 L1495.2 -2842.3 L1499.8 -2856 L1504.5 -2863.4 L1509.2 -2864.4 L1513.8 -2864.4 L1518.5 -2864.4 L1523.1 -2864.4 L1527.8 -2864.4 L1532.4 -2864.4 L1537.1 -2864.4 L1541.7 -2864.4 L1546.4 -2864.4 L1551.1 -2864.4 L1555.7 -2864.4 L1560.4 -2864.4 L1565 -2864.4 L1569.7 -2864.4 L1574.3 -2864.4 L1579 -2864.4 L1583.6 -2864.4 L1588.3 -2864.4 L1593 -2864.4 L1597.6 -2864.4 L1602.3 -2864.4 L1606.9 -2864.4 L1613.9 -2864.4 L1621.2 -2699 L1630.5 -2556.4 L1640 -2413.8 L1647.1 -2257 L1656.5 -2115 L1665.9 -1946.1 L1677.7 -1763.6 L1687.2 -1598.2 L1696.5 -1415.7 L1704.7 -1233.2 L1712.8 -1039.3 L1722.1 -822.5 L1733.8 -628.6 L1743.1 -406.2 L1750.6 -200.9 L1759.9 33 L1769.4 266.8 L1778.8 472.2 L1788.2 706 L1797.7 968.4 L1807.1 1213.6 L1814.1 1367.6 L1817.6 1572.9 L1824 1892.3 L1833.8 2337.2 L1843.7 2827.7" stroke="#ED7D31" stroke-width="3.8" fill="none" stroke-linejoin="round"/>
<path d="M983.1 -1735.1 L987.8 -1740.8 L992.5 -1746.6 L997.1 -1752.3 L1001.8 -1758.1 L1006.4 -1763.9 L1011.1 -1769.6 L1015.7 -1775.3 L1020.4 -1780.9 L1025 -1786.4 L1029.7 -1791.9 L1034.3 -1797.4 L1039 -1802.8 L1043.7 -1808.3 L1048.3 -1813.6 L1053 -1819 L1057.6 -1824.3 L1062.3 -1829.6 L1066.9 -1834.9 L1071.6 -1840.1 L1076.2 -1845.3 L1080.9 -1850.4 L1085.6 -1855.5 L1090.2 -1860.6 L1094.9 -1865.5 L1099.5 -1870.3 L1104.2 -1874.9 L1108.8 -1879.4 L1113.5 -1883.8 L1118.1 -1888.2 L1122.8 -1892.6 L1127.5 -1897.1 L1132.1 -1901.7 L1136.8 -1906.5 L1141.4 -1911.4 L1146.1 -1916.5 L1150.7 -1921.9 L1155.4 -1927.5 L1160 -1933.6 L1164.7 -1940 L1169.3 -1946.8 L1174 -1953.9 L1178.7 -1961.3 L1183.3 -1968.9 L1188 -1976.8 L1192.6 -1984.8 L1197.3 -1993 L1201.9 -2001.3 L1206.6 -2009.8 L1211.2 -2018.3 L1215.9 -2026.8 L1220.5 -2035.3 L1225.2 -2043.8 L1229.9 -2052.4 L1234.5 -2061.2 L1239.2 -2070.1 L1243.8 -2079.1 L1248.5 -2088.2 L1253.1 -2097.5 L1257.8 -2106.9 L1262.4 -2116.4 L1267.1 -2126 L1271.8 -2135.8 L1276.4 -2145.8 L1281.1 -2155.8 L1285.7 -2166 L1290.4 -2176.3 L1295 -2186.9 L1299.7 -2197.6 L1304.3 -2208.5 L1309 -2219.5 L1313.7 -2230.8 L1318.3 -2242.1 L1323 -2253.6M1499.8 -2856 L1504.5 -2863.4 L1509.2 -2864.4 L1513.8 -2864.4 L1518.5 -2864.4 L1523.1 -2864.4 L1527.8 -2864.4 L1532.4 -2864.4 L1537.1 -2864.4 L1541.7 -2864.4 L1546.4 -2864.4 L1551.1 -2864.4 L1555.7 -2864.4 L1560.4 -2864.4 L1565 -2864.4 L1569.7 -2864.4 L1574.3 -2864.4 L1579 -2864.4 L1583.6 -2864.4 L1588.3 -2864.4 L1593 -2864.4 L1597.6 -2864.4 L1602.3 -2864.4 L1606.9 -2864.4 L1613.9 -2864.4" stroke="#ED7D31" stroke-width="12" fill="none" stroke-linejoin="round" stroke-linecap="round"/>
<path d="M634 2821.7l6 6l-6 6l-6 -6zM658.5 2808l6 6l-6 6l-6 -6zM662 2781.8l6 6l-6 6l-6 -6zM670.7 2744.7l6 6l-6 6l-6 -6zM678.2 2640.9l6 6l-6 6l-6 -6zM685.8 2508l6 6l-6 6l-6 -6zM686.9 2308.4l6 6l-6 6l-6 -6zM698 2297l6 6l-6 6l-6 -6zM708.5 2285.6l6 6l-6 6l-6 -6zM721.3 2274.2l6 6l-6 6l-6 -6zM734.1 2259.9l6 6l-6 6l-6 -6zM746.9 2242.2l6 6l-6 6l-6 -6zM753.9 2224.5l6 6l-6 6l-6 -6zM764.4 2206.9l6 6l-6 6l-6 -6zM771.3 2188.6l6 6l-6 6l-6 -6zM783 2165.8l6 6l-6 6l-6 -6zM791.1 2143l6 6l-6 6l-6 -6zM799.3 2114.5l6 6l-6 6l-6 -6zM809.7 2085.9l6 6l-6 6l-6 -6zM816.7 2051.7l6 6l-6 6l-6 -6zM829.5 2011.8l6 6l-6 6l-6 -6zM838.8 1966.2l6 6l-6 6l-6 -6zM847 1914.8l6 6l-6 6l-6 -6zM856.3 1857.8l6 6l-6 6l-6 -6zM863.3 1789.4l6 6l-6 6l-6 -6zM877.2 1703.8l6 6l-6 6l-6 -6zM1824 1886.3l6 6l-6 6l-6 -6zM1833.8 2331.2l6 6l-6 6l-6 -6zM1843.7 2821.7l6 6l-6 6l-6 -6z" fill="#ED7D31" stroke="#ED7D31" stroke-width="1"/>
<path d="M266.3 2811.2 L270.9 2811.2 L275.6 2811.2 L280.2 2811.2 L284.9 2811.2 L289.6 2811.2 L294.2 2811.2 L298.9 2811.2 L303.5 2811.2 L308.2 2811.2 L312.8 2811.2 L317.5 2811.2 L322.1 2811.2 L326.8 2811.2 L331.4 2811.2 L336.1 2811.2 L340.8 2811.2 L345.4 2811.2 L350.1 2811.2 L354.7 2811.2 L359.4 2811.2 L364 2811.2 L368.7 2811.2 L373.3 2811.2 L378 2811.2 L382.6 2811.2 L387.3 2811.2 L392 2811.2 L396.6 2811.2 L401.3 2811.2 L405.9 2811.2 L410.6 2811.2 L415.2 2811.2 L419.9 2811.2 L424.5 2811.2 L429.2 2811.2 L433.9 2811.2 L438.5 2811.2 L443.2 2811.2 L447.8 2811.2 L452.5 2811.2 L457.1 2811.2 L461.8 2811.2 L466.4 2811.2 L471.1 2811.2 L475.8 2811.2 L480.4 2811.2 L485.1 2811.2 L489.7 2811.2 L494.4 2811.2 L499 2811.2 L503.7 2811.2 L508.3 2811.2 L513 2811.2 L517.6 2811.2 L522.3 2811.2 L527 2811.2 L531.6 2811.2 L536.3 2811.2 L540.9 2811.2 L545.6 2811.2 L550.2 2811.2 L554.9 2811.2 L559.5 2811.2 L564.2 2811.2 L568.9 2811.2 L573.5 2811.2 L578.2 2811.2 L582.8 2811.2 L587.5 2811.2 L592.1 2811.2 L596.8 2811.2 L601.4 2811.2 L606.1 2811.2 L610.7 2811.2 L615.4 2811.2 L620.1 2811.2 L624.7 2811.2 L629.4 2811.2 L634 2811.2 L638.7 2811.2 L643.3 2811.2 L648 2811.2 L652.6 2811.2 L657.3 2811.2 L662 2811.2 L666.6 2811.2 L671.3 2811.2 L675.9 2811.2 L680.6 2811.2 L685.2 2811.2 L689.9 2811.2 L694.5 2811.2 L699.2 2811.2 L703.8 2811.2 L708.5 2811.2 L713.2 2811.2 L717.8 2811.2 L722.5 2811.2 L727.1 2811.2 L731.8 2811.2 L736.4 2811.2 L741.1 2811.2 L745.7 2811.2 L750.4 2811.2 L755 2811.2 L759.7 2811.2 L764.4 2811.2 L769 2811.2 L773.7 2811.2 L778.3 2811.2 L783 2811.2 L787.6 2811.2 L792.3 2811.2 L796.9 2811.2 L801.6 2811.2 L806.3 2811.2 L810.9 2811.2 L815.6 2811.2 L820.2 2811.2 L824.9 2811.2 L829.5 2811.3 L834.2 2811.3 L838.8 2811.3 L843.5 2811.3 L848.1 2811.3 L852.8 2811.3 L857.5 2811.3 L862.1 2811.3 L866.8 2811.3 L871.4 2811.3 L876.1 2811.3 L880.7 2811.3 L885.4 2811.3 L890 2811.4 L894.7 2811.4 L899.4 2811.4 L904 2811.4 L908.7 2811.4 L913.3 2811.4 L918 2811.4 L922.6 2811.4 L927.3 2811.4 L931.9 2811.4 L936.6 2811.4 L941.2 2811.4 L945.9 2811.5 L950.6 2811.5 L955.2 2811.5 L959.9 2811.5 L964.5 2811.5 L969.2 2811.5 L973.8 2811.5 L978.5 2811.5 L983.1 2811.5 L987.8 2811.5 L992.5 2811.5 L997.1 2811.5 L1001.8 2811.6 L1006.4 2811.6 L1011.1 2811.6 L1015.7 2811.6 L1020.4 2811.6 L1025 2811.6 L1029.7 2811.6 L1034.3 2811.6 L1039 2811.6 L1043.7 2811.6 L1048.3 2811.6 L1053 2811.6 L1057.6 2811.6 L1062.3 2811.6 L1066.9 2811.7 L1071.6 2811.7 L1076.2 2811.7 L1080.9 2811.7 L1085.6 2811.7 L1090.2 2811.7 L1094.9 2811.7 L1099.5 2811.7 L1104.2 2811.7 L1108.8 2811.7 L1113.5 2811.7 L1118.1 2811.7 L1122.8 2811.7 L1127.5 2811.7 L1132.1 2811.7 L1136.8 2811.7 L1141.4 2811.7 L1146.1 2811.7 L1150.7 2811.7 L1155.4 2811.7 L1160 2811.7 L1164.7 2811.7 L1169.3 2811.7 L1174 2811.7 L1178.7 2811.7 L1183.3 2811.7 L1188 2811.7 L1192.6 2811.7 L1197.3 2811.7 L1201.9 2811.7 L1206.6 2811.7 L1211.2 2811.7 L1215.9 2811.7 L1220.5 2811.7 L1225.2 2811.7 L1229.9 2811.7 L1234.5 2811.7 L1239.2 2811.7 L1243.8 2811.7 L1248.5 2811.7 L1253.1 2811.7 L1257.8 2811.7 L1262.4 2811.7 L1267.1 2811.7 L1271.8 2811.7 L1276.4 2811.7 L1281.1 2811.7 L1285.7 2811.7 L1290.4 2811.7 L1295 2811.7 L1299.7 2811.7 L1304.3 2811.7 L1309 2811.7 L1313.7 2811.7 L1318.3 2811.7 L1323 2811.7 L1327.6 2811.7 L1332.3 2811.7 L1336.9 2811.7 L1341.6 2811.7 L1346.2 2811.7 L1350.9 2811.7 L1355.5 2811.7 L1360.2 2811.7 L1364.9 2811.7 L1369.5 2811.7 L1374.2 2811.7 L1378.8 2811.7 L1383.5 2811.7 L1388.1 2811.7 L1392.8 2811.7 L1397.4 2811.7 L1402.1 2811.7 L1406.8 2811.7 L1411.4 2811.7 L1416.1 2811.7 L1420.7 2811.7 L1425.4 2811.7 L1430 2811.7 L1434.7 2811.7 L1439.3 2811.7 L1444 2811.7 L1448.6 2811.7 L1453.3 2811.7 L1458 2811.7 L1462.6 2811.7 L1467.3 2811.7 L1471.9 2811.7 L1476.6 2811.7 L1481.2 2811.7 L1485.9 2811.7 L1490.5 2811.7 L1495.2 2811.7 L1499.8 2811.7 L1504.5 2811.7 L1509.2 2811.7 L1513.8 2811.7 L1518.5 2811.7 L1523.1 2811.7 L1527.8 2811.7 L1532.4 2811.7 L1537.1 2811.7 L1541.7 2811.7 L1546.4 2811.7 L1551.1 2811.7 L1555.7 2811.7 L1560.4 2811.7 L1565 2811.8 L1569.7 2811.8 L1574.3 2811.8 L1579 2811.8 L1583.6 2811.8 L1588.3 2811.8 L1593 2811.8 L1597.6 2811.8 L1602.3 2811.8 L1606.9 2811.8 L1611.6 2811.8 L1616.2 2811.8 L1620.9 2811.8 L1625.5 2811.9 L1630.2 2811.9 L1634.8 2811.9 L1639.5 2811.9 L1644.2 2811.9 L1648.8 2811.9 L1653.5 2811.9 L1658.1 2811.9 L1662.8 2811.9 L1667.4 2812 L1672.1 2812 L1676.7 2812 L1681.4 2812 L1686 2812 L1690.7 2812 L1695.4 2812 L1700 2812 L1704.7 2812 L1709.3 2812.1 L1714 2812.1 L1718.6 2812.1 L1723.3 2812.1 L1727.9 2812.1 L1732.6 2812.1 L1737.3 2812.1 L1741.9 2812.1 L1746.6 2812.2 L1751.2 2812.2 L1755.9 2812.2 L1760.5 2812.2 L1765.2 2812.2 L1769.8 2812.2 L1774.5 2812.2 L1779.2 2812.2 L1783.8 2812.3 L1788.5 2812.3 L1793.1 2812.3 L1797.8 2812.3 L1805.9 2812.3" stroke="#A5A5A5" stroke-width="3.8" fill="none" stroke-linejoin="round"/>
<path d="M266.3 2811.2 L270.9 2811.2 L275.6 2811.2 L280.2 2811.2 L284.9 2811.2 L289.6 2811.2 L294.2 2811.2 L298.9 2811.2 L303.5 2811.2 L308.2 2811.2 L312.8 2811.2 L317.5 2811.2 L322.1 2811.2 L326.8 2811.2 L331.4 2811.2 L336.1 2811.2 L340.8 2811.2 L345.4 2811.2 L350.1 2811.2 L354.7 2811.2 L359.4 2811.2 L364 2811.2 L368.7 2811.2 L373.3 2811.2 L378 2811.2 L382.6 2811.2 L387.3 2811.2 L392 2811.2 L396.6 2811.2 L401.3 2811.2 L405.9 2811.2 L410.6 2811.2 L415.2 2811.2 L419.9 2811.2 L424.5 2811.2 L429.2 2811.2 L433.9 2811.2 L438.5 2811.2 L443.2 2811.2 L447.8 2811.2 L452.5 2811.2 L457.1 2811.2 L461.8 2811.2 L466.4 2811.2 L471.1 2811.2 L475.8 2811.2 L480.4 2811.2 L485.1 2811.2 L489.7 2811.2 L494.4 2811.2 L499 2811.2 L503.7 2811.2 L508.3 2811.2 L513 2811.2 L517.6 2811.2 L522.3 2811.2 L527 2811.2 L531.6 2811.2 L536.3 2811.2 L540.9 2811.2 L545.6 2811.2 L550.2 2811.2 L554.9 2811.2 L559.5 2811.2 L564.2 2811.2 L568.9 2811.2 L573.5 2811.2 L578.2 2811.2 L582.8 2811.2 L587.5 2811.2 L592.1 2811.2 L596.8 2811.2 L601.4 2811.2 L606.1 2811.2 L610.7 2811.2 L615.4 2811.2 L620.1 2811.2 L624.7 2811.2 L629.4 2811.2 L634 2811.2 L638.7 2811.2 L643.3 2811.2 L648 2811.2 L652.6 2811.2 L657.3 2811.2 L662 2811.2 L666.6 2811.2 L671.3 2811.2 L675.9 2811.2 L680.6 2811.2 L685.2 2811.2 L689.9 2811.2 L694.5 2811.2 L699.2 2811.2 L703.8 2811.2 L708.5 2811.2 L713.2 2811.2 L717.8 2811.2 L722.5 2811.2 L727.1 2811.2 L731.8 2811.2 L736.4 2811.2 L741.1 2811.2 L745.7 2811.2 L750.4 2811.2 L755 2811.2 L759.7 2811.2 L764.4 2811.2 L769 2811.2 L773.7 2811.2 L778.3 2811.2 L783 2811.2 L787.6 2811.2 L792.3 2811.2 L796.9 2811.2 L801.6 2811.2 L806.3 2811.2 L810.9 2811.2 L815.6 2811.2 L820.2 2811.2 L824.9 2811.2 L829.5 2811.3 L834.2 2811.3 L838.8 2811.3 L843.5 2811.3 L848.1 2811.3 L852.8 2811.3 L857.5 2811.3 L862.1 2811.3 L866.8 2811.3 L871.4 2811.3 L876.1 2811.3 L880.7 2811.3 L885.4 2811.3 L890 2811.4 L894.7 2811.4 L899.4 2811.4 L904 2811.4 L908.7 2811.4 L913.3 2811.4 L918 2811.4 L922.6 2811.4 L927.3 2811.4 L931.9 2811.4 L936.6 2811.4 L941.2 2811.4 L945.9 2811.5 L950.6 2811.5 L955.2 2811.5 L959.9 2811.5 L964.5 2811.5 L969.2 2811.5 L973.8 2811.5 L978.5 2811.5 L983.1 2811.5 L987.8 2811.5 L992.5 2811.5 L997.1 2811.5 L1001.8 2811.6 L1006.4 2811.6 L1011.1 2811.6 L1015.7 2811.6 L1020.4 2811.6 L1025 2811.6 L1029.7 2811.6 L1034.3 2811.6 L1039 2811.6 L1043.7 2811.6 L1048.3 2811.6 L1053 2811.6 L1057.6 2811.6 L1062.3 2811.6 L1066.9 2811.7 L1071.6 2811.7 L1076.2 2811.7 L1080.9 2811.7 L1085.6 2811.7 L1090.2 2811.7 L1094.9 2811.7 L1099.5 2811.7 L1104.2 2811.7 L1108.8 2811.7 L1113.5 2811.7 L1118.1 2811.7 L1122.8 2811.7 L1127.5 2811.7 L1132.1 2811.7 L1136.8 2811.7 L1141.4 2811.7 L1146.1 2811.7 L1150.7 2811.7 L1155.4 2811.7 L1160 2811.7 L1164.7 2811.7 L1169.3 2811.7 L1174 2811.7 L1178.7 2811.7 L1183.3 2811.7 L1188 2811.7 L1192.6 2811.7 L1197.3 2811.7 L1201.9 2811.7 L1206.6 2811.7 L1211.2 2811.7 L1215.9 2811.7 L1220.5 2811.7 L1225.2 2811.7 L1229.9 2811.7 L1234.5 2811.7 L1239.2 2811.7 L1243.8 2811.7 L1248.5 2811.7 L1253.1 2811.7 L1257.8 2811.7 L1262.4 2811.7 L1267.1 2811.7 L1271.8 2811.7 L1276.4 2811.7 L1281.1 2811.7 L1285.7 2811.7 L1290.4 2811.7 L1295 2811.7 L1299.7 2811.7 L1304.3 2811.7 L1309 2811.7 L1313.7 2811.7 L1318.3 2811.7 L1323 2811.7 L1327.6 2811.7 L1332.3 2811.7 L1336.9 2811.7 L1341.6 2811.7 L1346.2 2811.7 L1350.9 2811.7 L1355.5 2811.7 L1360.2 2811.7 L1364.9 2811.7 L1369.5 2811.7 L1374.2 2811.7 L1378.8 2811.7 L1383.5 2811.7 L1388.1 2811.7 L1392.8 2811.7 L1397.4 2811.7 L1402.1 2811.7 L1406.8 2811.7 L1411.4 2811.7 L1416.1 2811.7 L1420.7 2811.7 L1425.4 2811.7 L1430 2811.7 L1434.7 2811.7 L1439.3 2811.7 L1444 2811.7 L1448.6 2811.7 L1453.3 2811.7 L1458 2811.7 L1462.6 2811.7 L1467.3 2811.7 L1471.9 2811.7 L1476.6 2811.7 L1481.2 2811.7 L1485.9 2811.7 L1490.5 2811.7 L1495.2 2811.7 L1499.8 2811.7 L1504.5 2811.7 L1509.2 2811.7 L1513.8 2811.7 L1518.5 2811.7 L1523.1 2811.7 L1527.8 2811.7 L1532.4 2811.7 L1537.1 2811.7 L1541.7 2811.7 L1546.4 2811.7 L1551.1 2811.7 L1555.7 2811.7 L1560.4 2811.7 L1565 2811.8 L1569.7 2811.8 L1574.3 2811.8 L1579 2811.8 L1583.6 2811.8 L1588.3 2811.8 L1593 2811.8 L1597.6 2811.8 L1602.3 2811.8 L1606.9 2811.8 L1611.6 2811.8 L1616.2 2811.8 L1620.9 2811.8 L1625.5 2811.9 L1630.2 2811.9 L1634.8 2811.9 L1639.5 2811.9 L1644.2 2811.9 L1648.8 2811.9 L1653.5 2811.9 L1658.1 2811.9 L1662.8 2811.9 L1667.4 2812 L1672.1 2812 L1676.7 2812 L1681.4 2812 L1686 2812 L1690.7 2812 L1695.4 2812 L1700 2812 L1704.7 2812 L1709.3 2812.1 L1714 2812.1 L1718.6 2812.1 L1723.3 2812.1 L1727.9 2812.1 L1732.6 2812.1 L1737.3 2812.1 L1741.9 2812.1 L1746.6 2812.2 L1751.2 2812.2 L1755.9 2812.2 L1760.5 2812.2 L1765.2 2812.2 L1769.8 2812.2 L1774.5 2812.2 L1779.2 2812.2 L1783.8 2812.3 L1788.5 2812.3 L1793.1 2812.3 L1797.8 2812.3 L1805.9 2812.3" stroke="#A5A5A5" stroke-width="12" fill="none" stroke-linejoin="round" stroke-linecap="round"/>
<path d="M266.3 2805.2l6 6l-6 6l-6 -6zM270.9 2805.2l6 6l-6 6l-6 -6zM275.6 2805.2l6 6l-6 6l-6 -6zM280.2 2805.2l6 6l-6 6l-6 -6zM284.9 2805.2l6 6l-6 6l-6 -6zM289.6 2805.2l6 6l-6 6l-6 -6zM294.2 2805.2l6 6l-6 6l-6 -6zM298.9 2805.2l6 6l-6 6l-6 -6zM303.5 2805.2l6 6l-6 6l-6 -6zM308.2 2805.2l6 6l-6 6l-6 -6zM312.8 2805.2l6 6l-6 6l-6 -6zM317.5 2805.2l6 6l-6 6l-6 -6zM322.1 2805.2l6 6l-6 6l-6 -6zM326.8 2805.2l6 6l-6 6l-6 -6zM331.4 2805.2l6 6l-6 6l-6 -6zM336.1 2805.2l6 6l-6 6l-6 -6zM340.8 2805.2l6 6l-6 6l-6 -6zM345.4 2805.2l6 6l-6 6l-6 -6zM350.1 2805.2l6 6l-6 6l-6 -6zM354.7 2805.2l6 6l-6 6l-6 -6zM359.4 2805.2l6 6l-6 6l-6 -6zM364 2805.2l6 6l-6 6l-6 -6zM368.7 2805.2l6 6l-6 6l-6 -6zM373.3 2805.2l6 6l-6 6l-6 -6zM378 2805.2l6 6l-6 6l-6 -6zM382.6 2805.2l6 6l-6 6l-6 -6zM387.3 2805.2l6 6l-6 6l-6 -6zM392 2805.2l6 6l-6 6l-6 -6zM396.6 2805.2l6 6l-6 6l-6 -6zM401.3 2805.2l6 6l-6 6l-6 -6zM405.9 2805.2l6 6l-6 6l-6 -6zM410.6 2805.2l6 6l-6 6l-6 -6zM415.2 2805.2l6 6l-6 6l-6 -6zM419.9 2805.2l6 6l-6 6l-6 -6zM424.5 2805.2l6 6l-6 6l-6 -6zM429.2 2805.2l6 6l-6 6l-6 -6zM433.9 2805.2l6 6l-6 6l-6 -6zM438.5 2805.2l6 6l-6 6l-6 -6zM443.2 2805.2l6 6l-6 6l-6 -6zM447.8 2805.2l6 6l-6 6l-6 -6zM452.5 2805.2l6 6l-6 6l-6 -6zM457.1 2805.2l6 6l-6 6l-6 -6zM461.8 2805.2l6 6l-6 6l-6 -6zM466.4 2805.2l6 6l-6 6l-6 -6zM471.1 2805.2l6 6l-6 6l-6 -6zM475.8 2805.2l6 6l-6 6l-6 -6zM480.4 2805.2l6 6l-6 6l-6 -6zM485.1 2805.2l6 6l-6 6l-6 -6zM489.7 2805.2l6 6l-6 6l-6 -6zM494.4 2805.2l6 6l-6 6l-6 -6zM499 2805.2l6 6l-6 6l-6 -6zM503.7 2805.2l6 6l-6 6l-6 -6zM508.3 2805.2l6 6l-6 6l-6 -6zM513 2805.2l6 6l-6 6l-6 -6zM517.6 2805.2l6 6l-6 6l-6 -6zM522.3 2805.2l6 6l-6 6l-6 -6zM527 2805.2l6 6l-6 6l-6 -6zM531.6 2805.2l6 6l-6 6l-6 -6zM536.3 2805.2l6 6l-6 6l-6 -6zM540.9 2805.2l6 6l-6 6l-6 -6zM545.6 2805.2l6 6l-6 6l-6 -6zM550.2 2805.2l6 6l-6 6l-6 -6zM554.9 2805.2l6 6l-6 6l-6 -6zM559.5 2805.2l6 6l-6 6l-6 -6zM564.2 2805.2l6 6l-6 6l-6 -6zM568.9 2805.2l6 6l-6 6l-6 -6zM573.5 2805.2l6 6l-6 6l-6 -6zM578.2 2805.2l6 6l-6 6l-6 -6zM582.8 2805.2l6 6l-6 6l-6 -6zM587.5 2805.2l6 6l-6 6l-6 -6zM592.1 2805.2l6 6l-6 6l-6 -6zM596.8 2805.2l6 6l-6 6l-6 -6zM601.4 2805.2l6 6l-6 6l-6 -6zM606.1 2805.2l6 6l-6 6l-6 -6zM610.7 2805.2l6 6l-6 6l-6 -6zM615.4 2805.2l6 6l-6 6l-6 -6zM620.1 2805.2l6 6l-6 6l-6 -6zM624.7 2805.2l6 6l-6 6l-6 -6zM629.4 2805.2l6 6l-6 6l-6 -6zM634 2805.2l6 6l-6 6l-6 -6zM638.7 2805.2l6 6l-6 6l-6 -6zM643.3 2805.2l6 6l-6 6l-6 -6zM648 2805.2l6 6l-6 6l-6 -6zM652.6 2805.2l6 6l-6 6l-6 -6zM657.3 2805.2l6 6l-6 6l-6 -6zM662 2805.2l6 6l-6 6l-6 -6zM666.6 2805.2l6 6l-6 6l-6 -6zM671.3 2805.2l6 6l-6 6l-6 -6zM675.9 2805.2l6 6l-6 6l-6 -6zM680.6 2805.2l6 6l-6 6l-6 -6zM685.2 2805.2l6 6l-6 6l-6 -6zM689.9 2805.2l6 6l-6 6l-6 -6zM694.5 2805.2l6 6l-6 6l-6 -6zM699.2 2805.2l6 6l-6 6l-6 -6zM703.8 2805.2l6 6l-6 6l-6 -6zM708.5 2805.2l6 6l-6 6l-6 -6zM713.2 2805.2l6 6l-6 6l-6 -6zM717.8 2805.2l6 6l-6 6l-6 -6zM722.5 2805.2l6 6l-6 6l-6 -6zM727.1 2805.2l6 6l-6 6l-6 -6zM731.8 2805.2l6 6l-6 6l-6 -6zM736.4 2805.2l6 6l-6 6l-6 -6zM741.1 2805.2l6 6l-6 6l-6 -6zM745.7 2805.2l6 6l-6 6l-6 -6zM750.4 2805.2l6 6l-6 6l-6 -6zM755 2805.2l6 6l-6 6l-6 -6zM759.7 2805.2l6 6l-6 6l-6 -6zM764.4 2805.2l6 6l-6 6l-6 -6zM769 2805.2l6 6l-6 6l-6 -6zM773.7 2805.2l6 6l-6 6l-6 -6zM778.3 2805.2l6 6l-6 6l-6 -6zM783 2805.2l6 6l-6 6l-6 -6zM787.6 2805.2l6 6l-6 6l-6 -6zM792.3 2805.2l6 6l-6 6l-6 -6zM796.9 2805.2l6 6l-6 6l-6 -6zM801.6 2805.2l6 6l-6 6l-6 -6zM806.3 2805.2l6 6l-6 6l-6 -6zM810.9 2805.2l6 6l-6 6l-6 -6zM815.6 2805.2l6 6l-6 6l-6 -6zM820.2 2805.2l6 6l-6 6l-6 -6zM824.9 2805.2l6 6l-6 6l-6 -6zM829.5 2805.3l6 6l-6 6l-6 -6zM834.2 2805.3l6 6l-6 6l-6 -6zM838.8 2805.3l6 6l-6 6l-6 -6zM843.5 2805.3l6 6l-6 6l-6 -6zM848.1 2805.3l6 6l-6 6l-6 -6zM852.8 2805.3l6 6l-6 6l-6 -6zM857.5 2805.3l6 6l-6 6l-6 -6zM862.1 2805.3l6 6l-6 6l-6 -6zM866.8 2805.3l6 6l-6 6l-6 -6zM871.4 2805.3l6 6l-6 6l-6 -6zM876.1 2805.3l6 6l-6 6l-6 -6zM880.7 2805.3l6 6l-6 6l-6 -6zM885.4 2805.3l6 6l-6 6l-6 -6zM890 2805.4l6 6l-6 6l-6 -6zM894.7 2805.4l6 6l-6 6l-6 -6zM899.4 2805.4l6 6l-6 6l-6 -6zM904 2805.4l6 6l-6 6l-6 -6zM908.7 2805.4l6 6l-6 6l-6 -6zM913.3 2805.4l6 6l-6 6l-6 -6zM918 2805.4l6 6l-6 6l-6 -6zM922.6 2805.4l6 6l-6 6l-6 -6zM927.3 2805.4l6 6l-6 6l-6 -6zM931.9 2805.4l6 6l-6 6l-6 -6zM936.6 2805.4l6 6l-6 6l-6 -6zM941.2 2805.4l6 6l-6 6l-6 -6zM945.9 2805.5l6 6l-6 6l-6 -6zM950.6 2805.5l6 6l-6 6l-6 -6zM955.2 2805.5l6 6l-6 6l-6 -6zM959.9 2805.5l6 6l-6 6l-6 -6zM964.5 2805.5l6 6l-6 6l-6 -6zM969.2 2805.5l6 6l-6 6l-6 -6zM973.8 2805.5l6 6l-6 6l-6 -6zM978.5 2805.5l6 6l-6 6l-6 -6zM983.1 2805.5l6 6l-6 6l-6 -6zM987.8 2805.5l6 6l-6 6l-6 -6zM992.5 2805.5l6 6l-6 6l-6 -6zM997.1 2805.5l6 6l-6 6l-6 -6zM1001.8 2805.6l6 6l-6 6l-6 -6zM1006.4 2805.6l6 6l-6 6l-6 -6zM1011.1 2805.6l6 6l-6 6l-6 -6zM1015.7 2805.6l6 6l-6 6l-6 -6zM1020.4 2805.6l6 6l-6 6l-6 -6zM1025 2805.6l6 6l-6 6l-6 -6zM1029.7 2805.6l6 6l-6 6l-6 -6zM1034.3 2805.6l6 6l-6 6l-6 -6zM1039 2805.6l6 6l-6 6l-6 -6zM1043.7 2805.6l6 6l-6 6l-6 -6zM1048.3 2805.6l6 6l-6 6l-6 -6zM1053 2805.6l6 6l-6 6l-6 -6zM1057.6 2805.6l6 6l-6 6l-6 -6zM1062.3 2805.6l6 6l-6 6l-6 -6zM1066.9 2805.7l6 6l-6 6l-6 -6zM1071.6 2805.7l6 6l-6 6l-6 -6zM1076.2 2805.7l6 6l-6 6l-6 -6zM1080.9 2805.7l6 6l-6 6l-6 -6zM1085.6 2805.7l6 6l-6 6l-6 -6zM1090.2 2805.7l6 6l-6 6l-6 -6zM1094.9 2805.7l6 6l-6 6l-6 -6zM1099.5 2805.7l6 6l-6 6l-6 -6zM1104.2 2805.7l6 6l-6 6l-6 -6zM1108.8 2805.7l6 6l-6 6l-6 -6zM1113.5 2805.7l6 6l-6 6l-6 -6zM1118.1 2805.7l6 6l-6 6l-6 -6zM1122.8 2805.7l6 6l-6 6l-6 -6zM1127.5 2805.7l6 6l-6 6l-6 -6zM1132.1 2805.7l6 6l-6 6l-6 -6zM1136.8 2805.7l6 6l-6 6l-6 -6zM1141.4 2805.7l6 6l-6 6l-6 -6zM1146.1 2805.7l6 6l-6 6l-6 -6zM1150.7 2805.7l6 6l-6 6l-6 -6zM1155.4 2805.7l6 6l-6 6l-6 -6zM1160 2805.7l6 6l-6 6l-6 -6zM1164.7 2805.7l6 6l-6 6l-6 -6zM1169.3 2805.7l6 6l-6 6l-6 -6zM1174 2805.7l6 6l-6 6l-6 -6zM1178.7 2805.7l6 6l-6 6l-6 -6zM1183.3 2805.7l6 6l-6 6l-6 -6zM1188 2805.7l6 6l-6 6l-6 -6zM1192.6 2805.7l6 6l-6 6l-6 -6zM1197.3 2805.7l6 6l-6 6l-6 -6zM1201.9 2805.7l6 6l-6 6l-6 -6zM1206.6 2805.7l6 6l-6 6l-6 -6zM1211.2 2805.7l6 6l-6 6l-6 -6zM1215.9 2805.7l6 6l-6 6l-6 -6zM1220.5 2805.7l6 6l-6 6l-6 -6zM1225.2 2805.7l6 6l-6 6l-6 -6zM1229.9 2805.7l6 6l-6 6l-6 -6zM1234.5 2805.7l6 6l-6 6l-6 -6zM1239.2 2805.7l6 6l-6 6l-6 -6zM1243.8 2805.7l6 6l-6 6l-6 -6zM1248.5 2805.7l6 6l-6 6l-6 -6zM1253.1 2805.7l6 6l-6 6l-6 -6zM1257.8 2805.7l6 6l-6 6l-6 -6zM1262.4 2805.7l6 6l-6 6l-6 -6zM1267.1 2805.7l6 6l-6 6l-6 -6zM1271.8 2805.7l6 6l-6 6l-6 -6zM1276.4 2805.7l6 6l-6 6l-6 -6zM1281.1 2805.7l6 6l-6 6l-6 -6zM1285.7 2805.7l6 6l-6 6l-6 -6zM1290.4 2805.7l6 6l-6 6l-6 -6zM1295 2805.7l6 6l-6 6l-6 -6zM1299.7 2805.7l6 6l-6 6l-6 -6zM1304.3 2805.7l6 6l-6 6l-6 -6zM1309 2805.7l6 6l-6 6l-6 -6zM1313.7 2805.7l6 6l-6 6l-6 -6zM1318.3 2805.7l6 6l-6 6l-6 -6zM1323 2805.7l6 6l-6 6l-6 -6zM1327.6 2805.7l6 6l-6 6l-6 -6zM1332.3 2805.7l6 6l-6 6l-6 -6zM1336.9 2805.7l6 6l-6 6l-6 -6zM1341.6 2805.7l6 6l-6 6l-6 -6zM1346.2 2805.7l6 6l-6 6l-6 -6zM1350.9 2805.7l6 6l-6 6l-6 -6zM1355.5 2805.7l6 6l-6 6l-6 -6zM1360.2 2805.7l6 6l-6 6l-6 -6zM1364.9 2805.7l6 6l-6 6l-6 -6zM1369.5 2805.7l6 6l-6 6l-6 -6zM1374.2 2805.7l6 6l-6 6l-6 -6zM1378.8 2805.7l6 6l-6 6l-6 -6zM1383.5 2805.7l6 6l-6 6l-6 -6zM1388.1 2805.7l6 6l-6 6l-6 -6zM1392.8 2805.7l6 6l-6 6l-6 -6zM1397.4 2805.7l6 6l-6 6l-6 -6zM1402.1 2805.7l6 6l-6 6l-6 -6zM1406.8 2805.7l6 6l-6 6l-6 -6zM1411.4 2805.7l6 6l-6 6l-6 -6zM1416.1 2805.7l6 6l-6 6l-6 -6zM1420.7 2805.7l6 6l-6 6l-6 -6zM1425.4 2805.7l6 6l-6 6l-6 -6zM1430 2805.7l6 6l-6 6l-6 -6zM1434.7 2805.7l6 6l-6 6l-6 -6zM1439.3 2805.7l6 6l-6 6l-6 -6zM1444 2805.7l6 6l-6 6l-6 -6zM1448.6 2805.7l6 6l-6 6l-6 -6zM1453.3 2805.7l6 6l-6 6l-6 -6zM1458 2805.7l6 6l-6 6l-6 -6zM1462.6 2805.7l6 6l-6 6l-6 -6zM1467.3 2805.7l6 6l-6 6l-6 -6zM1471.9 2805.7l6 6l-6 6l-6 -6zM1476.6 2805.7l6 6l-6 6l-6 -6zM1481.2 2805.7l6 6l-6 6l-6 -6zM1485.9 2805.7l6 6l-6 6l-6 -6zM1490.5 2805.7l6 6l-6 6l-6 -6zM1495.2 2805.7l6 6l-6 6l-6 -6zM1499.8 2805.7l6 6l-6 6l-6 -6zM1504.5 2805.7l6 6l-6 6l-6 -6zM1509.2 2805.7l6 6l-6 6l-6 -6zM1513.8 2805.7l6 6l-6 6l-6 -6zM1518.5 2805.7l6 6l-6 6l-6 -6zM1523.1 2805.7l6 6l-6 6l-6 -6zM1527.8 2805.7l6 6l-6 6l-6 -6zM1532.4 2805.7l6 6l-6 6l-6 -6zM1537.1 2805.7l6 6l-6 6l-6 -6zM1541.7 2805.7l6 6l-6 6l-6 -6zM1546.4 2805.7l6 6l-6 6l-6 -6zM1551.1 2805.7l6 6l-6 6l-6 -6zM1555.7 2805.7l6 6l-6 6l-6 -6zM1560.4 2805.7l6 6l-6 6l-6 -6zM1565 2805.8l6 6l-6 6l-6 -6zM1569.7 2805.8l6 6l-6 6l-6 -6zM1574.3 2805.8l6 6l-6 6l-6 -6zM1579 2805.8l6 6l-6 6l-6 -6zM1583.6 2805.8l6 6l-6 6l-6 -6zM1588.3 2805.8l6 6l-6 6l-6 -6zM1593 2805.8l6 6l-6 6l-6 -6zM1597.6 2805.8l6 6l-6 6l-6 -6zM1602.3 2805.8l6 6l-6 6l-6 -6zM1606.9 2805.8l6 6l-6 6l-6 -6zM1611.6 2805.8l6 6l-6 6l-6 -6zM1616.2 2805.8l6 6l-6 6l-6 -6zM1620.9 2805.8l6 6l-6 6l-6 -6zM1625.5 2805.9l6 6l-6 6l-6 -6zM1630.2 2805.9l6 6l-6 6l-6 -6zM1634.8 2805.9l6 6l-6 6l-6 -6zM1639.5 2805.9l6 6l-6 6l-6 -6zM1644.2 2805.9l6 6l-6 6l-6 -6zM1648.8 2805.9l6 6l-6 6l-6 -6zM1653.5 2805.9l6 6l-6 6l-6 -6zM1658.1 2805.9l6 6l-6 6l-6 -6zM1662.8 2805.9l6 6l-6 6l-6 -6zM1667.4 2806l6 6l-6 6l-6 -6zM1672.1 2806l6 6l-6 6l-6 -6zM1676.7 2806l6 6l-6 6l-6 -6zM1681.4 2806l6 6l-6 6l-6 -6zM1686 2806l6 6l-6 6l-6 -6zM1690.7 2806l6 6l-6 6l-6 -6zM1695.4 2806l6 6l-6 6l-6 -6zM1700 2806l6 6l-6 6l-6 -6zM1704.7 2806l6 6l-6 6l-6 -6zM1709.3 2806.1l6 6l-6 6l-6 -6zM1714 2806.1l6 6l-6 6l-6 -6zM1718.6 2806.1l6 6l-6 6l-6 -6zM1723.3 2806.1l6 6l-6 6l-6 -6zM1727.9 2806.1l6 6l-6 6l-6 -6zM1732.6 2806.1l6 6l-6 6l-6 -6zM1737.3 2806.1l6 6l-6 6l-6 -6zM1741.9 2806.1l6 6l-6 6l-6 -6zM1746.6 2806.2l6 6l-6 6l-6 -6zM1751.2 2806.2l6 6l-6 6l-6 -6zM1755.9 2806.2l6 6l-6 6l-6 -6zM1760.5 2806.2l6 6l-6 6l-6 -6zM1765.2 2806.2l6 6l-6 6l-6 -6zM1769.8 2806.2l6 6l-6 6l-6 -6zM1774.5 2806.2l6 6l-6 6l-6 -6zM1779.2 2806.2l6 6l-6 6l-6 -6zM1783.8 2806.3l6 6l-6 6l-6 -6zM1788.5 2806.3l6 6l-6 6l-6 -6zM1793.1 2806.3l6 6l-6 6l-6 -6zM1797.8 2806.3l6 6l-6 6l-6 -6zM1805.9 2806.3l6 6l-6 6l-6 -6z" fill="#A5A5A5" stroke="#A5A5A5" stroke-width="1"/>
<path d="M266.3 2195.8 L270.9 2196 L275.6 2196.2 L280.2 2196.4 L284.9 2196.6 L289.6 2196.8 L294.2 2197 L298.9 2197.2 L303.5 2197.4 L308.2 2197.6 L312.8 2197.9 L317.5 2198.1 L322.1 2198.4 L326.8 2198.7 L331.4 2199 L336.1 2199.3 L340.8 2199.7 L345.4 2200.1 L350.1 2200.5 L354.7 2201 L359.4 2201.5 L364 2202 L368.7 2202.6 L373.3 2203.2 L378 2204 L382.6 2204.8 L387.3 2205.7 L392 2206.7 L396.6 2207.8 L401.3 2208.9 L405.9 2210.1 L410.6 2211.4 L415.2 2212.8 L419.9 2214.4 L424.5 2216.2 L429.2 2218.1 L433.9 2220.2 L438.5 2222.3 L443.2 2224.5 L447.8 2226.7 L452.5 2228.9 L457.1 2231 L461.8 2233.2 L466.4 2235.4 L471.1 2237.6 L475.8 2240 L480.4 2242.4 L485.1 2244.9 L489.7 2247.5 L494.4 2250.3 L499 2253.1 L503.7 2256.1 L508.3 2259.1 L513 2262.1 L517.6 2265.3 L522.3 2268.5 L527 2271.9 L531.6 2275.2 L536.3 2278.6 L540.9 2281.9 L545.6 2285.1 L550.2 2288.3 L554.9 2291.4 L559.5 2294.6 L564.2 2297.8 L568.9 2301 L573.5 2304.3 L578.2 2307.5 L582.8 2310.8 L587.5 2314.1 L592.1 2317.5 L596.8 2320.9 L601.4 2324.4 L606.1 2327.8 L610.7 2331.2 L615.4 2334.7 L620.1 2338.4 L624.7 2342.5 L629.4 2346.8 L634 2351.5 L638.7 2356.6 L643.3 2362.5 L648 2369.2 L652.6 2377.7 L657.3 2388 L662 2400.4 L666.6 2416.5 L671.3 2439.9 L675.9 2479.8 L679.8 2514 L682.3 2576.7 L685.8 2639.5 L688.1 2827.7" stroke="#FFC000" stroke-width="3.8" fill="none" stroke-linejoin="round"/>
<path d="M266.3 2195.8 L270.9 2196 L275.6 2196.2 L280.2 2196.4 L284.9 2196.6 L289.6 2196.8 L294.2 2197 L298.9 2197.2 L303.5 2197.4 L308.2 2197.6 L312.8 2197.9 L317.5 2198.1 L322.1 2198.4 L326.8 2198.7 L331.4 2199 L336.1 2199.3 L340.8 2199.7 L345.4 2200.1 L350.1 2200.5 L354.7 2201 L359.4 2201.5 L364 2202 L368.7 2202.6 L373.3 2203.2 L378 2204 L382.6 2204.8 L387.3 2205.7 L392 2206.7 L396.6 2207.8 L401.3 2208.9 L405.9 2210.1 L410.6 2211.4 L415.2 2212.8 L419.9 2214.4 L424.5 2216.2 L429.2 2218.1 L433.9 2220.2 L438.5 2222.3 L443.2 2224.5 L447.8 2226.7 L452.5 2228.9 L457.1 2231 L461.8 2233.2 L466.4 2235.4 L471.1 2237.6 L475.8 2240 L480.4 2242.4 L485.1 2244.9 L489.7 2247.5 L494.4 2250.3 L499 2253.1 L503.7 2256.1 L508.3 2259.1 L513 2262.1 L517.6 2265.3 L522.3 2268.5 L527 2271.9 L531.6 2275.2 L536.3 2278.6 L540.9 2281.9 L545.6 2285.1 L550.2 2288.3 L554.9 2291.4 L559.5 2294.6 L564.2 2297.8 L568.9 2301 L573.5 2304.3 L578.2 2307.5 L582.8 2310.8 L587.5 2314.1 L592.1 2317.5 L596.8 2320.9 L601.4 2324.4 L606.1 2327.8 L610.7 2331.2 L615.4 2334.7 L620.1 2338.4 L624.7 2342.5 L629.4 2346.8 L634 2351.5 L638.7 2356.6 L643.3 2362.5 L648 2369.2 L652.6 2377.7 L657.3 2388" stroke="#FFC000" stroke-width="12" fill="none" stroke-linejoin="round" stroke-linecap="round"/>
<path d="M266.3 2189.8l6 6l-6 6l-6 -6zM270.9 2190l6 6l-6 6l-6 -6zM275.6 2190.2l6 6l-6 6l-6 -6zM280.2 2190.4l6 6l-6 6l-6 -6zM284.9 2190.6l6 6l-6 6l-6 -6zM289.6 2190.8l6 6l-6 6l-6 -6zM294.2 2191l6 6l-6 6l-6 -6zM298.9 2191.2l6 6l-6 6l-6 -6zM303.5 2191.4l6 6l-6 6l-6 -6zM308.2 2191.6l6 6l-6 6l-6 -6zM312.8 2191.9l6 6l-6 6l-6 -6zM317.5 2192.1l6 6l-6 6l-6 -6zM322.1 2192.4l6 6l-6 6l-6 -6zM326.8 2192.7l6 6l-6 6l-6 -6zM331.4 2193l6 6l-6 6l-6 -6zM336.1 2193.3l6 6l-6 6l-6 -6zM340.8 2193.7l6 6l-6 6l-6 -6zM345.4 2194.1l6 6l-6 6l-6 -6zM350.1 2194.5l6 6l-6 6l-6 -6zM354.7 2195l6 6l-6 6l-6 -6zM359.4 2195.5l6 6l-6 6l-6 -6zM364 2196l6 6l-6 6l-6 -6zM368.7 2196.6l6 6l-6 6l-6 -6zM373.3 2197.2l6 6l-6 6l-6 -6zM378 2198l6 6l-6 6l-6 -6zM382.6 2198.8l6 6l-6 6l-6 -6zM387.3 2199.7l6 6l-6 6l-6 -6zM392 2200.7l6 6l-6 6l-6 -6zM396.6 2201.8l6 6l-6 6l-6 -6zM401.3 2202.9l6 6l-6 6l-6 -6zM405.9 2204.1l6 6l-6 6l-6 -6zM410.6 2205.4l6 6l-6 6l-6 -6zM415.2 2206.8l6 6l-6 6l-6 -6zM419.9 2208.4l6 6l-6 6l-6 -6zM424.5 2210.2l6 6l-6 6l-6 -6zM429.2 2212.1l6 6l-6 6l-6 -6zM433.9 2214.2l6 6l-6 6l-6 -6zM438.5 2216.3l6 6l-6 6l-6 -6zM443.2 2218.5l6 6l-6 6l-6 -6zM447.8 2220.7l6 6l-6 6l-6 -6zM452.5 2222.9l6 6l-6 6l-6 -6zM457.1 2225l6 6l-6 6l-6 -6zM461.8 2227.2l6 6l-6 6l-6 -6zM466.4 2229.4l6 6l-6 6l-6 -6zM471.1 2231.6l6 6l-6 6l-6 -6zM475.8 2234l6 6l-6 6l-6 -6zM480.4 2236.4l6 6l-6 6l-6 -6zM485.1 2238.9l6 6l-6 6l-6 -6zM489.7 2241.5l6 6l-6 6l-6 -6zM494.4 2244.3l6 6l-6 6l-6 -6zM499 2247.1l6 6l-6 6l-6 -6zM503.7 2250.1l6 6l-6 6l-6 -6zM508.3 2253.1l6 6l-6 6l-6 -6zM513 2256.1l6 6l-6 6l-6 -6zM517.6 2259.3l6 6l-6 6l-6 -6zM522.3 2262.5l6 6l-6 6l-6 -6zM527 2265.9l6 6l-6 6l-6 -6zM531.6 2269.2l6 6l-6 6l-6 -6zM536.3 2272.6l6 6l-6 6l-6 -6zM540.9 2275.9l6 6l-6 6l-6 -6zM545.6 2279.1l6 6l-6 6l-6 -6zM550.2 2282.3l6 6l-6 6l-6 -6zM554.9 2285.4l6 6l-6 6l-6 -6zM559.5 2288.6l6 6l-6 6l-6 -6zM564.2 2291.8l6 6l-6 6l-6 -6zM568.9 2295l6 6l-6 6l-6 -6zM573.5 2298.3l6 6l-6 6l-6 -6zM578.2 2301.5l6 6l-6 6l-6 -6zM582.8 2304.8l6 6l-6 6l-6 -6zM587.5 2308.1l6 6l-6 6l-6 -6zM592.1 2311.5l6 6l-6 6l-6 -6zM596.8 2314.9l6 6l-6 6l-6 -6zM601.4 2318.4l6 6l-6 6l-6 -6zM606.1 2321.8l6 6l-6 6l-6 -6zM610.7 2325.2l6 6l-6 6l-6 -6zM615.4 2328.7l6 6l-6 6l-6 -6zM620.1 2332.4l6 6l-6 6l-6 -6zM624.7 2336.5l6 6l-6 6l-6 -6zM629.4 2340.8l6 6l-6 6l-6 -6zM634 2345.5l6 6l-6 6l-6 -6zM638.7 2350.6l6 6l-6 6l-6 -6zM643.3 2356.5l6 6l-6 6l-6 -6zM648 2363.2l6 6l-6 6l-6 -6zM652.6 2371.7l6 6l-6 6l-6 -6zM657.3 2382l6 6l-6 6l-6 -6zM662 2394.4l6 6l-6 6l-6 -6zM666.6 2410.5l6 6l-6 6l-6 -6zM671.3 2433.9l6 6l-6 6l-6 -6zM675.9 2473.8l6 6l-6 6l-6 -6zM679.8 2508l6 6l-6 6l-6 -6zM682.3 2570.7l6 6l-6 6l-6 -6zM685.8 2633.5l6 6l-6 6l-6 -6zM688.1 2821.7l6 6l-6 6l-6 -6z" fill="#FFC000" stroke="#FFC000" stroke-width="1"/>
<path d="M266.3 1813.6 L270.9 1813.6 L275.6 1813.6 L280.2 1813.5 L284.9 1813.5 L289.6 1813.5 L294.2 1813.5 L298.9 1813.4 L303.5 1813.4 L308.2 1813.4 L312.8 1813.4 L317.5 1813.4 L322.1 1813.4 L326.8 1813.3 L331.4 1813.3 L336.1 1813.3 L340.8 1813.3 L345.4 1813.3 L350.1 1813.3 L354.7 1813.2 L359.4 1813.2 L364 1813.2 L368.7 1813.1 L373.3 1813.1 L378 1813.1 L382.6 1813 L387.3 1813 L392 1812.9 L396.6 1812.8 L401.3 1812.8 L405.9 1812.7 L410.6 1812.6 L415.2 1812.5 L419.9 1812 L424.5 1809.5 L429.2 1807.9 L433.9 1807.9 L438.5 1807.9 L443.2 1807.9 L447.8 1807.9 L452.5 1807.9 L457.1 1807.9 L461.8 1807.9 L466.4 1807.9 L471.1 1807.9 L475.8 1807.9 L480.4 1807.9 L485.1 1807.9 L489.7 1807.9 L494.4 1807.9 L499 1807.9 L503.7 1807.9 L508.3 1807.9 L513 1807.9 L517.6 1807.9 L522.3 1807.9 L527 1807.9 L531.6 1807.9 L536.3 1807.9 L540.9 1807.9 L545.6 1807.9 L550.2 1807.9 L554.9 1807.9 L559.5 1807.9 L564.2 1807.9 L568.9 1807.9 L573.5 1807.9 L578.2 1807.9 L582.8 1807.9 L587.5 1807.9 L592.1 1807.9 L596.8 1807.9 L601.4 1807.8 L606.1 1807.7 L610.7 1807.5 L615.4 1807.3 L620.1 1807.1 L624.7 1806.8 L629.4 1806.5 L634 1806.2 L638.7 1805.9 L643.3 1805.6 L648 1805.3 L652.6 1805 L657.3 1804.8 L662 1804.5 L666.6 1804.3 L671.3 1804.2 L675.9 1804 L680.6 1804 L685.2 1803.9 L689.9 1804 L694.5 1804.2 L699.2 1804.5 L703.8 1804.9 L708.5 1805.3 L713.2 1805.8 L717.8 1806.4 L722.5 1807 L727.1 1807.7 L731.8 1808.3 L736.4 1808.9 L741.1 1809.5 L745.7 1810.1 L750.4 1810.6 L755 1811.1 L759.7 1811.6 L764.4 1812 L769 1812.4 L773.7 1812.9 L778.3 1813.3 L783 1813.7 L787.6 1814.2 L792.3 1814.7 L796.9 1815.3 L801.6 1815.9 L806.3 1816.6 L810.9 1817.4 L815.6 1818.2 L820.2 1819.1 L824.9 1820.1 L829.5 1821.1 L834.2 1822.1 L838.8 1823.1 L843.5 1824.2 L848.1 1825.2 L852.8 1826.2 L857.5 1827.3 L862.1 1828.6 L866.8 1829.8 L871.4 1830.8 L876.1 1831.3 L880.7 1831.3 L885.4 1831.2 L890 1831 L894.7 1830.7 L899.4 1830.3 L904 1829.8 L908.7 1829.2 L913.3 1828.4 L918 1825.4 L922.6 1819.2 L927.3 1812.3 L935.4 1801.1 L936.6 1851.3 L941.2 1852.2 L945.9 1853.2 L950.6 1853.9 L955.2 1854.1 L959.9 1853.4 L964.5 1852 L969.2 1850.1 L973.8 1848.1 L978.5 1846.1 L983.1 1844.1 L987.8 1841.7 L992.5 1839.3 L997.1 1837.2 L1001.8 1835.8 L1006.4 1834.9 L1011.1 1833.6 L1015.7 1831.1 L1020.4 1827.3 L1025 1822.6 L1029.7 1817.3 L1034.3 1811.3 L1039 1804 L1043.7 1795.4 L1048.3 1784.6 L1053 1769.9 L1057.6 1766.1 L1062.3 1769.7 L1066.9 1774.2 L1071.6 1778.7 L1076.2 1783.8 L1080.9 1789.1 L1085.6 1794.6 L1090.2 1800.1 L1094.9 1805.8 L1099.5 1811.6 L1104.2 1817.5 L1108.8 1823.3 L1113.5 1828.9 L1118.1 1834.4 L1122.8 1839.7 L1127.5 1845.1 L1132.1 1850.6 L1136.8 1856.4 L1141.4 1862.4 L1146.1 1868.6 L1150.7 1874.9 L1155.4 1881.5 L1160 1888.3 L1164.7 1895.3 L1169.3 1902.8 L1174 1910.7 L1178.7 1918.6 L1183.3 1926.5 L1188 1934.1 L1192.6 1941.4 L1197.3 1948.5 L1201.9 1955.6 L1206.6 1963 L1211.2 1970.7 L1215.9 1979 L1220.5 1987.8 L1225.2 1997 L1229.9 2006.5 L1234.5 2016.1 L1239.2 2026 L1243.8 2036.2 L1248.5 2046.8 L1253.1 2057.6 L1257.8 2068.3 L1262.4 2078.8 L1267.1 2088.9 L1271.8 2098.5 L1276.4 2108.2 L1281.1 2118.1 L1285.7 2128.6 L1290.4 2140 L1295 2152.6 L1299.7 2165.9 L1304.3 2179.6 L1309 2193.1 L1313.7 2206 L1318.3 2218.1 L1323 2229.5 L1327.6 2240.7 L1332.3 2251.9 L1336.9 2263.6 L1341.6 2275.9 L1346.2 2289.4 L1350.9 2304.4 L1355.5 2320.8 L1360.2 2337.7 L1364.9 2354.5 L1369.5 2370.5 L1374.2 2385.3 L1378.8 2399.4 L1383.5 2413.2 L1388.1 2426.9 L1392.8 2440.7 L1397.4 2454.9 L1402.1 2469.3 L1406.8 2484 L1411.4 2498.8 L1416.1 2513.5 L1420.7 2528.3 L1425.4 2543 L1430 2557.7 L1434.7 2572.4 L1439.3 2587.2 L1444 2601.9 L1448.6 2616.6 L1453.3 2631.3 L1458 2645.9 L1462.6 2660.6 L1467.3 2675.3 L1471.9 2690.2 L1476.6 2705.2 L1481.2 2720.1 L1485.9 2735.2 L1490.5 2750.6 L1495.2 2766.6 L1499.8 2783.3 L1504.5 2801 L1511.5 2827.7" stroke="#70AD47" stroke-width="3.8" fill="none" stroke-linejoin="round"/>
<path d="M266.3 1813.6 L270.9 1813.6 L275.6 1813.6 L280.2 1813.5 L284.9 1813.5 L289.6 1813.5 L294.2 1813.5 L298.9 1813.4 L303.5 1813.4 L308.2 1813.4 L312.8 1813.4 L317.5 1813.4 L322.1 1813.4 L326.8 1813.3 L331.4 1813.3 L336.1 1813.3 L340.8 1813.3 L345.4 1813.3 L350.1 1813.3 L354.7 1813.2 L359.4 1813.2 L364 1813.2 L368.7 1813.1 L373.3 1813.1 L378 1813.1 L382.6 1813 L387.3 1813 L392 1812.9 L396.6 1812.8 L401.3 1812.8 L405.9 1812.7 L410.6 1812.6 L415.2 1812.5 L419.9 1812 L424.5 1809.5 L429.2 1807.9 L433.9 1807.9 L438.5 1807.9 L443.2 1807.9 L447.8 1807.9 L452.5 1807.9 L457.1 1807.9 L461.8 1807.9 L466.4 1807.9 L471.1 1807.9 L475.8 1807.9 L480.4 1807.9 L485.1 1807.9 L489.7 1807.9 L494.4 1807.9 L499 1807.9 L503.7 1807.9 L508.3 1807.9 L513 1807.9 L517.6 1807.9 L522.3 1807.9 L527 1807.9 L531.6 1807.9 L536.3 1807.9 L540.9 1807.9 L545.6 1807.9 L550.2 1807.9 L554.9 1807.9 L559.5 1807.9 L564.2 1807.9 L568.9 1807.9 L573.5 1807.9 L578.2 1807.9 L582.8 1807.9 L587.5 1807.9 L592.1 1807.9 L596.8 1807.9 L601.4 1807.8 L606.1 1807.7 L610.7 1807.5 L615.4 1807.3 L620.1 1807.1 L624.7 1806.8 L629.4 1806.5 L634 1806.2 L638.7 1805.9 L643.3 1805.6 L648 1805.3 L652.6 1805 L657.3 1804.8 L662 1804.5 L666.6 1804.3 L671.3 1804.2 L675.9 1804 L680.6 1804 L685.2 1803.9 L689.9 1804 L694.5 1804.2 L699.2 1804.5 L703.8 1804.9 L708.5 1805.3 L713.2 1805.8 L717.8 1806.4 L722.5 1807 L727.1 1807.7 L731.8 1808.3 L736.4 1808.9 L741.1 1809.5 L745.7 1810.1 L750.4 1810.6 L755 1811.1 L759.7 1811.6 L764.4 1812 L769 1812.4 L773.7 1812.9 L778.3 1813.3 L783 1813.7 L787.6 1814.2 L792.3 1814.7 L796.9 1815.3 L801.6 1815.9 L806.3 1816.6 L810.9 1817.4 L815.6 1818.2 L820.2 1819.1 L824.9 1820.1 L829.5 1821.1 L834.2 1822.1 L838.8 1823.1 L843.5 1824.2 L848.1 1825.2 L852.8 1826.2 L857.5 1827.3 L862.1 1828.6 L866.8 1829.8 L871.4 1830.8 L876.1 1831.3 L880.7 1831.3 L885.4 1831.2 L890 1831 L894.7 1830.7 L899.4 1830.3 L904 1829.8 L908.7 1829.2 L913.3 1828.4 L918 1825.4 L922.6 1819.2 L927.3 1812.3M936.6 1851.3 L941.2 1852.2 L945.9 1853.2 L950.6 1853.9 L955.2 1854.1 L959.9 1853.4 L964.5 1852 L969.2 1850.1 L973.8 1848.1 L978.5 1846.1 L983.1 1844.1 L987.8 1841.7 L992.5 1839.3 L997.1 1837.2 L1001.8 1835.8 L1006.4 1834.9 L1011.1 1833.6 L1015.7 1831.1 L1020.4 1827.3 L1025 1822.6 L1029.7 1817.3 L1034.3 1811.3 L1039 1804 L1043.7 1795.4 L1048.3 1784.6M1053 1769.9 L1057.6 1766.1 L1062.3 1769.7 L1066.9 1774.2 L1071.6 1778.7 L1076.2 1783.8 L1080.9 1789.1 L1085.6 1794.6 L1090.2 1800.1 L1094.9 1805.8 L1099.5 1811.6 L1104.2 1817.5 L1108.8 1823.3 L1113.5 1828.9 L1118.1 1834.4 L1122.8 1839.7 L1127.5 1845.1 L1132.1 1850.6 L1136.8 1856.4 L1141.4 1862.4 L1146.1 1868.6 L1150.7 1874.9 L1155.4 1881.5 L1160 1888.3 L1164.7 1895.3 L1169.3 1902.8 L1174 1910.7 L1178.7 1918.6 L1183.3 1926.5 L1188 1934.1 L1192.6 1941.4 L1197.3 1948.5 L1201.9 1955.6 L1206.6 1963 L1211.2 1970.7 L1215.9 1979 L1220.5 1987.8 L1225.2 1997 L1229.9 2006.5 L1234.5 2016.1 L1239.2 2026 L1243.8 2036.2 L1248.5 2046.8 L1253.1 2057.6 L1257.8 2068.3 L1262.4 2078.8 L1267.1 2088.9 L1271.8 2098.5 L1276.4 2108.2 L1281.1 2118.1 L1285.7 2128.6 L1290.4 2140M1318.3 2218.1 L1323 2229.5 L1327.6 2240.7 L1332.3 2251.9" stroke="#70AD47" stroke-width="12" fill="none" stroke-linejoin="round" stroke-linecap="round"/>
<path d="M266.3 1807.6l6 6l-6 6l-6 -6zM270.9 1807.6l6 6l-6 6l-6 -6zM275.6 1807.6l6 6l-6 6l-6 -6zM280.2 1807.5l6 6l-6 6l-6 -6zM284.9 1807.5l6 6l-6 6l-6 -6zM289.6 1807.5l6 6l-6 6l-6 -6zM294.2 1807.5l6 6l-6 6l-6 -6zM298.9 1807.4l6 6l-6 6l-6 -6zM303.5 1807.4l6 6l-6 6l-6 -6zM308.2 1807.4l6 6l-6 6l-6 -6zM312.8 1807.4l6 6l-6 6l-6 -6zM317.5 1807.4l6 6l-6 6l-6 -6zM322.1 1807.4l6 6l-6 6l-6 -6zM326.8 1807.3l6 6l-6 6l-6 -6zM331.4 1807.3l6 6l-6 6l-6 -6zM336.1 1807.3l6 6l-6 6l-6 -6zM340.8 1807.3l6 6l-6 6l-6 -6zM345.4 1807.3l6 6l-6 6l-6 -6zM350.1 1807.3l6 6l-6 6l-6 -6zM354.7 1807.2l6 6l-6 6l-6 -6zM359.4 1807.2l6 6l-6 6l-6 -6zM364 1807.2l6 6l-6 6l-6 -6zM368.7 1807.1l6 6l-6 6l-6 -6zM373.3 1807.1l6 6l-6 6l-6 -6zM378 1807.1l6 6l-6 6l-6 -6zM382.6 1807l6 6l-6 6l-6 -6zM387.3 1807l6 6l-6 6l-6 -6zM392 1806.9l6 6l-6 6l-6 -6zM396.6 1806.8l6 6l-6 6l-6 -6zM401.3 1806.8l6 6l-6 6l-6 -6zM405.9 1806.7l6 6l-6 6l-6 -6zM410.6 1806.6l6 6l-6 6l-6 -6zM415.2 1806.5l6 6l-6 6l-6 -6zM419.9 1806l6 6l-6 6l-6 -6zM424.5 1803.5l6 6l-6 6l-6 -6zM429.2 1801.9l6 6l-6 6l-6 -6zM433.9 1801.9l6 6l-6 6l-6 -6zM438.5 1801.9l6 6l-6 6l-6 -6zM443.2 1801.9l6 6l-6 6l-6 -6zM447.8 1801.9l6 6l-6 6l-6 -6zM452.5 1801.9l6 6l-6 6l-6 -6zM457.1 1801.9l6 6l-6 6l-6 -6zM461.8 1801.9l6 6l-6 6l-6 -6zM466.4 1801.9l6 6l-6 6l-6 -6zM471.1 1801.9l6 6l-6 6l-6 -6zM475.8 1801.9l6 6l-6 6l-6 -6zM480.4 1801.9l6 6l-6 6l-6 -6zM485.1 1801.9l6 6l-6 6l-6 -6zM489.7 1801.9l6 6l-6 6l-6 -6zM494.4 1801.9l6 6l-6 6l-6 -6zM499 1801.9l6 6l-6 6l-6 -6zM503.7 1801.9l6 6l-6 6l-6 -6zM508.3 1801.9l6 6l-6 6l-6 -6zM513 1801.9l6 6l-6 6l-6 -6zM517.6 1801.9l6 6l-6 6l-6 -6zM522.3 1801.9l6 6l-6 6l-6 -6zM527 1801.9l6 6l-6 6l-6 -6zM531.6 1801.9l6 6l-6 6l-6 -6zM536.3 1801.9l6 6l-6 6l-6 -6zM540.9 1801.9l6 6l-6 6l-6 -6zM545.6 1801.9l6 6l-6 6l-6 -6zM550.2 1801.9l6 6l-6 6l-6 -6zM554.9 1801.9l6 6l-6 6l-6 -6zM559.5 1801.9l6 6l-6 6l-6 -6zM564.2 1801.9l6 6l-6 6l-6 -6zM568.9 1801.9l6 6l-6 6l-6 -6zM573.5 1801.9l6 6l-6 6l-6 -6zM578.2 1801.9l6 6l-6 6l-6 -6zM582.8 1801.9l6 6l-6 6l-6 -6zM587.5 1801.9l6 6l-6 6l-6 -6zM592.1 1801.9l6 6l-6 6l-6 -6zM596.8 1801.9l6 6l-6 6l-6 -6zM601.4 1801.8l6 6l-6 6l-6 -6zM606.1 1801.7l6 6l-6 6l-6 -6zM610.7 1801.5l6 6l-6 6l-6 -6zM615.4 1801.3l6 6l-6 6l-6 -6zM620.1 1801.1l6 6l-6 6l-6 -6zM624.7 1800.8l6 6l-6 6l-6 -6zM629.4 1800.5l6 6l-6 6l-6 -6zM634 1800.2l6 6l-6 6l-6 -6zM638.7 1799.9l6 6l-6 6l-6 -6zM643.3 1799.6l6 6l-6 6l-6 -6zM648 1799.3l6 6l-6 6l-6 -6zM652.6 1799l6 6l-6 6l-6 -6zM657.3 1798.8l6 6l-6 6l-6 -6zM662 1798.5l6 6l-6 6l-6 -6zM666.6 1798.3l6 6l-6 6l-6 -6zM671.3 1798.2l6 6l-6 6l-6 -6zM675.9 1798l6 6l-6 6l-6 -6zM680.6 1798l6 6l-6 6l-6 -6zM685.2 1797.9l6 6l-6 6l-6 -6zM689.9 1798l6 6l-6 6l-6 -6zM694.5 1798.2l6 6l-6 6l-6 -6zM699.2 1798.5l6 6l-6 6l-6 -6zM703.8 1798.9l6 6l-6 6l-6 -6zM708.5 1799.3l6 6l-6 6l-6 -6zM713.2 1799.8l6 6l-6 6l-6 -6zM717.8 1800.4l6 6l-6 6l-6 -6zM722.5 1801l6 6l-6 6l-6 -6zM727.1 1801.7l6 6l-6 6l-6 -6zM731.8 1802.3l6 6l-6 6l-6 -6zM736.4 1802.9l6 6l-6 6l-6 -6zM741.1 1803.5l6 6l-6 6l-6 -6zM745.7 1804.1l6 6l-6 6l-6 -6zM750.4 1804.6l6 6l-6 6l-6 -6zM755 1805.1l6 6l-6 6l-6 -6zM759.7 1805.6l6 6l-6 6l-6 -6zM764.4 1806l6 6l-6 6l-6 -6zM769 1806.4l6 6l-6 6l-6 -6zM773.7 1806.9l6 6l-6 6l-6 -6zM778.3 1807.3l6 6l-6 6l-6 -6zM783 1807.7l6 6l-6 6l-6 -6zM787.6 1808.2l6 6l-6 6l-6 -6zM792.3 1808.7l6 6l-6 6l-6 -6zM796.9 1809.3l6 6l-6 6l-6 -6zM801.6 1809.9l6 6l-6 6l-6 -6zM806.3 1810.6l6 6l-6 6l-6 -6zM810.9 1811.4l6 6l-6 6l-6 -6zM815.6 1812.2l6 6l-6 6l-6 -6zM820.2 1813.1l6 6l-6 6l-6 -6zM824.9 1814.1l6 6l-6 6l-6 -6zM829.5 1815.1l6 6l-6 6l-6 -6zM834.2 1816.1l6 6l-6 6l-6 -6zM838.8 1817.1l6 6l-6 6l-6 -6zM843.5 1818.2l6 6l-6 6l-6 -6zM848.1 1819.2l6 6l-6 6l-6 -6zM852.8 1820.2l6 6l-6 6l-6 -6zM857.5 1821.3l6 6l-6 6l-6 -6zM862.1 1822.6l6 6l-6 6l-6 -6zM866.8 1823.8l6 6l-6 6l-6 -6zM871.4 1824.8l6 6l-6 6l-6 -6zM876.1 1825.3l6 6l-6 6l-6 -6zM880.7 1825.3l6 6l-6 6l-6 -6zM885.4 1825.2l6 6l-6 6l-6 -6zM890 1825l6 6l-6 6l-6 -6zM894.7 1824.7l6 6l-6 6l-6 -6zM899.4 1824.3l6 6l-6 6l-6 -6zM904 1823.8l6 6l-6 6l-6 -6zM908.7 1823.2l6 6l-6 6l-6 -6zM913.3 1822.4l6 6l-6 6l-6 -6zM918 1819.4l6 6l-6 6l-6 -6zM922.6 1813.2l6 6l-6 6l-6 -6zM927.3 1806.3l6 6l-6 6l-6 -6zM935.4 1795.1l6 6l-6 6l-6 -6zM936.6 1845.3l6 6l-6 6l-6 -6zM941.2 1846.2l6 6l-6 6l-6 -6zM945.9 1847.2l6 6l-6 6l-6 -6zM950.6 1847.9l6 6l-6 6l-6 -6zM955.2 1848.1l6 6l-6 6l-6 -6zM959.9 1847.4l6 6l-6 6l-6 -6zM964.5 1846l6 6l-6 6l-6 -6zM969.2 1844.1l6 6l-6 6l-6 -6zM973.8 1842.1l6 6l-6 6l-6 -6zM978.5 1840.1l6 6l-6 6l-6 -6zM983.1 1838.1l6 6l-6 6l-6 -6zM987.8 1835.7l6 6l-6 6l-6 -6zM992.5 1833.3l6 6l-6 6l-6 -6zM997.1 1831.2l6 6l-6 6l-6 -6zM1001.8 1829.8l6 6l-6 6l-6 -6zM1006.4 1828.9l6 6l-6 6l-6 -6zM1011.1 1827.6l6 6l-6 6l-6 -6zM1015.7 1825.1l6 6l-6 6l-6 -6zM1020.4 1821.3l6 6l-6 6l-6 -6zM1025 1816.6l6 6l-6 6l-6 -6zM1029.7 1811.3l6 6l-6 6l-6 -6zM1034.3 1805.3l6 6l-6 6l-6 -6zM1039 1798l6 6l-6 6l-6 -6zM1043.7 1789.4l6 6l-6 6l-6 -6zM1048.3 1778.6l6 6l-6 6l-6 -6zM1053 1763.9l6 6l-6 6l-6 -6zM1057.6 1760.1l6 6l-6 6l-6 -6zM1062.3 1763.7l6 6l-6 6l-6 -6zM1066.9 1768.2l6 6l-6 6l-6 -6zM1071.6 1772.7l6 6l-6 6l-6 -6zM1076.2 1777.8l6 6l-6 6l-6 -6zM1080.9 1783.1l6 6l-6 6l-6 -6zM1085.6 1788.6l6 6l-6 6l-6 -6zM1090.2 1794.1l6 6l-6 6l-6 -6zM1094.9 1799.8l6 6l-6 6l-6 -6zM1099.5 1805.6l6 6l-6 6l-6 -6zM1104.2 1811.5l6 6l-6 6l-6 -6zM1108.8 1817.3l6 6l-6 6l-6 -6zM1113.5 1822.9l6 6l-6 6l-6 -6zM1118.1 1828.4l6 6l-6 6l-6 -6zM1122.8 1833.7l6 6l-6 6l-6 -6zM1127.5 1839.1l6 6l-6 6l-6 -6zM1132.1 1844.6l6 6l-6 6l-6 -6zM1136.8 1850.4l6 6l-6 6l-6 -6zM1141.4 1856.4l6 6l-6 6l-6 -6zM1146.1 1862.6l6 6l-6 6l-6 -6zM1150.7 1868.9l6 6l-6 6l-6 -6zM1155.4 1875.5l6 6l-6 6l-6 -6zM1160 1882.3l6 6l-6 6l-6 -6zM1164.7 1889.3l6 6l-6 6l-6 -6zM1169.3 1896.8l6 6l-6 6l-6 -6zM1174 1904.7l6 6l-6 6l-6 -6zM1178.7 1912.6l6 6l-6 6l-6 -6zM1183.3 1920.5l6 6l-6 6l-6 -6zM1188 1928.1l6 6l-6 6l-6 -6zM1192.6 1935.4l6 6l-6 6l-6 -6zM1197.3 1942.5l6 6l-6 6l-6 -6zM1201.9 1949.6l6 6l-6 6l-6 -6zM1206.6 1957l6 6l-6 6l-6 -6zM1211.2 1964.7l6 6l-6 6l-6 -6zM1215.9 1973l6 6l-6 6l-6 -6zM1220.5 1981.8l6 6l-6 6l-6 -6zM1225.2 1991l6 6l-6 6l-6 -6zM1229.9 2000.5l6 6l-6 6l-6 -6zM1234.5 2010.1l6 6l-6 6l-6 -6zM1239.2 2020l6 6l-6 6l-6 -6zM1243.8 2030.2l6 6l-6 6l-6 -6zM1248.5 2040.8l6 6l-6 6l-6 -6zM1253.1 2051.6l6 6l-6 6l-6 -6zM1257.8 2062.3l6 6l-6 6l-6 -6zM1262.4 2072.8l6 6l-6 6l-6 -6zM1267.1 2082.9l6 6l-6 6l-6 -6zM1271.8 2092.5l6 6l-6 6l-6 -6zM1276.4 2102.2l6 6l-6 6l-6 -6zM1281.1 2112.1l6 6l-6 6l-6 -6zM1285.7 2122.6l6 6l-6 6l-6 -6zM1290.4 2134l6 6l-6 6l-6 -6zM1295 2146.6l6 6l-6 6l-6 -6zM1299.7 2159.9l6 6l-6 6l-6 -6zM1304.3 2173.6l6 6l-6 6l-6 -6zM1309 2187.1l6 6l-6 6l-6 -6zM1313.7 2200l6 6l-6 6l-6 -6zM1318.3 2212.1l6 6l-6 6l-6 -6zM1323 2223.5l6 6l-6 6l-6 -6zM1327.6 2234.7l6 6l-6 6l-6 -6zM1332.3 2245.9l6 6l-6 6l-6 -6zM1336.9 2257.6l6 6l-6 6l-6 -6zM1341.6 2269.9l6 6l-6 6l-6 -6zM1346.2 2283.4l6 6l-6 6l-6 -6zM1350.9 2298.4l6 6l-6 6l-6 -6zM1355.5 2314.8l6 6l-6 6l-6 -6zM1360.2 2331.7l6 6l-6 6l-6 -6zM1364.9 2348.5l6 6l-6 6l-6 -6zM1369.5 2364.5l6 6l-6 6l-6 -6zM1374.2 2379.3l6 6l-6 6l-6 -6zM1378.8 2393.4l6 6l-6 6l-6 -6zM1383.5 2407.2l6 6l-6 6l-6 -6zM1388.1 2420.9l6 6l-6 6l-6 -6zM1392.8 2434.7l6 6l-6 6l-6 -6zM1397.4 2448.9l6 6l-6 6l-6 -6zM1402.1 2463.3l6 6l-6 6l-6 -6zM1406.8 2478l6 6l-6 6l-6 -6zM1411.4 2492.8l6 6l-6 6l-6 -6zM1416.1 2507.5l6 6l-6 6l-6 -6zM1420.7 2522.3l6 6l-6 6l-6 -6zM1425.4 2537l6 6l-6 6l-6 -6zM1430 2551.7l6 6l-6 6l-6 -6zM1434.7 2566.4l6 6l-6 6l-6 -6zM1439.3 2581.2l6 6l-6 6l-6 -6zM1444 2595.9l6 6l-6 6l-6 -6zM1448.6 2610.6l6 6l-6 6l-6 -6zM1453.3 2625.3l6 6l-6 6l-6 -6zM1458 2639.9l6 6l-6 6l-6 -6zM1462.6 2654.6l6 6l-6 6l-6 -6zM1467.3 2669.3l6 6l-6 6l-6 -6zM1471.9 2684.2l6 6l-6 6l-6 -6zM1476.6 2699.2l6 6l-6 6l-6 -6zM1481.2 2714.1l6 6l-6 6l-6 -6zM1485.9 2729.2l6 6l-6 6l-6 -6zM1490.5 2744.6l6 6l-6 6l-6 -6zM1495.2 2760.6l6 6l-6 6l-6 -6zM1499.8 2777.3l6 6l-6 6l-6 -6zM1504.5 2795l6 6l-6 6l-6 -6zM1511.5 2821.7l6 6l-6 6l-6 -6z" fill="#70AD47" stroke="#70AD47" stroke-width="1"/>
<path d="M935.4 2653.7 L940.1 2656.8 L944.7 2659.9 L949.4 2662.9 L954.1 2665.9 L958.7 2668.7 L963.4 2671.4 L968 2674.1 L972.7 2677 L977.3 2680.2 L982 2683.6 L986.6 2687.2 L991.3 2691.3 L995.9 2696.4 L1000.6 2703 L1005.3 2710.2 L1009.9 2717.5 L1014.6 2725.1 L1019.2 2733.2 L1023.9 2741.9 L1028.5 2751.2 L1033.2 2761 L1037.8 2771.2 L1042.5 2781.7 L1047.2 2795.1 L1055.3 2827.7" stroke="#255E91" stroke-width="3.8" fill="none" stroke-linejoin="round"/>
<path d="M935.4 2653.7 L940.1 2656.8 L944.7 2659.9 L949.4 2662.9 L954.1 2665.9 L958.7 2668.7 L963.4 2671.4 L968 2674.1 L972.7 2677 L977.3 2680.2 L982 2683.6 L986.6 2687.2 L991.3 2691.3 L995.9 2696.4 L1000.6 2703 L1005.3 2710.2 L1009.9 2717.5 L1014.6 2725.1 L1019.2 2733.2 L1023.9 2741.9 L1028.5 2751.2 L1033.2 2761 L1037.8 2771.2 L1042.5 2781.7" stroke="#255E91" stroke-width="12" fill="none" stroke-linejoin="round" stroke-linecap="round"/>
<path d="M935.4 2647.7l6 6l-6 6l-6 -6zM940.1 2650.8l6 6l-6 6l-6 -6zM944.7 2653.9l6 6l-6 6l-6 -6zM949.4 2656.9l6 6l-6 6l-6 -6zM954.1 2659.9l6 6l-6 6l-6 -6zM958.7 2662.7l6 6l-6 6l-6 -6zM963.4 2665.4l6 6l-6 6l-6 -6zM968 2668.1l6 6l-6 6l-6 -6zM972.7 2671l6 6l-6 6l-6 -6zM977.3 2674.2l6 6l-6 6l-6 -6zM982 2677.6l6 6l-6 6l-6 -6zM986.6 2681.2l6 6l-6 6l-6 -6zM991.3 2685.3l6 6l-6 6l-6 -6zM995.9 2690.4l6 6l-6 6l-6 -6zM1000.6 2697l6 6l-6 6l-6 -6zM1005.3 2704.2l6 6l-6 6l-6 -6zM1009.9 2711.5l6 6l-6 6l-6 -6zM1014.6 2719.1l6 6l-6 6l-6 -6zM1019.2 2727.2l6 6l-6 6l-6 -6zM1023.9 2735.9l6 6l-6 6l-6 -6zM1028.5 2745.2l6 6l-6 6l-6 -6zM1033.2 2755l6 6l-6 6l-6 -6zM1037.8 2765.2l6 6l-6 6l-6 -6zM1042.5 2775.7l6 6l-6 6l-6 -6zM1047.2 2789.1l6 6l-6 6l-6 -6zM1055.3 2821.7l6 6l-6 6l-6 -6z" fill="#255E91" stroke="#255E91" stroke-width="1"/>
<path d="M1814.1 2827.7 L1815.2 2736.4 L1818.7 2639.5 L1824 2525.4 L1835 2342.9 L1844 2109.1 L1854.2 1886.6 L1862.7 1652.8 L1870.6 1287.8 L1881.6 877.1 L1892 346.7 L1901.3 -314.9 L1909.5 -1193.3 L1918.8 -2362.5 L1922.9 -2875.8 L1927.5 -2875.8 L1932.2 -2875.8 L1936.8 -2875.8 L1941.5 -2875.8 L1946.1 -2875.8 L1950.8 -2875.8 L1955.5 -2875.8 L1960.1 -2875.8 L1964.8 -2875.8 L1969.4 -2875.8 L1974.1 -2875.8 L1978.7 -2875.8 L1983.4 -2875.8 L1988 -2875.8 L1992.7 -2875.8 L1997.4 -2875.8 L2002 -2875.8 L2006.7 -2875.8 L2011.3 -2875.8 L2016 -2875.8 L2020.6 -2875.8 L2025.3 -2875.8 L2029.9 -2875.8 L2034.6 -2875.8 L2039.2 -2875.8 L2043.9 -2875.8 L2048.6 -2875.8 L2053.2 -2875.8 L2057.9 -2875.8 L2062.5 -2875.8 L2067.2 -2875.8 L2071.8 -2875.8 L2076.5 -2875.8 L2081.1 -2875.8 L2085.8 -2875.8 L2090.5 -2875.8 L2095.1 -2875.8 L2099.8 -2875.8 L2105 -2875.8" stroke="#9E480E" stroke-width="3.8" fill="none" stroke-linejoin="round"/>
<path d="M1922.9 -2875.8 L1927.5 -2875.8 L1932.2 -2875.8 L1936.8 -2875.8 L1941.5 -2875.8 L1946.1 -2875.8 L1950.8 -2875.8 L1955.5 -2875.8 L1960.1 -2875.8 L1964.8 -2875.8 L1969.4 -2875.8 L1974.1 -2875.8 L1978.7 -2875.8 L1983.4 -2875.8 L1988 -2875.8 L1992.7 -2875.8 L1997.4 -2875.8 L2002 -2875.8 L2006.7 -2875.8 L2011.3 -2875.8 L2016 -2875.8 L2020.6 -2875.8 L2025.3 -2875.8 L2029.9 -2875.8 L2034.6 -2875.8 L2039.2 -2875.8 L2043.9 -2875.8 L2048.6 -2875.8 L2053.2 -2875.8 L2057.9 -2875.8 L2062.5 -2875.8 L2067.2 -2875.8 L2071.8 -2875.8 L2076.5 -2875.8 L2081.1 -2875.8 L2085.8 -2875.8 L2090.5 -2875.8 L2095.1 -2875.8 L2099.8 -2875.8 L2105 -2875.8" stroke="#9E480E" stroke-width="12" fill="none" stroke-linejoin="round" stroke-linecap="round"/>
<path d="M1814.1 2821.7l6 6l-6 6l-6 -6zM1815.2 2730.4l6 6l-6 6l-6 -6zM1818.7 2633.5l6 6l-6 6l-6 -6zM1824 2519.4l6 6l-6 6l-6 -6zM1835 2336.9l6 6l-6 6l-6 -6zM1844 2103.1l6 6l-6 6l-6 -6zM1854.2 1880.6l6 6l-6 6l-6 -6z" fill="#9E480E" stroke="#9E480E" stroke-width="1"/>
<path d="M266.3 2823.1 L270.9 2823.1 L275.6 2823.1 L280.2 2823.1 L284.9 2823.1 L289.6 2823.1 L294.2 2823.1 L298.9 2823.1 L303.5 2823.1 L308.2 2823.1 L312.8 2823.1 L317.5 2823.1 L322.1 2823.1 L326.8 2823.1 L331.4 2823.1 L336.1 2823.1 L340.8 2823.1 L345.4 2823.1 L350.1 2823.1 L354.7 2823.1 L359.4 2823.1 L364 2823.1 L368.7 2823.1 L373.3 2823.1 L378 2823.1 L382.6 2823.1 L387.3 2823.1 L392 2823.1 L396.6 2823.1 L401.3 2823.1 L405.9 2823.1 L410.6 2823.1 L415.2 2823.1 L419.9 2823.1 L424.5 2823.1 L429.2 2823.1 L433.9 2823.1 L438.5 2823.1 L443.2 2823.1 L447.8 2823.1 L452.5 2823.1 L457.1 2823.1 L461.8 2823.1 L466.4 2823.1 L471.1 2823.1 L475.8 2823.1 L480.4 2823.1 L485.1 2823.1 L489.7 2823.1 L494.4 2823.1 L499 2823.1 L503.7 2823.1 L508.3 2823.1 L513 2823.1 L517.6 2823.1 L522.3 2823.1 L527 2823.1 L531.6 2823.1 L536.3 2823.1 L540.9 2823.1 L545.6 2823.1 L550.2 2823.1 L554.9 2823.1 L559.5 2823.1 L564.2 2823.1 L568.9 2823.1 L573.5 2823.1 L578.2 2823.1 L582.8 2823.1 L587.5 2823.1 L592.1 2823.1 L596.8 2823.1 L601.4 2823.1 L606.1 2823.1 L610.7 2823.1 L615.4 2823.1 L620.1 2823.1 L624.7 2823.1 L629.4 2823.1 L634 2823.1 L638.7 2823.1 L643.3 2823.1 L648 2823.1 L652.6 2823.1 L657.3 2823.1 L662 2823.1 L666.6 2823.1 L671.3 2823.1 L675.9 2823.1 L680.6 2823.1 L685.2 2823.1 L689.9 2823.1 L694.5 2823.1 L699.2 2823.1 L703.8 2823.1 L708.5 2823.1 L713.2 2823.1 L717.8 2823.1 L722.5 2823.1 L727.1 2823.1 L731.8 2823.1 L736.4 2823.1 L741.1 2823.1 L745.7 2823.1 L750.4 2823.1 L755 2823.1 L759.7 2823.1 L764.4 2823.1 L769 2823.1 L773.7 2823.1 L778.3 2823.1 L783 2823.1 L787.6 2823.1 L792.3 2823.1 L796.9 2823.1 L801.6 2823.1 L806.3 2823.1 L810.9 2823.1 L815.6 2823.1 L820.2 2823.1 L824.9 2823.1 L829.5 2823.1 L834.2 2823.1 L838.8 2823.1 L843.5 2823.1 L848.1 2823.1 L852.8 2823.1 L857.5 2823.1 L862.1 2823.1 L866.8 2823.1 L871.4 2823.1 L876.1 2823.1 L880.7 2823.1 L885.4 2823.1 L890 2823.1 L894.7 2823.1 L899.4 2823.1 L904 2823.1 L908.7 2823.1 L913.3 2823.1 L918 2823.1 L922.6 2823.1 L927.3 2823.1 L931.9 2823.1 L936.6 2823.1 L941.2 2823.1 L945.9 2823.1 L950.6 2823.1 L955.2 2823.1 L959.9 2823.1 L964.5 2823.1 L969.2 2823.1 L973.8 2823.1 L978.5 2823.1 L983.1 2823.1 L987.8 2823.1 L992.5 2823.1 L997.1 2823.1 L1001.8 2823.1 L1006.4 2823.1 L1011.1 2823.1 L1015.7 2823.1 L1020.4 2823.1 L1025 2823.1 L1029.7 2823.1 L1034.3 2823.1 L1039 2823.1 L1043.7 2823.1 L1048.3 2823.1 L1053 2823.1 L1057.6 2823.1 L1062.3 2823.1 L1066.9 2823.1 L1071.6 2823.1 L1076.2 2823.1 L1080.9 2823.1 L1085.6 2823.1 L1090.2 2823.1 L1094.9 2823.1 L1099.5 2823.1 L1104.2 2823.1 L1108.8 2823.1 L1113.5 2823.1 L1118.1 2823.1 L1122.8 2823.1 L1127.5 2823.1 L1132.1 2823.1 L1136.8 2823.1 L1141.4 2823.1 L1146.1 2823.1 L1150.7 2823.1 L1156.5 2823.1" stroke="#636363" stroke-width="3.8" fill="none" stroke-linejoin="round"/>
<path d="M266.3 2823.1 L270.9 2823.1 L275.6 2823.1 L280.2 2823.1 L284.9 2823.1 L289.6 2823.1 L294.2 2823.1 L298.9 2823.1 L303.5 2823.1 L308.2 2823.1 L312.8 2823.1 L317.5 2823.1 L322.1 2823.1 L326.8 2823.1 L331.4 2823.1 L336.1 2823.1 L340.8 2823.1 L345.4 2823.1 L350.1 2823.1 L354.7 2823.1 L359.4 2823.1 L364 2823.1 L368.7 2823.1 L373.3 2823.1 L378 2823.1 L382.6 2823.1 L387.3 2823.1 L392 2823.1 L396.6 2823.1 L401.3 2823.1 L405.9 2823.1 L410.6 2823.1 L415.2 2823.1 L419.9 2823.1 L424.5 2823.1 L429.2 2823.1 L433.9 2823.1 L438.5 2823.1 L443.2 2823.1 L447.8 2823.1 L452.5 2823.1 L457.1 2823.1 L461.8 2823.1 L466.4 2823.1 L471.1 2823.1 L475.8 2823.1 L480.4 2823.1 L485.1 2823.1 L489.7 2823.1 L494.4 2823.1 L499 2823.1 L503.7 2823.1 L508.3 2823.1 L513 2823.1 L517.6 2823.1 L522.3 2823.1 L527 2823.1 L531.6 2823.1 L536.3 2823.1 L540.9 2823.1 L545.6 2823.1 L550.2 2823.1 L554.9 2823.1 L559.5 2823.1 L564.2 2823.1 L568.9 2823.1 L573.5 2823.1 L578.2 2823.1 L582.8 2823.1 L587.5 2823.1 L592.1 2823.1 L596.8 2823.1 L601.4 2823.1 L606.1 2823.1 L610.7 2823.1 L615.4 2823.1 L620.1 2823.1 L624.7 2823.1 L629.4 2823.1 L634 2823.1 L638.7 2823.1 L643.3 2823.1 L648 2823.1 L652.6 2823.1 L657.3 2823.1 L662 2823.1 L666.6 2823.1 L671.3 2823.1 L675.9 2823.1 L680.6 2823.1 L685.2 2823.1 L689.9 2823.1 L694.5 2823.1 L699.2 2823.1 L703.8 2823.1 L708.5 2823.1 L713.2 2823.1 L717.8 2823.1 L722.5 2823.1 L727.1 2823.1 L731.8 2823.1 L736.4 2823.1 L741.1 2823.1 L745.7 2823.1 L750.4 2823.1 L755 2823.1 L759.7 2823.1 L764.4 2823.1 L769 2823.1 L773.7 2823.1 L778.3 2823.1 L783 2823.1 L787.6 2823.1 L792.3 2823.1 L796.9 2823.1 L801.6 2823.1 L806.3 2823.1 L810.9 2823.1 L815.6 2823.1 L820.2 2823.1 L824.9 2823.1 L829.5 2823.1 L834.2 2823.1 L838.8 2823.1 L843.5 2823.1 L848.1 2823.1 L852.8 2823.1 L857.5 2823.1 L862.1 2823.1 L866.8 2823.1 L871.4 2823.1 L876.1 2823.1 L880.7 2823.1 L885.4 2823.1 L890 2823.1 L894.7 2823.1 L899.4 2823.1 L904 2823.1 L908.7 2823.1 L913.3 2823.1 L918 2823.1 L922.6 2823.1 L927.3 2823.1 L931.9 2823.1 L936.6 2823.1 L941.2 2823.1 L945.9 2823.1 L950.6 2823.1 L955.2 2823.1 L959.9 2823.1 L964.5 2823.1 L969.2 2823.1 L973.8 2823.1 L978.5 2823.1 L983.1 2823.1 L987.8 2823.1 L992.5 2823.1 L997.1 2823.1 L1001.8 2823.1 L1006.4 2823.1 L1011.1 2823.1 L1015.7 2823.1 L1020.4 2823.1 L1025 2823.1 L1029.7 2823.1 L1034.3 2823.1 L1039 2823.1 L1043.7 2823.1 L1048.3 2823.1 L1053 2823.1 L1057.6 2823.1 L1062.3 2823.1 L1066.9 2823.1 L1071.6 2823.1 L1076.2 2823.1 L1080.9 2823.1 L1085.6 2823.1 L1090.2 2823.1 L1094.9 2823.1 L1099.5 2823.1 L1104.2 2823.1 L1108.8 2823.1 L1113.5 2823.1 L1118.1 2823.1 L1122.8 2823.1 L1127.5 2823.1 L1132.1 2823.1 L1136.8 2823.1 L1141.4 2823.1 L1146.1 2823.1 L1150.7 2823.1 L1156.5 2823.1" stroke="#636363" stroke-width="12" fill="none" stroke-linejoin="round" stroke-linecap="round"/>
<path d="M266.3 2817.1l6 6l-6 6l-6 -6zM270.9 2817.1l6 6l-6 6l-6 -6zM275.6 2817.1l6 6l-6 6l-6 -6zM280.2 2817.1l6 6l-6 6l-6 -6zM284.9 2817.1l6 6l-6 6l-6 -6zM289.6 2817.1l6 6l-6 6l-6 -6zM294.2 2817.1l6 6l-6 6l-6 -6zM298.9 2817.1l6 6l-6 6l-6 -6zM303.5 2817.1l6 6l-6 6l-6 -6zM308.2 2817.1l6 6l-6 6l-6 -6zM312.8 2817.1l6 6l-6 6l-6 -6zM317.5 2817.1l6 6l-6 6l-6 -6zM322.1 2817.1l6 6l-6 6l-6 -6zM326.8 2817.1l6 6l-6 6l-6 -6zM331.4 2817.1l6 6l-6 6l-6 -6zM336.1 2817.1l6 6l-6 6l-6 -6zM340.8 2817.1l6 6l-6 6l-6 -6zM345.4 2817.1l6 6l-6 6l-6 -6zM350.1 2817.1l6 6l-6 6l-6 -6zM354.7 2817.1l6 6l-6 6l-6 -6zM359.4 2817.1l6 6l-6 6l-6 -6zM364 2817.1l6 6l-6 6l-6 -6zM368.7 2817.1l6 6l-6 6l-6 -6zM373.3 2817.1l6 6l-6 6l-6 -6zM378 2817.1l6 6l-6 6l-6 -6zM382.6 2817.1l6 6l-6 6l-6 -6zM387.3 2817.1l6 6l-6 6l-6 -6zM392 2817.1l6 6l-6 6l-6 -6zM396.6 2817.1l6 6l-6 6l-6 -6zM401.3 2817.1l6 6l-6 6l-6 -6zM405.9 2817.1l6 6l-6 6l-6 -6zM410.6 2817.1l6 6l-6 6l-6 -6zM415.2 2817.1l6 6l-6 6l-6 -6zM419.9 2817.1l6 6l-6 6l-6 -6zM424.5 2817.1l6 6l-6 6l-6 -6zM429.2 2817.1l6 6l-6 6l-6 -6zM433.9 2817.1l6 6l-6 6l-6 -6zM438.5 2817.1l6 6l-6 6l-6 -6zM443.2 2817.1l6 6l-6 6l-6 -6zM447.8 2817.1l6 6l-6 6l-6 -6zM452.5 2817.1l6 6l-6 6l-6 -6zM457.1 2817.1l6 6l-6 6l-6 -6zM461.8 2817.1l6 6l-6 6l-6 -6zM466.4 2817.1l6 6l-6 6l-6 -6zM471.1 2817.1l6 6l-6 6l-6 -6zM475.8 2817.1l6 6l-6 6l-6 -6zM480.4 2817.1l6 6l-6 6l-6 -6zM485.1 2817.1l6 6l-6 6l-6 -6zM489.7 2817.1l6 6l-6 6l-6 -6zM494.4 2817.1l6 6l-6 6l-6 -6zM499 2817.1l6 6l-6 6l-6 -6zM503.7 2817.1l6 6l-6 6l-6 -6zM508.3 2817.1l6 6l-6 6l-6 -6zM513 2817.1l6 6l-6 6l-6 -6zM517.6 2817.1l6 6l-6 6l-6 -6zM522.3 2817.1l6 6l-6 6l-6 -6zM527 2817.1l6 6l-6 6l-6 -6zM531.6 2817.1l6 6l-6 6l-6 -6zM536.3 2817.1l6 6l-6 6l-6 -6zM540.9 2817.1l6 6l-6 6l-6 -6zM545.6 2817.1l6 6l-6 6l-6 -6zM550.2 2817.1l6 6l-6 6l-6 -6zM554.9 2817.1l6 6l-6 6l-6 -6zM559.5 2817.1l6 6l-6 6l-6 -6zM564.2 2817.1l6 6l-6 6l-6 -6zM568.9 2817.1l6 6l-6 6l-6 -6zM573.5 2817.1l6 6l-6 6l-6 -6zM578.2 2817.1l6 6l-6 6l-6 -6zM582.8 2817.1l6 6l-6 6l-6 -6zM587.5 2817.1l6 6l-6 6l-6 -6zM592.1 2817.1l6 6l-6 6l-6 -6zM596.8 2817.1l6 6l-6 6l-6 -6zM601.4 2817.1l6 6l-6 6l-6 -6zM606.1 2817.1l6 6l-6 6l-6 -6zM610.7 2817.1l6 6l-6 6l-6 -6zM615.4 2817.1l6 6l-6 6l-6 -6zM620.1 2817.1l6 6l-6 6l-6 -6zM624.7 2817.1l6 6l-6 6l-6 -6zM629.4 2817.1l6 6l-6 6l-6 -6zM634 2817.1l6 6l-6 6l-6 -6zM638.7 2817.1l6 6l-6 6l-6 -6zM643.3 2817.1l6 6l-6 6l-6 -6zM648 2817.1l6 6l-6 6l-6 -6zM652.6 2817.1l6 6l-6 6l-6 -6zM657.3 2817.1l6 6l-6 6l-6 -6zM662 2817.1l6 6l-6 6l-6 -6zM666.6 2817.1l6 6l-6 6l-6 -6zM671.3 2817.1l6 6l-6 6l-6 -6zM675.9 2817.1l6 6l-6 6l-6 -6zM680.6 2817.1l6 6l-6 6l-6 -6zM685.2 2817.1l6 6l-6 6l-6 -6zM689.9 2817.1l6 6l-6 6l-6 -6zM694.5 2817.1l6 6l-6 6l-6 -6zM699.2 2817.1l6 6l-6 6l-6 -6zM703.8 2817.1l6 6l-6 6l-6 -6zM708.5 2817.1l6 6l-6 6l-6 -6zM713.2 2817.1l6 6l-6 6l-6 -6zM717.8 2817.1l6 6l-6 6l-6 -6zM722.5 2817.1l6 6l-6 6l-6 -6zM727.1 2817.1l6 6l-6 6l-6 -6zM731.8 2817.1l6 6l-6 6l-6 -6zM736.4 2817.1l6 6l-6 6l-6 -6zM741.1 2817.1l6 6l-6 6l-6 -6zM745.7 2817.1l6 6l-6 6l-6 -6zM750.4 2817.1l6 6l-6 6l-6 -6zM755 2817.1l6 6l-6 6l-6 -6zM759.7 2817.1l6 6l-6 6l-6 -6zM764.4 2817.1l6 6l-6 6l-6 -6zM769 2817.1l6 6l-6 6l-6 -6zM773.7 2817.1l6 6l-6 6l-6 -6zM778.3 2817.1l6 6l-6 6l-6 -6zM783 2817.1l6 6l-6 6l-6 -6zM787.6 2817.1l6 6l-6 6l-6 -6zM792.3 2817.1l6 6l-6 6l-6 -6zM796.9 2817.1l6 6l-6 6l-6 -6zM801.6 2817.1l6 6l-6 6l-6 -6zM806.3 2817.1l6 6l-6 6l-6 -6zM810.9 2817.1l6 6l-6 6l-6 -6zM815.6 2817.1l6 6l-6 6l-6 -6zM820.2 2817.1l6 6l-6 6l-6 -6zM824.9 2817.1l6 6l-6 6l-6 -6zM829.5 2817.1l6 6l-6 6l-6 -6zM834.2 2817.1l6 6l-6 6l-6 -6zM838.8 2817.1l6 6l-6 6l-6 -6zM843.5 2817.1l6 6l-6 6l-6 -6zM848.1 2817.1l6 6l-6 6l-6 -6zM852.8 2817.1l6 6l-6 6l-6 -6zM857.5 2817.1l6 6l-6 6l-6 -6zM862.1 2817.1l6 6l-6 6l-6 -6zM866.8 2817.1l6 6l-6 6l-6 -6zM871.4 2817.1l6 6l-6 6l-6 -6zM876.1 2817.1l6 6l-6 6l-6 -6zM880.7 2817.1l6 6l-6 6l-6 -6zM885.4 2817.1l6 6l-6 6l-6 -6zM890 2817.1l6 6l-6 6l-6 -6zM894.7 2817.1l6 6l-6 6l-6 -6zM899.4 2817.1l6 6l-6 6l-6 -6zM904 2817.1l6 6l-6 6l-6 -6zM908.7 2817.1l6 6l-6 6l-6 -6zM913.3 2817.1l6 6l-6 6l-6 -6zM918 2817.1l6 6l-6 6l-6 -6zM922.6 2817.1l6 6l-6 6l-6 -6zM927.3 2817.1l6 6l-6 6l-6 -6zM931.9 2817.1l6 6l-6 6l-6 -6zM936.6 2817.1l6 6l-6 6l-6 -6zM941.2 2817.1l6 6l-6 6l-6 -6zM945.9 2817.1l6 6l-6 6l-6 -6zM950.6 2817.1l6 6l-6 6l-6 -6zM955.2 2817.1l6 6l-6 6l-6 -6zM959.9 2817.1l6 6l-6 6l-6 -6zM964.5 2817.1l6 6l-6 6l-6 -6zM969.2 2817.1l6 6l-6 6l-6 -6zM973.8 2817.1l6 6l-6 6l-6 -6zM978.5 2817.1l6 6l-6 6l-6 -6zM983.1 2817.1l6 6l-6 6l-6 -6zM987.8 2817.1l6 6l-6 6l-6 -6zM992.5 2817.1l6 6l-6 6l-6 -6zM997.1 2817.1l6 6l-6 6l-6 -6zM1001.8 2817.1l6 6l-6 6l-6 -6zM1006.4 2817.1l6 6l-6 6l-6 -6zM1011.1 2817.1l6 6l-6 6l-6 -6zM1015.7 2817.1l6 6l-6 6l-6 -6zM1020.4 2817.1l6 6l-6 6l-6 -6zM1025 2817.1l6 6l-6 6l-6 -6zM1029.7 2817.1l6 6l-6 6l-6 -6zM1034.3 2817.1l6 6l-6 6l-6 -6zM1039 2817.1l6 6l-6 6l-6 -6zM1043.7 2817.1l6 6l-6 6l-6 -6zM1048.3 2817.1l6 6l-6 6l-6 -6zM1053 2817.1l6 6l-6 6l-6 -6zM1057.6 2817.1l6 6l-6 6l-6 -6zM1062.3 2817.1l6 6l-6 6l-6 -6zM1066.9 2817.1l6 6l-6 6l-6 -6zM1071.6 2817.1l6 6l-6 6l-6 -6zM1076.2 2817.1l6 6l-6 6l-6 -6zM1080.9 2817.1l6 6l-6 6l-6 -6zM1085.6 2817.1l6 6l-6 6l-6 -6zM1090.2 2817.1l6 6l-6 6l-6 -6zM1094.9 2817.1l6 6l-6 6l-6 -6zM1099.5 2817.1l6 6l-6 6l-6 -6zM1104.2 2817.1l6 6l-6 6l-6 -6zM1108.8 2817.1l6 6l-6 6l-6 -6zM1113.5 2817.1l6 6l-6 6l-6 -6zM1118.1 2817.1l6 6l-6 6l-6 -6zM1122.8 2817.1l6 6l-6 6l-6 -6zM1127.5 2817.1l6 6l-6 6l-6 -6zM1132.1 2817.1l6 6l-6 6l-6 -6zM1136.8 2817.1l6 6l-6 6l-6 -6zM1141.4 2817.1l6 6l-6 6l-6 -6zM1146.1 2817.1l6 6l-6 6l-6 -6zM1150.7 2817.1l6 6l-6 6l-6 -6zM1156.5 2817.1l6 6l-6 6l-6 -6z" fill="#636363" stroke="#636363" stroke-width="1"/>
<path d="M266.3 2516.9 L270.9 2516.9 L275.6 2516.9 L280.2 2516.9 L284.9 2517 L289.6 2517 L294.2 2517 L298.9 2517 L303.5 2517.1 L308.2 2517.1 L312.8 2517.1 L317.5 2517.1 L322.1 2517.2 L326.8 2517.2 L331.4 2517.2 L336.1 2517.2 L340.8 2517.2 L345.4 2517.3 L350.1 2517.3 L354.7 2517.3 L359.4 2517.3 L364 2517.4 L368.7 2517.4 L373.3 2517.4 L378 2517.4 L382.6 2517.5 L387.3 2517.5 L392 2517.5 L396.6 2517.5 L401.3 2517.6 L405.9 2517.6 L410.6 2517.6 L415.2 2517.6 L419.9 2517.7 L424.5 2517.7 L429.2 2517.7 L433.9 2517.7 L438.5 2517.8 L443.2 2517.8 L447.8 2517.8 L452.5 2517.8 L457.1 2517.9 L461.8 2517.9 L466.4 2517.9 L471.1 2517.9 L475.8 2518 L480.4 2518 L485.1 2518 L489.7 2518 L494.4 2518.1 L499 2518.1 L503.7 2518.1 L508.3 2518.1 L513 2518.2 L517.6 2518.2 L522.3 2518.2 L527 2518.2 L531.6 2518.2 L536.3 2518.3 L540.9 2518.3 L545.6 2518.3 L550.2 2518.3 L554.9 2518.4 L559.5 2518.4 L564.2 2518.4 L568.9 2518.4 L573.5 2518.5 L578.2 2518.5 L582.8 2518.5 L587.5 2518.5 L592.1 2518.6 L596.8 2518.6 L601.4 2518.6 L606.1 2518.6 L610.7 2518.7 L615.4 2518.7 L620.1 2518.7 L624.7 2518.7 L629.4 2518.7 L634 2518.7 L638.7 2518.8 L643.3 2518.8 L648 2518.8 L652.6 2518.8 L657.3 2518.8 L662 2518.8 L666.6 2518.8 L671.3 2518.8 L675.9 2518.9 L680.6 2518.9 L685.2 2518.9 L689.9 2518.9 L694.5 2518.9 L699.2 2518.9 L703.8 2518.9 L708.5 2519 L713.2 2519 L717.8 2519 L722.5 2519 L727.1 2519 L731.8 2519.1 L736.4 2519.1 L741.1 2519.1 L745.7 2519.2 L750.4 2519.2 L755 2519.2 L759.7 2519.3 L764.4 2519.3 L769 2519.3 L773.7 2519.4 L778.3 2519.4 L783 2519.5 L787.6 2519.5 L792.3 2519.6 L796.9 2519.6 L801.6 2519.7 L806.3 2520 L810.9 2520.5 L815.6 2521.3 L820.2 2522.2 L824.9 2523.2 L829.5 2524.2 L834.2 2525.3 L838.8 2526.5 L843.5 2527.9 L848.1 2529.5 L852.8 2531.1 L857.5 2532.9 L862.1 2534.9 L866.8 2537.2 L871.4 2539.7 L876.1 2542.5 L880.7 2545.8 L885.4 2549.8 L890 2554.3 L894.7 2559.4 L899.4 2564.7 L904 2570.1 L908.7 2575.7 L913.3 2581.9 L918 2589.3 L922.6 2598.6 L927.3 2610.8 L931.9 2628.3 L935.9 2654.9 L936 2827.7" stroke="#997300" stroke-width="3.8" fill="none" stroke-linejoin="round"/>
<path d="M266.3 2516.9 L270.9 2516.9 L275.6 2516.9 L280.2 2516.9 L284.9 2517 L289.6 2517 L294.2 2517 L298.9 2517 L303.5 2517.1 L308.2 2517.1 L312.8 2517.1 L317.5 2517.1 L322.1 2517.2 L326.8 2517.2 L331.4 2517.2 L336.1 2517.2 L340.8 2517.2 L345.4 2517.3 L350.1 2517.3 L354.7 2517.3 L359.4 2517.3 L364 2517.4 L368.7 2517.4 L373.3 2517.4 L378 2517.4 L382.6 2517.5 L387.3 2517.5 L392 2517.5 L396.6 2517.5 L401.3 2517.6 L405.9 2517.6 L410.6 2517.6 L415.2 2517.6 L419.9 2517.7 L424.5 2517.7 L429.2 2517.7 L433.9 2517.7 L438.5 2517.8 L443.2 2517.8 L447.8 2517.8 L452.5 2517.8 L457.1 2517.9 L461.8 2517.9 L466.4 2517.9 L471.1 2517.9 L475.8 2518 L480.4 2518 L485.1 2518 L489.7 2518 L494.4 2518.1 L499 2518.1 L503.7 2518.1 L508.3 2518.1 L513 2518.2 L517.6 2518.2 L522.3 2518.2 L527 2518.2 L531.6 2518.2 L536.3 2518.3 L540.9 2518.3 L545.6 2518.3 L550.2 2518.3 L554.9 2518.4 L559.5 2518.4 L564.2 2518.4 L568.9 2518.4 L573.5 2518.5 L578.2 2518.5 L582.8 2518.5 L587.5 2518.5 L592.1 2518.6 L596.8 2518.6 L601.4 2518.6 L606.1 2518.6 L610.7 2518.7 L615.4 2518.7 L620.1 2518.7 L624.7 2518.7 L629.4 2518.7 L634 2518.7 L638.7 2518.8 L643.3 2518.8 L648 2518.8 L652.6 2518.8 L657.3 2518.8 L662 2518.8 L666.6 2518.8 L671.3 2518.8 L675.9 2518.9 L680.6 2518.9 L685.2 2518.9 L689.9 2518.9 L694.5 2518.9 L699.2 2518.9 L703.8 2518.9 L708.5 2519 L713.2 2519 L717.8 2519 L722.5 2519 L727.1 2519 L731.8 2519.1 L736.4 2519.1 L741.1 2519.1 L745.7 2519.2 L750.4 2519.2 L755 2519.2 L759.7 2519.3 L764.4 2519.3 L769 2519.3 L773.7 2519.4 L778.3 2519.4 L783 2519.5 L787.6 2519.5 L792.3 2519.6 L796.9 2519.6 L801.6 2519.7 L806.3 2520 L810.9 2520.5 L815.6 2521.3 L820.2 2522.2 L824.9 2523.2 L829.5 2524.2 L834.2 2525.3 L838.8 2526.5 L843.5 2527.9 L848.1 2529.5 L852.8 2531.1 L857.5 2532.9 L862.1 2534.9 L866.8 2537.2 L871.4 2539.7 L876.1 2542.5 L880.7 2545.8 L885.4 2549.8 L890 2554.3 L894.7 2559.4 L899.4 2564.7 L904 2570.1 L908.7 2575.7 L913.3 2581.9 L918 2589.3 L922.6 2598.6" stroke="#997300" stroke-width="12" fill="none" stroke-linejoin="round" stroke-linecap="round"/>
<path d="M266.3 2510.9l6 6l-6 6l-6 -6zM270.9 2510.9l6 6l-6 6l-6 -6zM275.6 2510.9l6 6l-6 6l-6 -6zM280.2 2510.9l6 6l-6 6l-6 -6zM284.9 2511l6 6l-6 6l-6 -6zM289.6 2511l6 6l-6 6l-6 -6zM294.2 2511l6 6l-6 6l-6 -6zM298.9 2511l6 6l-6 6l-6 -6zM303.5 2511.1l6 6l-6 6l-6 -6zM308.2 2511.1l6 6l-6 6l-6 -6zM312.8 2511.1l6 6l-6 6l-6 -6zM317.5 2511.1l6 6l-6 6l-6 -6zM322.1 2511.2l6 6l-6 6l-6 -6zM326.8 2511.2l6 6l-6 6l-6 -6zM331.4 2511.2l6 6l-6 6l-6 -6zM336.1 2511.2l6 6l-6 6l-6 -6zM340.8 2511.2l6 6l-6 6l-6 -6zM345.4 2511.3l6 6l-6 6l-6 -6zM350.1 2511.3l6 6l-6 6l-6 -6zM354.7 2511.3l6 6l-6 6l-6 -6zM359.4 2511.3l6 6l-6 6l-6 -6zM364 2511.4l6 6l-6 6l-6 -6zM368.7 2511.4l6 6l-6 6l-6 -6zM373.3 2511.4l6 6l-6 6l-6 -6zM378 2511.4l6 6l-6 6l-6 -6zM382.6 2511.5l6 6l-6 6l-6 -6zM387.3 2511.5l6 6l-6 6l-6 -6zM392 2511.5l6 6l-6 6l-6 -6zM396.6 2511.5l6 6l-6 6l-6 -6zM401.3 2511.6l6 6l-6 6l-6 -6zM405.9 2511.6l6 6l-6 6l-6 -6zM410.6 2511.6l6 6l-6 6l-6 -6zM415.2 2511.6l6 6l-6 6l-6 -6zM419.9 2511.7l6 6l-6 6l-6 -6zM424.5 2511.7l6 6l-6 6l-6 -6zM429.2 2511.7l6 6l-6 6l-6 -6zM433.9 2511.7l6 6l-6 6l-6 -6zM438.5 2511.8l6 6l-6 6l-6 -6zM443.2 2511.8l6 6l-6 6l-6 -6zM447.8 2511.8l6 6l-6 6l-6 -6zM452.5 2511.8l6 6l-6 6l-6 -6zM457.1 2511.9l6 6l-6 6l-6 -6zM461.8 2511.9l6 6l-6 6l-6 -6zM466.4 2511.9l6 6l-6 6l-6 -6zM471.1 2511.9l6 6l-6 6l-6 -6zM475.8 2512l6 6l-6 6l-6 -6zM480.4 2512l6 6l-6 6l-6 -6zM485.1 2512l6 6l-6 6l-6 -6zM489.7 2512l6 6l-6 6l-6 -6zM494.4 2512.1l6 6l-6 6l-6 -6zM499 2512.1l6 6l-6 6l-6 -6zM503.7 2512.1l6 6l-6 6l-6 -6zM508.3 2512.1l6 6l-6 6l-6 -6zM513 2512.2l6 6l-6 6l-6 -6zM517.6 2512.2l6 6l-6 6l-6 -6zM522.3 2512.2l6 6l-6 6l-6 -6zM527 2512.2l6 6l-6 6l-6 -6zM531.6 2512.2l6 6l-6 6l-6 -6zM536.3 2512.3l6 6l-6 6l-6 -6zM540.9 2512.3l6 6l-6 6l-6 -6zM545.6 2512.3l6 6l-6 6l-6 -6zM550.2 2512.3l6 6l-6 6l-6 -6zM554.9 2512.4l6 6l-6 6l-6 -6zM559.5 2512.4l6 6l-6 6l-6 -6zM564.2 2512.4l6 6l-6 6l-6 -6zM568.9 2512.4l6 6l-6 6l-6 -6zM573.5 2512.5l6 6l-6 6l-6 -6zM578.2 2512.5l6 6l-6 6l-6 -6zM582.8 2512.5l6 6l-6 6l-6 -6zM587.5 2512.5l6 6l-6 6l-6 -6zM592.1 2512.6l6 6l-6 6l-6 -6zM596.8 2512.6l6 6l-6 6l-6 -6zM601.4 2512.6l6 6l-6 6l-6 -6zM606.1 2512.6l6 6l-6 6l-6 -6zM610.7 2512.7l6 6l-6 6l-6 -6zM615.4 2512.7l6 6l-6 6l-6 -6zM620.1 2512.7l6 6l-6 6l-6 -6zM624.7 2512.7l6 6l-6 6l-6 -6zM629.4 2512.7l6 6l-6 6l-6 -6zM634 2512.7l6 6l-6 6l-6 -6zM638.7 2512.8l6 6l-6 6l-6 -6zM643.3 2512.8l6 6l-6 6l-6 -6zM648 2512.8l6 6l-6 6l-6 -6zM652.6 2512.8l6 6l-6 6l-6 -6zM657.3 2512.8l6 6l-6 6l-6 -6zM662 2512.8l6 6l-6 6l-6 -6zM666.6 2512.8l6 6l-6 6l-6 -6zM671.3 2512.8l6 6l-6 6l-6 -6zM675.9 2512.9l6 6l-6 6l-6 -6zM680.6 2512.9l6 6l-6 6l-6 -6zM685.2 2512.9l6 6l-6 6l-6 -6zM689.9 2512.9l6 6l-6 6l-6 -6zM694.5 2512.9l6 6l-6 6l-6 -6zM699.2 2512.9l6 6l-6 6l-6 -6zM703.8 2512.9l6 6l-6 6l-6 -6zM708.5 2513l6 6l-6 6l-6 -6zM713.2 2513l6 6l-6 6l-6 -6zM717.8 2513l6 6l-6 6l-6 -6zM722.5 2513l6 6l-6 6l-6 -6zM727.1 2513l6 6l-6 6l-6 -6zM731.8 2513.1l6 6l-6 6l-6 -6zM736.4 2513.1l6 6l-6 6l-6 -6zM741.1 2513.1l6 6l-6 6l-6 -6zM745.7 2513.2l6 6l-6 6l-6 -6zM750.4 2513.2l6 6l-6 6l-6 -6zM755 2513.2l6 6l-6 6l-6 -6zM759.7 2513.3l6 6l-6 6l-6 -6zM764.4 2513.3l6 6l-6 6l-6 -6zM769 2513.3l6 6l-6 6l-6 -6zM773.7 2513.4l6 6l-6 6l-6 -6zM778.3 2513.4l6 6l-6 6l-6 -6zM783 2513.5l6 6l-6 6l-6 -6zM787.6 2513.5l6 6l-6 6l-6 -6zM792.3 2513.6l6 6l-6 6l-6 -6zM796.9 2513.6l6 6l-6 6l-6 -6zM801.6 2513.7l6 6l-6 6l-6 -6zM806.3 2514l6 6l-6 6l-6 -6zM810.9 2514.5l6 6l-6 6l-6 -6zM815.6 2515.3l6 6l-6 6l-6 -6zM820.2 2516.2l6 6l-6 6l-6 -6zM824.9 2517.2l6 6l-6 6l-6 -6zM829.5 2518.2l6 6l-6 6l-6 -6zM834.2 2519.3l6 6l-6 6l-6 -6zM838.8 2520.5l6 6l-6 6l-6 -6zM843.5 2521.9l6 6l-6 6l-6 -6zM848.1 2523.5l6 6l-6 6l-6 -6zM852.8 2525.1l6 6l-6 6l-6 -6zM857.5 2526.9l6 6l-6 6l-6 -6zM862.1 2528.9l6 6l-6 6l-6 -6zM866.8 2531.2l6 6l-6 6l-6 -6zM871.4 2533.7l6 6l-6 6l-6 -6zM876.1 2536.5l6 6l-6 6l-6 -6zM880.7 2539.8l6 6l-6 6l-6 -6zM885.4 2543.8l6 6l-6 6l-6 -6zM890 2548.3l6 6l-6 6l-6 -6zM894.7 2553.4l6 6l-6 6l-6 -6zM899.4 2558.7l6 6l-6 6l-6 -6zM904 2564.1l6 6l-6 6l-6 -6zM908.7 2569.7l6 6l-6 6l-6 -6zM913.3 2575.9l6 6l-6 6l-6 -6zM918 2583.3l6 6l-6 6l-6 -6zM922.6 2592.6l6 6l-6 6l-6 -6zM927.3 2604.8l6 6l-6 6l-6 -6zM931.9 2622.3l6 6l-6 6l-6 -6zM935.9 2648.9l6 6l-6 6l-6 -6zM936 2821.7l6 6l-6 6l-6 -6z" fill="#997300" stroke="#997300" stroke-width="1"/>
</g>
<text x="195.5" y="2841.7" text-anchor="end" font-size="44" font-family="'Liberation Sans', Arial, sans-serif" font-weight="bold" fill="#111">0%</text>
<text x="195.5" y="2727.6" text-anchor="end" font-size="44" font-family="'Liberation Sans', Arial, sans-serif" font-weight="bold" fill="#111">2%</text>
<text x="195.5" y="2613.6" text-anchor="end" font-size="44" font-family="'Liberation Sans', Arial, sans-serif" font-weight="bold" fill="#111">4%</text>
<text x="195.5" y="2499.5" text-anchor="end" font-size="44" font-family="'Liberation Sans', Arial, sans-serif" font-weight="bold" fill="#111">6%</text>
<text x="195.5" y="2385.4" text-anchor="end" font-size="44" font-family="'Liberation Sans', Arial, sans-serif" font-weight="bold" fill="#111">8%</text>
<text x="195.5" y="2271.3" text-anchor="end" font-size="44" font-family="'Liberation Sans', Arial, sans-serif" font-weight="bold" fill="#111">10%</text>
<text x="195.5" y="2157.3" text-anchor="end" font-size="44" font-family="'Liberation Sans', Arial, sans-serif" font-weight="bold" fill="#111">12%</text>
<text x="195.5" y="2043.2" text-anchor="end" font-size="44" font-family="'Liberation Sans', Arial, sans-serif" font-weight="bold" fill="#111">14%</text>
<text x="195.5" y="1929.1" text-anchor="end" font-size="44" font-family="'Liberation Sans', Arial, sans-serif" font-weight="bold" fill="#111">16%</text>
<text x="195.5" y="1815.1" text-anchor="end" font-size="44" font-family="'Liberation Sans', Arial, sans-serif" font-weight="bold" fill="#111">18%</text>
<text x="195.5" y="1701" text-anchor="end" font-size="44" font-family="'Liberation Sans', Arial, sans-serif" font-weight="bold" fill="#111">20%</text>
<text x="242.5" y="2898" text-anchor="middle" font-size="45.5" font-family="'Liberation Sans', Arial, sans-serif" font-weight="bold" fill="#111">0</text>
<text x="475.2" y="2898" text-anchor="middle" font-size="45.5" font-family="'Liberation Sans', Arial, sans-serif" font-weight="bold" fill="#111">200</text>
<text x="708" y="2898" text-anchor="middle" font-size="45.5" font-family="'Liberation Sans', Arial, sans-serif" font-weight="bold" fill="#111">400</text>
<text x="940.8" y="2898" text-anchor="middle" font-size="45.5" font-family="'Liberation Sans', Arial, sans-serif" font-weight="bold" fill="#111">600</text>
<text x="1173.5" y="2898" text-anchor="middle" font-size="45.5" font-family="'Liberation Sans', Arial, sans-serif" font-weight="bold" fill="#111">800</text>
<text x="1406.2" y="2898" text-anchor="middle" font-size="45.5" font-family="'Liberation Sans', Arial, sans-serif" font-weight="bold" fill="#111">1000</text>
<text x="1639" y="2898" text-anchor="middle" font-size="45.5" font-family="'Liberation Sans', Arial, sans-serif" font-weight="bold" fill="#111">1200</text>
<text x="1871.8" y="2898" text-anchor="middle" font-size="45.5" font-family="'Liberation Sans', Arial, sans-serif" font-weight="bold" fill="#111">1400</text>
<text x="2104.5" y="2898" text-anchor="middle" font-size="45.5" font-family="'Liberation Sans', Arial, sans-serif" font-weight="bold" fill="#111">1600</text>
<text x="1071" y="2968.5" font-size="44" font-family="'Liberation Sans', Arial, sans-serif" font-weight="bold" fill="#111" textLength="356" lengthAdjust="spacingAndGlyphs">Temperature, °C</text>
<text x="0" y="0" transform="translate(87 2257) rotate(-90)" text-anchor="middle" font-size="45" font-family="'Liberation Sans', Arial, sans-serif" font-weight="bold" fill="#111" textLength="479" lengthAdjust="spacingAndGlyphs">Amount of phases, %</text>
<text x="361.5" y="2018" font-size="56.5" font-family="'Liberation Sans', Arial, sans-serif" font-weight="bold" fill="#111" textLength="330" lengthAdjust="spacingAndGlyphs">Sample M10</text>
<path d="M995 2048H1059" stroke="#5B9BD5" stroke-width="4"/>
<path d="M1029 2041.5l6.5 6.5l-6.5 6.5l-6.5 -6.5z" fill="#5B9BD5"/>
<text x="1064" y="2063" font-size="41.7" font-family="'Liberation Sans', Arial, sans-serif" font-weight="bold" fill="#111">Amount of BCC_A2</text>
<path d="M995 2117.7H1059" stroke="#ED7D31" stroke-width="4"/>
<path d="M1029 2111.2l6.5 6.5l-6.5 6.5l-6.5 -6.5z" fill="#ED7D31"/>
<text x="1064" y="2132.7" font-size="41.7" font-family="'Liberation Sans', Arial, sans-serif" font-weight="bold" fill="#111">Amount of FCC_A1</text>
<path d="M995 2187.4H1059" stroke="#A5A5A5" stroke-width="4"/>
<path d="M1029 2180.9l6.5 6.5l-6.5 6.5l-6.5 -6.5z" fill="#A5A5A5"/>
<text x="1064" y="2202.4" font-size="41.7" font-family="'Liberation Sans', Arial, sans-serif" font-weight="bold" fill="#111">Amount of FCC_A1#2</text>
<path d="M995 2257.1H1059" stroke="#FFC000" stroke-width="4"/>
<path d="M1029 2250.6l6.5 6.5l-6.5 6.5l-6.5 -6.5z" fill="#FFC000"/>
<text x="1064" y="2272.1" font-size="41.7" font-family="'Liberation Sans', Arial, sans-serif" font-weight="bold" fill="#111">Amount of FCC_A1#3</text>
<path d="M995 2326.8H1059" stroke="#70AD47" stroke-width="4"/>
<path d="M1029 2320.3l6.5 6.5l-6.5 6.5l-6.5 -6.5z" fill="#70AD47"/>
<text x="1064" y="2341.8" font-size="41.7" font-family="'Liberation Sans', Arial, sans-serif" font-weight="bold" fill="#111">Amount of LAVES_PHASE_C14</text>
<path d="M995 2396.5H1059" stroke="#255E91" stroke-width="4"/>
<path d="M1029 2390l6.5 6.5l-6.5 6.5l-6.5 -6.5z" fill="#255E91"/>
<text x="1064" y="2411.5" font-size="41.7" font-family="'Liberation Sans', Arial, sans-serif" font-weight="bold" fill="#111">Amount of LAVES_PHASE_C14#2</text>
<path d="M995 2466.2H1059" stroke="#9E480E" stroke-width="4"/>
<path d="M1029 2459.7l6.5 6.5l-6.5 6.5l-6.5 -6.5z" fill="#9E480E"/>
<text x="1064" y="2481.2" font-size="41.7" font-family="'Liberation Sans', Arial, sans-serif" font-weight="bold" fill="#111">Amount of LIQUID</text>
<path d="M995 2535.9H1059" stroke="#636363" stroke-width="4"/>
<path d="M1029 2529.4l6.5 6.5l-6.5 6.5l-6.5 -6.5z" fill="#636363"/>
<text x="1064" y="2550.9" font-size="41.7" font-family="'Liberation Sans', Arial, sans-serif" font-weight="bold" fill="#111">Amount of MNS</text>
<path d="M995 2605.6H1059" stroke="#997300" stroke-width="4"/>
<path d="M1029 2599.1l6.5 6.5l-6.5 6.5l-6.5 -6.5z" fill="#997300"/>
<text x="1064" y="2620.6" font-size="41.7" font-family="'Liberation Sans', Arial, sans-serif" font-weight="bold" fill="#111">Amount of NI3TI</text>
<text x="1054" y="1553.5" font-size="85" font-family="'Liberation Serif', 'Times New Roman', serif" fill="#000">(</text>
<text x="1082" y="1553.5" font-size="84" font-family="'Liberation Serif', 'Times New Roman', serif" font-weight="bold" fill="#000">a</text>
<text x="1124" y="1553.5" font-size="85" font-family="'Liberation Serif', 'Times New Roman', serif" fill="#000">)</text>
<text x="1050" y="3135" font-size="85" font-family="'Liberation Serif', 'Times New Roman', serif" fill="#000">(</text>
<text x="1077" y="3135" font-size="91" font-family="'Liberation Serif', 'Times New Roman', serif" font-weight="bold" fill="#000">b</text>
<text x="1129" y="3135" font-size="85" font-family="'Liberation Serif', 'Times New Roman', serif" fill="#000">)</text>
</svg>
</body></html>
